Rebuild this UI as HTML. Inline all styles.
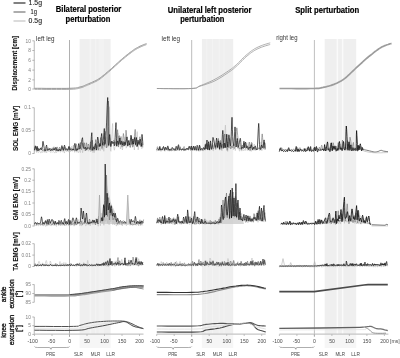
<!DOCTYPE html>
<html><head><meta charset="utf-8"><style>html,body{margin:0;padding:0;background:#fff;width:400px;height:358px;overflow:hidden;position:relative} svg{will-change:transform} text{-webkit-font-smoothing:antialiased}</style></head>
<body><svg width="400" height="358" viewBox="0 0 400 358" style="position:absolute;left:0;top:0">
<rect width="400" height="358" fill="#fff"/>
<rect x="79.60" y="39" width="31.00" height="295" fill="#efefef"/>
<rect x="79.60" y="334" width="31.00" height="14" fill="#f6f6f6"/>
<rect x="89.60" y="39" width="1.6" height="295" fill="#f4f4f4"/>
<rect x="95.00" y="39" width="1.2" height="295" fill="#f3f3f3"/>
<rect x="98.50" y="39" width="5.5" height="295" fill="#f2f2f2"/>
<rect x="201.90" y="39" width="31.30" height="295" fill="#efefef"/>
<rect x="201.90" y="334" width="31.30" height="14" fill="#f6f6f6"/>
<rect x="206.20" y="39" width="1.0" height="295" fill="#f3f3f3"/>
<rect x="211.90" y="39" width="1.0" height="295" fill="#f3f3f3"/>
<rect x="218.60" y="39" width="1.0" height="295" fill="#f3f3f3"/>
<rect x="223.70" y="39" width="1.0" height="295" fill="#f3f3f3"/>
<rect x="324.70" y="39" width="31.50" height="295" fill="#efefef"/>
<rect x="324.70" y="334" width="31.50" height="14" fill="#f6f6f6"/>
<rect x="336.70" y="39" width="1.4" height="295" fill="#fafafa"/>
<rect x="341.90" y="39" width="1.4" height="295" fill="#fafafa"/>
<line x1="69.5" y1="40" x2="69.5" y2="337" stroke="#9c9c9c" stroke-width="0.8"/>
<line x1="191.7" y1="40" x2="191.7" y2="337" stroke="#b4b4b4" stroke-width="0.9"/>
<line x1="314.4" y1="40" x2="314.4" y2="337" stroke="#b8b8b8" stroke-width="0.9"/>
<line x1="13.5" y1="3" x2="25.5" y2="3" stroke="#1a1a1a" stroke-width="1.1"/>
<line x1="13.5" y1="12" x2="25.5" y2="12" stroke="#6a6a6a" stroke-width="1.1"/>
<line x1="13.5" y1="21" x2="25.5" y2="21" stroke="#bdbdbd" stroke-width="1.1"/>
<text x="35.3" y="5.2" font-family="Liberation Sans, sans-serif" font-size="7.4" fill="#222" stroke="#222" stroke-width="0.12" text-anchor="middle" textLength="13.4" lengthAdjust="spacingAndGlyphs">1.5g</text>
<text x="33.8" y="14.2" font-family="Liberation Sans, sans-serif" font-size="7.4" fill="#222" stroke="#222" stroke-width="0.12" text-anchor="middle" textLength="6.4" lengthAdjust="spacingAndGlyphs">1g</text>
<text x="35.3" y="23.2" font-family="Liberation Sans, sans-serif" font-size="7.4" fill="#222" stroke="#222" stroke-width="0.12" text-anchor="middle" textLength="13.4" lengthAdjust="spacingAndGlyphs">0.5g</text>
<text x="88.6" y="12.4" font-family="Liberation Sans, sans-serif" font-size="8.8" font-weight="bold" fill="#000" stroke="#000" stroke-width="0.2" text-anchor="middle" textLength="65.5" lengthAdjust="spacingAndGlyphs">Bilateral posterior</text>
<text x="87.9" y="21.5" font-family="Liberation Sans, sans-serif" font-size="8.8" font-weight="bold" fill="#000" stroke="#000" stroke-width="0.2" text-anchor="middle" textLength="44.8" lengthAdjust="spacingAndGlyphs">perturbation</text>
<text x="209.6" y="12.5" font-family="Liberation Sans, sans-serif" font-size="8.8" font-weight="bold" fill="#000" stroke="#000" stroke-width="0.2" text-anchor="middle" textLength="83.8" lengthAdjust="spacingAndGlyphs">Unilateral left posterior</text>
<text x="202.3" y="21.6" font-family="Liberation Sans, sans-serif" font-size="8.8" font-weight="bold" fill="#000" stroke="#000" stroke-width="0.2" text-anchor="middle" textLength="44.3" lengthAdjust="spacingAndGlyphs">perturbation</text>
<text x="327.2" y="12.5" font-family="Liberation Sans, sans-serif" font-size="8.8" font-weight="bold" fill="#000" stroke="#000" stroke-width="0.2" text-anchor="middle" textLength="64" lengthAdjust="spacingAndGlyphs">Split perturbation</text>
<text x="36" y="40.6" font-family="Liberation Sans, sans-serif" font-size="6.3" fill="#333" text-anchor="start">left leg</text>
<text x="161.5" y="40.9" font-family="Liberation Sans, sans-serif" font-size="6.3" fill="#333" text-anchor="start">left leg</text>
<text x="276.2" y="40.2" font-family="Liberation Sans, sans-serif" font-size="6.3" fill="#333" text-anchor="start" textLength="21.3" lengthAdjust="spacingAndGlyphs">right leg</text>
<text transform="translate(17.1,63.25) rotate(-90)" font-family="Liberation Sans, sans-serif" font-size="7.0" font-weight="bold" fill="#111" stroke="#111" stroke-width="0.1" text-anchor="middle" textLength="54.7" lengthAdjust="spacingAndGlyphs">Displacement [cm]</text>
<text transform="translate(18.2,128.5) rotate(-90)" font-family="Liberation Sans, sans-serif" font-size="7.0" font-weight="bold" fill="#111" stroke="#111" stroke-width="0.1" text-anchor="middle" textLength="45.2" lengthAdjust="spacingAndGlyphs">SOL EMG [mV]</text>
<text transform="translate(17.9,198.5) rotate(-90)" font-family="Liberation Sans, sans-serif" font-size="7.0" font-weight="bold" fill="#111" stroke="#111" stroke-width="0.1" text-anchor="middle" textLength="43.5" lengthAdjust="spacingAndGlyphs">GM EMG [mV]</text>
<text transform="translate(17.8,251.45) rotate(-90)" font-family="Liberation Sans, sans-serif" font-size="7.0" font-weight="bold" fill="#111" stroke="#111" stroke-width="0.1" text-anchor="middle" textLength="38.5" lengthAdjust="spacingAndGlyphs">TA EMG [mV]</text>
<text transform="translate(6.0,294.35) rotate(-90)" font-family="Liberation Sans, sans-serif" font-size="7.2" font-weight="normal" fill="#111" stroke="#111" stroke-width="0.32" text-anchor="middle" textLength="15.7" lengthAdjust="spacingAndGlyphs">ankle</text>
<text transform="translate(13.5,293.85) rotate(-90)" font-family="Liberation Sans, sans-serif" font-size="7.2" font-weight="normal" fill="#111" stroke="#111" stroke-width="0.32" text-anchor="middle" textLength="29.3" lengthAdjust="spacingAndGlyphs">excursion</text>
<text transform="translate(21.3,293.85) rotate(-90)" font-family="Liberation Sans, sans-serif" font-size="7.2" font-weight="normal" fill="#111" stroke="#111" stroke-width="0.32" text-anchor="middle" textLength="6.6" lengthAdjust="spacingAndGlyphs">[°]</text>
<text transform="translate(6.0,330.5) rotate(-90)" font-family="Liberation Sans, sans-serif" font-size="7.2" font-weight="normal" fill="#111" stroke="#111" stroke-width="0.32" text-anchor="middle" textLength="14.6" lengthAdjust="spacingAndGlyphs">knee</text>
<text transform="translate(13.5,330.0) rotate(-90)" font-family="Liberation Sans, sans-serif" font-size="7.2" font-weight="normal" fill="#111" stroke="#111" stroke-width="0.32" text-anchor="middle" textLength="30.4" lengthAdjust="spacingAndGlyphs">excursion</text>
<text transform="translate(21.3,328.5) rotate(-90)" font-family="Liberation Sans, sans-serif" font-size="7.2" font-weight="normal" fill="#111" stroke="#111" stroke-width="0.32" text-anchor="middle" textLength="6.6" lengthAdjust="spacingAndGlyphs">[°]</text>
<line x1="34.3" y1="40.8" x2="34.3" y2="89" stroke="#c4c4c4" stroke-width="1.2"/>
<line x1="32.3" y1="40.8" x2="34.3" y2="40.8" stroke="#999" stroke-width="0.7"/>
<text x="30.9" y="42.5" font-family="Liberation Sans, sans-serif" font-size="4.8" fill="#808080" text-anchor="end">10</text>
<line x1="32.3" y1="50.5" x2="34.3" y2="50.5" stroke="#999" stroke-width="0.7"/>
<text x="30.9" y="52.2" font-family="Liberation Sans, sans-serif" font-size="4.8" fill="#808080" text-anchor="end">8</text>
<line x1="32.3" y1="60.3" x2="34.3" y2="60.3" stroke="#999" stroke-width="0.7"/>
<text x="30.9" y="62.0" font-family="Liberation Sans, sans-serif" font-size="4.8" fill="#808080" text-anchor="end">6</text>
<line x1="32.3" y1="70.1" x2="34.3" y2="70.1" stroke="#999" stroke-width="0.7"/>
<text x="30.9" y="71.8" font-family="Liberation Sans, sans-serif" font-size="4.8" fill="#808080" text-anchor="end">4</text>
<line x1="32.3" y1="79.9" x2="34.3" y2="79.9" stroke="#999" stroke-width="0.7"/>
<text x="30.9" y="81.60000000000001" font-family="Liberation Sans, sans-serif" font-size="4.8" fill="#808080" text-anchor="end">2</text>
<line x1="32.3" y1="89" x2="34.3" y2="89" stroke="#999" stroke-width="0.7"/>
<text x="30.9" y="90.7" font-family="Liberation Sans, sans-serif" font-size="4.8" fill="#808080" text-anchor="end">0</text>
<line x1="34.3" y1="107.7" x2="34.3" y2="153.5" stroke="#c4c4c4" stroke-width="1.2"/>
<line x1="32.3" y1="107.7" x2="34.3" y2="107.7" stroke="#999" stroke-width="0.7"/>
<text x="30.9" y="109.4" font-family="Liberation Sans, sans-serif" font-size="4.8" fill="#808080" text-anchor="end">0.1</text>
<line x1="32.3" y1="130.6" x2="34.3" y2="130.6" stroke="#999" stroke-width="0.7"/>
<text x="30.9" y="132.29999999999998" font-family="Liberation Sans, sans-serif" font-size="4.8" fill="#808080" text-anchor="end">0.05</text>
<line x1="32.3" y1="153.5" x2="34.3" y2="153.5" stroke="#999" stroke-width="0.7"/>
<text x="30.9" y="155.2" font-family="Liberation Sans, sans-serif" font-size="4.8" fill="#808080" text-anchor="end">0</text>
<line x1="34.3" y1="168.8" x2="34.3" y2="226" stroke="#c4c4c4" stroke-width="1.2"/>
<line x1="32.3" y1="168.8" x2="34.3" y2="168.8" stroke="#999" stroke-width="0.7"/>
<text x="30.9" y="170.5" font-family="Liberation Sans, sans-serif" font-size="4.8" fill="#808080" text-anchor="end">0.25</text>
<line x1="32.3" y1="180.2" x2="34.3" y2="180.2" stroke="#999" stroke-width="0.7"/>
<text x="30.9" y="181.89999999999998" font-family="Liberation Sans, sans-serif" font-size="4.8" fill="#808080" text-anchor="end">0.2</text>
<line x1="32.3" y1="191.6" x2="34.3" y2="191.6" stroke="#999" stroke-width="0.7"/>
<text x="30.9" y="193.29999999999998" font-family="Liberation Sans, sans-serif" font-size="4.8" fill="#808080" text-anchor="end">0.15</text>
<line x1="32.3" y1="203" x2="34.3" y2="203" stroke="#999" stroke-width="0.7"/>
<text x="30.9" y="204.7" font-family="Liberation Sans, sans-serif" font-size="4.8" fill="#808080" text-anchor="end">0.1</text>
<line x1="32.3" y1="214.5" x2="34.3" y2="214.5" stroke="#999" stroke-width="0.7"/>
<text x="30.9" y="216.2" font-family="Liberation Sans, sans-serif" font-size="4.8" fill="#808080" text-anchor="end">0.05</text>
<line x1="32.3" y1="226" x2="34.3" y2="226" stroke="#999" stroke-width="0.7"/>
<text x="30.9" y="227.7" font-family="Liberation Sans, sans-serif" font-size="4.8" fill="#808080" text-anchor="end">0.0</text>
<line x1="34.3" y1="243.7" x2="34.3" y2="266.5" stroke="#c4c4c4" stroke-width="1.2"/>
<line x1="32.3" y1="243.7" x2="34.3" y2="243.7" stroke="#999" stroke-width="0.7"/>
<text x="30.9" y="245.39999999999998" font-family="Liberation Sans, sans-serif" font-size="4.8" fill="#808080" text-anchor="end">0.02</text>
<line x1="32.3" y1="255.1" x2="34.3" y2="255.1" stroke="#999" stroke-width="0.7"/>
<text x="30.9" y="256.8" font-family="Liberation Sans, sans-serif" font-size="4.8" fill="#808080" text-anchor="end">0.01</text>
<line x1="32.3" y1="266.5" x2="34.3" y2="266.5" stroke="#999" stroke-width="0.7"/>
<text x="30.9" y="268.2" font-family="Liberation Sans, sans-serif" font-size="4.8" fill="#808080" text-anchor="end">0</text>
<line x1="34.3" y1="284.6" x2="34.3" y2="302.3" stroke="#c4c4c4" stroke-width="1.2"/>
<line x1="32.3" y1="284.6" x2="34.3" y2="284.6" stroke="#999" stroke-width="0.7"/>
<text x="30.9" y="286.3" font-family="Liberation Sans, sans-serif" font-size="4.8" fill="#808080" text-anchor="end">95</text>
<line x1="32.3" y1="293.5" x2="34.3" y2="293.5" stroke="#999" stroke-width="0.7"/>
<text x="30.9" y="295.2" font-family="Liberation Sans, sans-serif" font-size="4.8" fill="#808080" text-anchor="end">90</text>
<line x1="32.3" y1="302.3" x2="34.3" y2="302.3" stroke="#999" stroke-width="0.7"/>
<text x="30.9" y="304.0" font-family="Liberation Sans, sans-serif" font-size="4.8" fill="#808080" text-anchor="end">85</text>
<line x1="34.3" y1="317" x2="34.3" y2="334.4" stroke="#c4c4c4" stroke-width="1.2"/>
<line x1="32.3" y1="317" x2="34.3" y2="317" stroke="#999" stroke-width="0.7"/>
<text x="30.9" y="318.7" font-family="Liberation Sans, sans-serif" font-size="4.8" fill="#808080" text-anchor="end">10</text>
<line x1="32.3" y1="325.7" x2="34.3" y2="325.7" stroke="#999" stroke-width="0.7"/>
<text x="30.9" y="327.4" font-family="Liberation Sans, sans-serif" font-size="4.8" fill="#808080" text-anchor="end">5</text>
<line x1="32.3" y1="334.4" x2="34.3" y2="334.4" stroke="#999" stroke-width="0.7"/>
<text x="30.9" y="336.09999999999997" font-family="Liberation Sans, sans-serif" font-size="4.8" fill="#808080" text-anchor="end">0</text>
<line x1="34.5" y1="334.2" x2="143.5" y2="334.2" stroke="#c6c6c6" stroke-width="1.3"/>
<line x1="34.5" y1="334.3" x2="34.5" y2="336" stroke="#999" stroke-width="0.6"/>
<text x="32.7" y="343.3" font-family="Liberation Sans, sans-serif" font-size="5.1" fill="#4a4a4a" text-anchor="middle">-100</text>
<line x1="52.0" y1="334.3" x2="52.0" y2="336" stroke="#999" stroke-width="0.6"/>
<text x="51.6" y="343.3" font-family="Liberation Sans, sans-serif" font-size="5.1" fill="#4a4a4a" text-anchor="middle">-50</text>
<line x1="69.5" y1="334.3" x2="69.5" y2="336" stroke="#999" stroke-width="0.6"/>
<text x="69.6" y="343.3" font-family="Liberation Sans, sans-serif" font-size="5.1" fill="#4a4a4a" text-anchor="middle">0</text>
<line x1="87.0" y1="334.3" x2="87.0" y2="336" stroke="#999" stroke-width="0.6"/>
<text x="87.1" y="343.3" font-family="Liberation Sans, sans-serif" font-size="5.1" fill="#4a4a4a" text-anchor="middle">50</text>
<line x1="104.5" y1="334.3" x2="104.5" y2="336" stroke="#999" stroke-width="0.6"/>
<text x="104.6" y="343.3" font-family="Liberation Sans, sans-serif" font-size="5.1" fill="#4a4a4a" text-anchor="middle">100</text>
<line x1="122.0" y1="334.3" x2="122.0" y2="336" stroke="#999" stroke-width="0.6"/>
<text x="122.1" y="343.3" font-family="Liberation Sans, sans-serif" font-size="5.1" fill="#4a4a4a" text-anchor="middle">150</text>
<line x1="139.5" y1="334.3" x2="139.5" y2="336" stroke="#999" stroke-width="0.6"/>
<text x="139.6" y="343.3" font-family="Liberation Sans, sans-serif" font-size="5.1" fill="#4a4a4a" text-anchor="middle">200</text>
<path d="M34.5 346.5 Q34.5 347.5 37.5 347.5 L49.0 347.5 Q51.0 347.5 51.0 349.3 Q51.0 347.5 52.0 347.5 L66.5 347.5 Q69.5 347.5 69.5 346.5" fill="none" stroke="#777" stroke-width="0.6"/>
<text x="50.6" y="355.6" font-family="Liberation Sans, sans-serif" font-size="5.3" fill="#444" text-anchor="middle" textLength="9" lengthAdjust="spacingAndGlyphs">PRE</text>
<text x="78.425" y="355.6" font-family="Liberation Sans, sans-serif" font-size="5.3" fill="#444" text-anchor="middle" textLength="9" lengthAdjust="spacingAndGlyphs">SLR</text>
<text x="95.4" y="355.6" font-family="Liberation Sans, sans-serif" font-size="5.3" fill="#444" text-anchor="middle" textLength="9.5" lengthAdjust="spacingAndGlyphs">MLR</text>
<text x="110.625" y="355.6" font-family="Liberation Sans, sans-serif" font-size="5.3" fill="#444" text-anchor="middle" textLength="8.8" lengthAdjust="spacingAndGlyphs">LLR</text>
<line x1="156.7" y1="334.2" x2="265.7" y2="334.2" stroke="#c6c6c6" stroke-width="1.3"/>
<line x1="156.7" y1="334.3" x2="156.7" y2="336" stroke="#999" stroke-width="0.6"/>
<text x="154.89999999999998" y="343.3" font-family="Liberation Sans, sans-serif" font-size="5.1" fill="#4a4a4a" text-anchor="middle">-100</text>
<line x1="174.2" y1="334.3" x2="174.2" y2="336" stroke="#999" stroke-width="0.6"/>
<text x="173.79999999999998" y="343.3" font-family="Liberation Sans, sans-serif" font-size="5.1" fill="#4a4a4a" text-anchor="middle">-50</text>
<line x1="191.7" y1="334.3" x2="191.7" y2="336" stroke="#999" stroke-width="0.6"/>
<text x="191.79999999999998" y="343.3" font-family="Liberation Sans, sans-serif" font-size="5.1" fill="#4a4a4a" text-anchor="middle">0</text>
<line x1="209.2" y1="334.3" x2="209.2" y2="336" stroke="#999" stroke-width="0.6"/>
<text x="209.29999999999998" y="343.3" font-family="Liberation Sans, sans-serif" font-size="5.1" fill="#4a4a4a" text-anchor="middle">50</text>
<line x1="226.7" y1="334.3" x2="226.7" y2="336" stroke="#999" stroke-width="0.6"/>
<text x="226.79999999999998" y="343.3" font-family="Liberation Sans, sans-serif" font-size="5.1" fill="#4a4a4a" text-anchor="middle">100</text>
<line x1="244.2" y1="334.3" x2="244.2" y2="336" stroke="#999" stroke-width="0.6"/>
<text x="244.29999999999998" y="343.3" font-family="Liberation Sans, sans-serif" font-size="5.1" fill="#4a4a4a" text-anchor="middle">150</text>
<line x1="261.7" y1="334.3" x2="261.7" y2="336" stroke="#999" stroke-width="0.6"/>
<text x="261.8" y="343.3" font-family="Liberation Sans, sans-serif" font-size="5.1" fill="#4a4a4a" text-anchor="middle">200</text>
<path d="M156.7 346.5 Q156.7 347.5 159.7 347.5 L171.2 347.5 Q173.2 347.5 173.2 349.3 Q173.2 347.5 174.2 347.5 L188.7 347.5 Q191.7 347.5 191.7 346.5" fill="none" stroke="#777" stroke-width="0.6"/>
<text x="172.79999999999998" y="355.6" font-family="Liberation Sans, sans-serif" font-size="5.3" fill="#444" text-anchor="middle" textLength="9" lengthAdjust="spacingAndGlyphs">PRE</text>
<text x="200.625" y="355.6" font-family="Liberation Sans, sans-serif" font-size="5.3" fill="#444" text-anchor="middle" textLength="9" lengthAdjust="spacingAndGlyphs">SLR</text>
<text x="217.6" y="355.6" font-family="Liberation Sans, sans-serif" font-size="5.3" fill="#444" text-anchor="middle" textLength="9.5" lengthAdjust="spacingAndGlyphs">MLR</text>
<text x="232.825" y="355.6" font-family="Liberation Sans, sans-serif" font-size="5.3" fill="#444" text-anchor="middle" textLength="8.8" lengthAdjust="spacingAndGlyphs">LLR</text>
<line x1="279.4" y1="334.2" x2="388.4" y2="334.2" stroke="#c6c6c6" stroke-width="1.3"/>
<line x1="279.4" y1="334.3" x2="279.4" y2="336" stroke="#999" stroke-width="0.6"/>
<text x="277.59999999999997" y="343.3" font-family="Liberation Sans, sans-serif" font-size="5.1" fill="#4a4a4a" text-anchor="middle">-100</text>
<line x1="296.9" y1="334.3" x2="296.9" y2="336" stroke="#999" stroke-width="0.6"/>
<text x="296.5" y="343.3" font-family="Liberation Sans, sans-serif" font-size="5.1" fill="#4a4a4a" text-anchor="middle">-50</text>
<line x1="314.4" y1="334.3" x2="314.4" y2="336" stroke="#999" stroke-width="0.6"/>
<text x="314.5" y="343.3" font-family="Liberation Sans, sans-serif" font-size="5.1" fill="#4a4a4a" text-anchor="middle">0</text>
<line x1="331.9" y1="334.3" x2="331.9" y2="336" stroke="#999" stroke-width="0.6"/>
<text x="332.0" y="343.3" font-family="Liberation Sans, sans-serif" font-size="5.1" fill="#4a4a4a" text-anchor="middle">50</text>
<line x1="349.4" y1="334.3" x2="349.4" y2="336" stroke="#999" stroke-width="0.6"/>
<text x="349.5" y="343.3" font-family="Liberation Sans, sans-serif" font-size="5.1" fill="#4a4a4a" text-anchor="middle">100</text>
<line x1="366.9" y1="334.3" x2="366.9" y2="336" stroke="#999" stroke-width="0.6"/>
<text x="367.0" y="343.3" font-family="Liberation Sans, sans-serif" font-size="5.1" fill="#4a4a4a" text-anchor="middle">150</text>
<line x1="384.4" y1="334.3" x2="384.4" y2="336" stroke="#999" stroke-width="0.6"/>
<text x="384.5" y="343.3" font-family="Liberation Sans, sans-serif" font-size="5.1" fill="#4a4a4a" text-anchor="middle">200</text>
<path d="M279.4 346.5 Q279.4 347.5 282.4 347.5 L293.9 347.5 Q295.9 347.5 295.9 349.3 Q295.9 347.5 296.9 347.5 L311.4 347.5 Q314.4 347.5 314.4 346.5" fill="none" stroke="#777" stroke-width="0.6"/>
<text x="295.5" y="355.6" font-family="Liberation Sans, sans-serif" font-size="5.3" fill="#444" text-anchor="middle" textLength="9" lengthAdjust="spacingAndGlyphs">PRE</text>
<text x="323.325" y="355.6" font-family="Liberation Sans, sans-serif" font-size="5.3" fill="#444" text-anchor="middle" textLength="9" lengthAdjust="spacingAndGlyphs">SLR</text>
<text x="340.29999999999995" y="355.6" font-family="Liberation Sans, sans-serif" font-size="5.3" fill="#444" text-anchor="middle" textLength="9.5" lengthAdjust="spacingAndGlyphs">MLR</text>
<text x="355.525" y="355.6" font-family="Liberation Sans, sans-serif" font-size="5.3" fill="#444" text-anchor="middle" textLength="8.8" lengthAdjust="spacingAndGlyphs">LLR</text>
<text x="394.8" y="343.3" font-family="Liberation Sans, sans-serif" font-size="5.1" fill="#4a4a4a" text-anchor="middle">[ms]</text>
<polyline points="34.5,89.3 37.4,89.3 41.4,89.3 46.1,89.4 51.3,89.4 56.6,89.4 61.7,89.4 66.1,89.4 69.5,89.3 72.0,89.2 73.9,89.1 75.4,89.0 76.5,88.8 77.4,88.7 78.2,88.5 79.0,88.2 80.0,88.0 81.1,87.7 82.0,87.5 82.9,87.2 83.7,86.9 84.5,86.5 85.4,86.1 86.4,85.7 87.5,85.2 88.7,84.7 90.1,84.1 91.5,83.5 92.9,82.9 94.4,82.2 95.9,81.5 97.4,80.7 98.8,79.8 100.2,78.9 101.6,77.8 103.0,76.7 104.4,75.6 105.8,74.4 107.2,73.2 108.6,72.0 110.0,70.8 111.4,69.6 112.8,68.3 114.2,67.0 115.6,65.7 117.1,64.4 118.5,63.1 119.9,61.8 121.3,60.6 122.7,59.4 124.2,58.2 125.7,56.9 127.2,55.7 128.6,54.6 130.0,53.5 131.4,52.5 132.6,51.6 133.7,50.8 134.7,50.1 135.7,49.5 136.6,49.0 137.5,48.5 138.3,48.1 139.1,47.6 140.0,47.2 140.9,46.8 141.8,46.4 142.8,46.0 143.7,45.6 144.6,45.3 145.4,45.0 146.0,44.8 146.5,44.6" fill="none" stroke="#aaaaaa" stroke-width="1.0" stroke-linejoin="round" opacity="1"/>
<polyline points="34.5,88.3 37.4,88.3 41.4,88.3 46.1,88.4 51.3,88.4 56.6,88.4 61.7,88.4 66.1,88.4 69.5,88.3 72.0,88.2 73.9,88.1 75.4,88.0 76.5,87.8 77.4,87.7 78.2,87.5 79.0,87.2 80.0,87.0 81.1,86.7 82.0,86.5 82.9,86.2 83.7,85.9 84.5,85.5 85.4,85.1 86.4,84.7 87.5,84.2 88.7,83.7 90.1,83.1 91.5,82.5 92.9,81.9 94.4,81.2 95.9,80.5 97.4,79.7 98.8,78.8 100.2,77.9 101.6,76.8 103.0,75.7 104.4,74.6 105.8,73.4 107.2,72.2 108.6,71.0 110.0,69.8 111.4,68.6 112.8,67.3 114.2,66.0 115.6,64.7 117.1,63.4 118.5,62.1 119.9,60.8 121.3,59.6 122.7,58.4 124.2,57.2 125.7,55.9 127.2,54.7 128.6,53.6 130.0,52.5 131.4,51.5 132.6,50.6 133.7,49.8 134.7,49.1 135.7,48.5 136.6,48.0 137.5,47.5 138.3,47.1 139.1,46.6 140.0,46.2 140.9,45.8 141.8,45.4 142.8,45.0 143.7,44.6 144.6,44.3 145.4,44.0 146.0,43.8 146.5,43.6" fill="none" stroke="#8c8c8c" stroke-width="0.9" stroke-linejoin="round" opacity="1"/>
<polyline points="156.9,88.5 159.8,88.5 163.8,88.6 168.6,88.6 173.8,88.7 179.1,88.7 184.0,88.7 188.4,88.6 191.7,88.5 194.0,88.3 195.5,88.2 196.5,88.0 197.1,87.7 197.6,87.4 198.1,87.1 198.8,86.6 200.0,86.2 201.6,85.7 203.3,85.2 205.1,84.6 207.1,83.9 209.1,83.2 211.1,82.5 213.1,81.7 215.0,80.8 216.9,79.8 218.9,78.6 221.0,77.4 223.0,76.1 224.9,74.8 226.8,73.6 228.5,72.4 230.0,71.4 231.3,70.5 232.4,69.7 233.4,68.9 234.2,68.2 235.0,67.5 235.8,66.8 236.6,66.1 237.5,65.3 238.4,64.4 239.4,63.5 240.3,62.5 241.2,61.5 242.2,60.6 243.1,59.6 244.1,58.7 245.0,57.8 245.9,57.0 246.9,56.1 247.8,55.4 248.8,54.6 249.7,53.8 250.6,53.1 251.6,52.4 252.5,51.8 253.4,51.2 254.3,50.6 255.2,50.1 256.1,49.6 257.0,49.2 257.9,48.7 258.9,48.3 260.0,47.8 261.2,47.3 262.6,46.8 264.1,46.3 265.6,45.8 267.0,45.4 268.3,45.0 269.4,44.7 270.2,44.4" fill="none" stroke="#949494" stroke-width="0.75" stroke-linejoin="round" opacity="1"/>
<polyline points="156.9,88.5 159.8,88.5 163.8,88.6 168.6,88.6 173.8,88.7 179.1,88.7 184.0,88.7 188.4,88.6 191.7,88.5 194.0,88.3 195.5,88.1 196.5,87.8 197.1,87.5 197.6,87.2 198.1,86.8 198.8,86.3 200.0,85.8 201.6,85.2 203.3,84.5 205.1,83.8 207.1,82.9 209.1,82.1 211.1,81.2 213.1,80.2 215.0,79.2 216.9,78.2 218.9,77.0 221.0,75.8 223.0,74.5 224.9,73.2 226.8,72.0 228.5,70.8 230.0,69.8 231.3,68.9 232.4,68.1 233.4,67.3 234.2,66.6 235.0,65.9 235.8,65.2 236.6,64.5 237.5,63.7 238.4,62.8 239.4,61.9 240.3,60.9 241.2,59.9 242.2,59.0 243.1,58.0 244.1,57.1 245.0,56.2 245.9,55.4 246.9,54.5 247.8,53.8 248.8,53.0 249.7,52.2 250.6,51.5 251.6,50.8 252.5,50.2 253.4,49.6 254.3,49.0 255.2,48.5 256.1,48.0 257.0,47.6 257.9,47.1 258.9,46.7 260.0,46.2 261.2,45.7 262.6,45.2 264.1,44.7 265.6,44.2 267.0,43.8 268.3,43.4 269.4,43.1 270.2,42.8" fill="none" stroke="#949494" stroke-width="0.75" stroke-linejoin="round" opacity="1"/>
<polyline points="279.5,88.5 282.4,88.5 286.4,88.5 291.2,88.5 296.4,88.6 301.6,88.6 306.6,88.6 310.9,88.5 314.2,88.5 316.4,88.4 318.0,88.4 319.0,88.3 319.6,88.2 320.1,88.1 320.5,88.0 321.1,87.8 322.0,87.6 323.2,87.4 324.4,87.1 325.7,86.9 327.0,86.5 328.4,86.2 329.8,85.8 331.1,85.4 332.5,84.9 333.9,84.4 335.3,83.8 336.7,83.2 338.1,82.5 339.5,81.8 341.0,81.0 342.4,80.1 343.8,79.2 345.2,78.1 346.6,77.0 348.0,75.7 349.4,74.4 350.8,73.0 352.2,71.7 353.6,70.3 355.0,69.0 356.4,67.7 357.8,66.4 359.2,65.1 360.6,63.8 362.1,62.5 363.5,61.2 364.9,59.9 366.3,58.7 367.7,57.5 369.2,56.2 370.8,55.0 372.3,53.8 373.7,52.6 375.1,51.5 376.4,50.6 377.6,49.7 378.6,49.0 379.5,48.4 380.3,47.9 381.0,47.5 381.7,47.1 382.4,46.7 383.2,46.4 384.0,46.0 384.9,45.6 386.0,45.2 387.1,44.8 388.1,44.5 389.2,44.1 390.1,43.8 390.9,43.6 391.5,43.4" fill="none" stroke="#9c9c9c" stroke-width="1.7" stroke-linejoin="round" opacity="1"/>
<polyline points="34.5,152.2 34.7,150.4 34.9,148.0 35.3,146.8 35.7,148.1 36.1,150.6 36.6,152.4 37.0,152.4 37.3,151.5 37.7,151.0 37.9,151.5 38.2,152.3 38.5,152.7 38.8,152.3 39.2,151.4 39.6,151.0 40.0,151.6 40.5,152.5 40.9,153.1 41.2,152.7 41.4,151.9 41.7,151.4 42.1,151.7 42.5,152.3 42.9,152.6 43.2,152.0 43.5,151.1 43.8,150.6 44.2,151.1 44.6,152.0 44.9,152.5 45.2,151.8 45.5,150.7 45.7,150.1 46.0,150.9 46.2,152.3 46.6,153.0 46.9,151.8 47.4,149.8 47.8,148.7 48.2,149.3 48.5,150.7 48.9,151.7 49.2,151.4 49.5,150.7 49.8,150.3 50.1,150.9 50.4,151.9 50.7,152.5 51.1,152.3 51.5,151.8 51.9,151.5 52.2,151.7 52.5,152.0 52.8,152.3 53.1,152.0 53.4,151.6 53.7,151.5 54.1,152.0 54.5,152.7 54.8,153.1 55.2,152.6 55.6,151.7 55.9,151.2 56.1,151.6 56.3,152.4 56.5,152.8 56.7,152.4 56.9,151.7 57.2,151.2 57.6,151.4 58.0,151.9 58.3,151.9 58.6,150.9 58.9,149.5 59.2,148.8 59.5,149.7 59.8,151.3 60.2,152.3 60.6,152.0 61.0,151.1 61.4,150.6 61.9,150.9 62.3,151.5 62.7,152.0 63.1,151.9 63.5,151.5 63.8,151.4 64.1,152.1 64.3,153.0 64.5,153.0 64.8,151.2 65.1,148.4 65.4,146.9 65.8,148.0 66.3,150.3 66.7,151.7 66.9,151.0 67.1,149.4 67.4,148.5 67.7,149.3 68.1,150.7 68.6,151.8 69.0,151.8 69.4,151.4 69.8,151.1 70.0,151.4 70.3,151.9 70.5,151.7 70.9,149.9 71.3,147.5 71.7,146.3 72.0,147.6 72.3,150.1 72.6,151.3 72.9,149.6 73.1,146.6 73.4,145.1 73.8,147.0 74.2,150.3 74.6,152.3 74.9,151.4 75.1,149.2 75.3,148.0 75.7,149.0 76.1,151.0 76.4,152.2 76.7,151.6 76.9,150.2 77.1,149.5 77.5,150.4 77.9,152.0 78.3,152.8 78.8,151.9 79.2,150.2 79.6,149.3 79.9,150.4 80.1,152.3 80.4,152.7 80.8,149.7 81.3,145.1 81.7,142.8 82.1,145.4 82.3,150.2 82.6,152.8 83.0,150.1 83.4,145.3 83.7,142.5 83.9,144.4 84.1,148.5 84.3,151.1 84.7,150.4 85.2,148.3 85.6,147.0 86.0,147.8 86.3,149.4 86.6,150.5 86.9,150.0 87.2,148.9 87.4,148.4 87.8,149.2 88.2,150.5 88.5,151.2 88.9,150.2 89.2,148.5 89.6,147.7 90.0,149.1 90.4,151.4 90.9,152.0 91.3,148.5 91.6,143.1 92.0,140.5 92.3,143.4 92.6,149.0 92.9,152.8 93.2,152.5 93.4,150.4 93.7,149.2 93.9,150.1 94.2,151.9 94.4,152.6 94.7,150.9 95.0,148.2 95.3,146.6 95.6,147.6 95.9,149.5 96.3,150.2 96.6,147.7 97.0,143.8 97.4,141.7 97.7,143.6 98.0,147.2 98.3,149.7 98.6,149.5 98.9,148.2 99.3,147.5 99.6,148.7 100.0,150.6 100.3,150.7 100.7,147.1 101.1,141.9 101.4,139.1 101.7,141.6 102.0,146.6 102.2,149.8 102.6,148.9 102.9,146.2 103.2,144.7 103.4,146.8 103.6,150.2 103.8,151.3 104.3,147.2 104.7,140.8 105.2,137.2 105.5,139.7 105.8,145.0 106.1,147.9 106.4,145.2 106.7,140.1 107.0,137.3 107.4,140.9 107.8,146.7 108.3,147.0 108.6,134.1 108.9,115.8 109.2,106.7 109.6,117.0 110.1,136.5 110.5,150.2 110.9,151.3 111.2,146.4 111.5,140.7 111.9,134.4 112.3,127.2 112.6,123.5 112.8,126.1 112.8,132.1 113.0,138.0 113.4,142.9 113.8,147.6 114.3,150.2 114.7,148.8 115.0,145.2 115.4,142.8 115.8,144.0 116.1,146.3 116.5,146.7 116.9,142.4 117.4,136.1 117.8,132.9 118.2,136.3 118.4,142.8 118.7,146.4 118.9,143.5 119.2,137.8 119.4,135.0 119.7,138.5 120.1,144.9 120.4,149.0 120.6,148.2 120.9,145.1 121.2,143.4 121.5,145.2 122.0,148.3 122.4,150.0 122.7,148.6 122.9,145.7 123.2,143.9 123.4,144.6 123.6,146.3 123.9,146.7 124.2,143.5 124.6,139.0 125.0,136.9 125.4,139.7 125.9,144.8 126.2,148.2 126.5,147.8 126.7,145.6 126.9,144.2 127.2,144.9 127.5,146.5 127.9,146.9 128.3,144.8 128.8,141.7 129.2,140.2 129.5,142.1 129.7,145.5 130.0,147.6 130.4,146.6 130.8,144.3 131.3,142.9 131.7,143.7 132.2,145.4 132.6,146.1 133.0,144.5 133.3,141.9 133.6,140.9 133.9,143.6 134.1,147.9 134.4,150.0 134.6,147.1 134.8,142.0 135.0,138.9 135.4,140.6 135.8,144.4 136.2,145.8 136.5,141.4 136.9,134.7 137.2,131.6 137.5,136.2 137.9,144.4 138.1,149.9 138.4,149.3 138.6,146.0 138.8,143.6 139.1,143.9 139.5,145.1 139.8,145.9 140.1,145.4 140.4,144.5 140.7,144.2 141.0,145.6 141.4,147.6 141.8,148.7 142.2,147.9 142.6,146.3 142.9,145.0" fill="none" stroke="#bdbdbd" stroke-width="0.6" stroke-linejoin="round" opacity="1"/>
<polyline points="34.5,150.1 34.8,148.8 35.3,147.1 35.7,146.4 36.0,147.7 36.3,150.0 36.5,151.2 36.8,150.1 37.1,147.8 37.4,146.6 37.7,147.6 38.1,149.6 38.4,151.0 38.6,150.9 38.8,150.2 39.1,149.7 39.4,149.8 39.7,150.1 40.0,150.1 40.4,149.1 40.9,147.9 41.3,147.3 41.7,148.3 42.1,149.9 42.5,151.0 42.9,150.8 43.3,150.0 43.7,149.5 44.0,150.0 44.3,150.8 44.7,151.2 45.1,150.9 45.5,150.2 46.0,149.7 46.3,149.9 46.7,150.3 47.0,150.4 47.4,149.5 47.8,148.3 48.1,147.7 48.4,148.3 48.7,149.5 49.0,150.2 49.4,149.7 49.9,148.6 50.3,148.0 50.8,148.6 51.2,149.6 51.6,150.1 51.9,149.5 52.1,148.3 52.3,147.8 52.5,148.5 52.8,149.8 53.0,150.3 53.3,149.4 53.6,147.7 53.9,146.8 54.1,147.5 54.4,148.9 54.6,150.0 54.8,150.1 55.0,149.9 55.2,149.8 55.4,150.3 55.6,151.0 55.9,151.0 56.3,149.8 56.7,147.9 57.2,146.9 57.6,147.9 58.1,149.9 58.5,150.9 58.9,150.0 59.2,148.1 59.6,147.1 60.0,148.1 60.4,149.8 60.8,150.8 61.2,150.0 61.7,148.3 62.1,147.5 62.5,148.3 62.9,149.9 63.2,150.8 63.5,149.9 63.8,148.2 64.1,147.3 64.5,148.1 64.8,149.6 65.1,150.5 65.6,150.2 66.0,149.3 66.4,148.8 66.9,149.5 67.3,150.6 67.7,151.1 68.1,150.1 68.4,148.5 68.7,147.5 68.9,148.2 69.1,149.5 69.3,150.2 69.6,149.5 69.9,148.2 70.2,147.6 70.5,148.5 70.9,150.0 71.2,150.9 71.7,150.5 72.2,149.5 72.6,148.8 72.8,149.2 73.1,149.9 73.3,150.3 73.5,150.0 73.7,149.4 74.0,149.1 74.3,149.8 74.7,150.8 75.1,150.9 75.5,148.7 75.8,145.6 76.2,143.8 76.5,144.9 76.8,147.5 77.1,149.3 77.5,149.4 78.0,148.7 78.3,148.3 78.6,148.7 78.8,149.4 79.0,149.2 79.4,147.0 79.9,144.0 80.3,142.5 80.7,144.4 81.0,147.8 81.4,149.7 81.9,148.1 82.3,145.0 82.7,143.2 83.2,144.5 83.6,147.1 83.9,148.5 84.2,146.9 84.4,144.1 84.6,142.8 84.9,145.1 85.3,149.0 85.6,151.0 85.9,148.9 86.2,145.0 86.5,142.8 86.8,144.3 87.1,147.5 87.5,149.3 87.7,148.1 88.0,145.6 88.3,144.0 88.7,145.0 89.1,147.1 89.6,147.9 89.9,146.1 90.3,143.1 90.6,141.8 90.8,144.3 91.0,148.5 91.3,150.6 91.6,147.8 92.0,142.8 92.3,140.2 92.6,142.7 92.8,147.4 93.0,150.5 93.4,149.7 93.7,147.3 94.0,145.8 94.3,147.3 94.5,149.7 94.8,150.4 95.1,147.3 95.4,142.4 95.7,139.6 96.0,141.3 96.2,145.1 96.4,147.7 96.7,147.4 96.9,146.0 97.1,145.3 97.5,146.8 97.9,149.1 98.2,150.3 98.6,149.2 98.8,146.9 99.1,145.3 99.4,145.5 99.6,146.4 99.9,146.3 100.1,143.3 100.4,139.4 100.6,137.6 101.0,140.4 101.5,145.4 101.9,148.5 102.4,147.2 102.8,144.1 103.2,142.1 103.6,143.4 104.0,145.9 104.4,146.3 104.7,141.6 104.9,134.8 105.3,131.4 105.6,135.2 106.0,142.4 106.4,147.1 106.7,147.9 107.1,146.3 107.4,140.9 107.7,127.1 108.1,109.6 108.4,101.0 108.8,110.1 109.2,128.1 109.6,141.9 110.0,145.7 110.5,145.2 110.9,144.2 111.1,143.7 111.3,142.7 111.5,142.0 111.8,142.3 112.1,142.9 112.5,143.1 112.9,142.3 113.3,141.0 113.7,140.3 114.1,140.8 114.4,141.9 114.7,142.7 114.9,142.5 115.2,141.9 115.5,141.8 115.7,143.0 116.0,144.6 116.4,144.3 116.8,139.5 117.3,132.8 117.6,129.7 117.9,134.2 118.1,142.2 118.3,147.1 118.5,144.8 118.7,139.4 119.0,136.0 119.3,137.6 119.6,141.4 119.9,143.5 120.3,141.6 120.6,138.1 121.0,136.5 121.4,139.6 121.7,144.7 122.1,147.1 122.5,143.4 123.0,137.0 123.4,133.5 123.8,135.9 124.2,141.0 124.6,144.8 124.9,145.9 125.1,145.6 125.4,143.9 125.6,139.3 125.8,133.4 126.0,130.2 126.3,132.2 126.7,137.0 127.0,141.0 127.5,143.1 127.9,144.5 128.3,145.3 128.6,144.9 128.9,143.8 129.3,143.4 129.7,144.8 130.1,146.9 130.5,147.3 130.8,144.0 131.1,139.1 131.5,136.6 131.8,139.1 132.2,144.0 132.6,147.1 133.0,146.9 133.4,145.0 133.8,142.2 134.3,137.5 134.8,131.9 135.2,129.4 135.5,132.8 135.7,139.2 135.9,144.2 136.2,146.0 136.6,146.5 137.0,146.2 137.4,145.0 137.8,143.1 138.2,141.9 138.6,142.7 138.9,144.1 139.2,144.5 139.5,142.0 139.7,138.4 139.9,136.8 140.2,139.3 140.5,143.9 140.9,146.9 141.1,146.5 141.4,144.5 141.7,143.4 142.1,144.3 142.6,146.0 142.9,147.3" fill="none" stroke="#6e6e6e" stroke-width="0.6" stroke-linejoin="round" opacity="1"/>
<polyline points="34.5,150.3 34.7,148.8 35.0,146.9 35.3,145.8 35.7,146.7 36.0,148.6 36.4,149.6 36.7,148.8 36.9,147.2 37.1,146.4 37.3,147.6 37.5,149.6 37.8,150.9 38.1,150.4 38.4,149.3 38.7,148.5 39.0,148.9 39.2,149.8 39.5,150.2 39.9,149.6 40.3,148.6 40.7,148.0 41.0,148.5 41.4,149.5 41.7,149.8 42.0,149.0 42.3,147.5 42.5,146.0 42.6,144.0 42.8,142.0 43.0,141.3 43.4,143.1 43.9,146.3 44.4,148.8 44.7,150.2 44.9,151.0 45.2,150.9 45.7,149.1 46.1,146.5 46.6,145.1 46.8,146.3 47.0,148.6 47.2,150.2 47.5,150.3 47.7,149.8 48.0,149.4 48.2,149.5 48.5,149.8 48.8,149.9 49.1,149.5 49.4,148.8 49.8,148.6 50.1,149.3 50.5,150.4 50.8,151.0 51.1,150.6 51.4,149.8 51.7,149.2 52.1,149.6 52.5,150.2 52.9,150.5 53.3,149.9 53.7,148.9 54.1,148.4 54.4,148.9 54.7,149.8 55.0,150.1 55.3,149.3 55.5,147.9 55.8,147.3 56.2,148.2 56.6,149.9 57.0,151.0 57.3,150.7 57.5,149.9 57.8,149.4 58.1,149.8 58.4,150.5 58.8,150.9 59.1,150.4 59.4,149.5 59.8,149.1 60.1,149.6 60.4,150.5 60.8,150.6 61.2,149.1 61.5,146.8 61.9,145.6 62.4,146.8 62.8,149.1 63.3,150.3 63.7,149.0 64.1,146.6 64.5,145.2 64.8,146.1 65.1,148.0 65.4,149.4 65.8,149.6 66.3,149.2 66.7,149.0 67.1,149.4 67.5,149.9 67.9,149.9 68.3,148.8 68.6,147.1 69.0,146.3 69.3,147.0 69.5,148.5 69.8,149.6 70.2,149.6 70.5,149.1 71.0,148.8 71.4,149.0 71.9,149.4 72.3,149.7 72.6,149.5 72.7,149.2 73.0,149.1 73.2,149.5 73.4,150.0 73.7,149.7 74.1,147.6 74.4,144.8 74.9,143.4 75.3,145.1 75.7,148.4 76.1,150.6 76.4,150.5 76.6,149.4 76.9,148.7 77.2,149.2 77.5,150.1 77.8,150.1 78.1,148.1 78.4,145.2 78.7,143.6 79.0,144.9 79.4,147.6 79.8,149.1 80.2,148.4 80.6,146.5 81.0,144.4 81.5,141.7 82.1,138.9 82.5,137.7 82.7,139.6 82.9,143.1 83.0,146.0 83.4,147.5 83.8,148.3 84.2,148.7 84.5,148.4 84.9,147.6 85.3,147.2 85.6,147.9 86.0,149.1 86.3,149.7 86.6,149.3 86.8,148.4 87.0,147.8 87.3,147.8 87.6,148.1 88.0,148.2 88.3,148.1 88.7,147.9 89.1,147.8 89.5,148.7 90.0,149.6 90.4,148.7 90.9,143.4 91.4,136.2 91.8,132.7 92.0,136.7 92.1,144.4 92.3,149.9 92.6,150.3 93.0,148.5 93.3,147.2 93.7,147.7 94.0,148.7 94.4,148.9 94.8,147.2 95.1,144.7 95.5,143.6 95.8,145.6 96.2,149.0 96.5,150.1 96.9,146.4 97.3,140.4 97.7,137.0 98.2,139.0 98.6,143.6 99.0,146.7 99.3,146.4 99.5,144.6 99.8,143.5 100.0,144.5 100.2,146.2 100.4,146.1 100.8,142.1 101.3,136.5 101.7,133.5 102.0,136.7 102.4,142.6 102.8,145.3 103.3,140.6 103.9,132.7 104.3,128.5 104.5,132.3 104.5,139.7 104.7,144.4 105.0,144.4 105.5,141.7 106.0,135.7 106.6,122.1 107.2,105.3 107.7,97.5 108.0,107.5 108.2,126.5 108.3,141.0 108.5,145.4 108.8,145.3 109.0,143.8 109.2,140.8 109.4,136.5 109.7,134.5 110.0,137.6 110.4,143.1 110.8,146.6 111.1,145.8 111.4,142.9 111.7,141.0 112.1,141.5 112.5,142.8 112.9,143.7 113.2,143.4 113.5,142.6 113.8,142.2 114.1,143.8 114.3,145.8 114.7,145.0 115.1,137.7 115.6,127.6 116.0,122.6 116.2,128.1 116.4,138.6 116.6,146.0 116.9,146.1 117.3,143.0 117.7,140.9 118.1,141.9 118.5,143.8 118.8,144.6 119.2,142.7 119.5,139.6 119.9,138.0 120.1,139.5 120.4,142.5 120.6,144.5 120.9,143.9 121.1,142.2 121.4,141.3 121.7,142.3 122.1,144.1 122.4,145.1 122.7,144.1 122.9,142.4 123.1,141.5 123.4,142.6 123.7,144.7 124.0,145.8 124.3,144.8 124.6,143.0 124.9,141.9 125.2,142.7 125.4,144.3 125.7,144.7 126.1,142.3 126.6,138.6 127.0,136.9 127.3,139.2 127.5,143.3 127.7,145.9 128.0,144.8 128.3,142.1 128.7,140.5 129.0,141.8 129.4,144.2 129.8,145.0 130.2,142.1 130.6,137.6 131.0,135.2 131.4,137.4 131.8,141.8 132.1,144.5 132.4,143.4 132.7,140.6 132.9,139.0 133.1,140.4 133.3,142.9 133.6,144.1 133.9,142.3 134.3,139.1 134.7,137.4 135.0,139.4 135.3,142.9 135.6,144.7 135.9,142.8 136.2,139.2 136.4,137.5 136.7,139.9 137.0,144.0 137.2,146.5 137.5,145.1 137.7,142.0 138.0,140.1 138.4,141.1 138.7,143.4 139.1,144.5 139.4,143.0 139.8,140.3 140.2,139.1 140.6,141.3 141.1,144.9 141.5,146.3 141.7,142.9 141.8,137.4 142.0,134.4 142.3,136.7 142.7,141.5 142.9,145.2" fill="none" stroke="#111111" stroke-width="0.7" stroke-linejoin="round" opacity="1"/>
<polyline points="156.8,151.3 157.1,150.9 157.5,150.3 157.9,150.0 158.3,150.2 158.7,150.6 159.0,150.7 159.3,150.0 159.6,148.9 159.9,148.4 160.3,149.2 160.6,150.7 161.0,151.4 161.3,150.7 161.6,149.3 162.0,148.4 162.3,148.8 162.6,149.8 163.0,150.4 163.4,150.2 163.8,149.6 164.1,149.3 164.4,150.0 164.6,151.0 164.9,151.3 165.3,150.4 165.7,148.9 166.1,148.0 166.5,148.7 166.9,150.0 167.2,150.9 167.5,150.8 167.9,150.1 168.2,149.8 168.5,150.3 168.9,151.1 169.2,151.3 169.6,150.4 169.9,149.0 170.3,148.3 170.7,149.0 171.1,150.3 171.4,151.2 171.7,150.8 171.9,150.0 172.1,149.5 172.4,149.8 172.8,150.5 173.2,150.8 173.6,150.4 174.0,149.6 174.4,149.1 174.7,149.3 175.0,149.9 175.3,150.3 175.6,150.2 175.8,150.0 176.1,149.8 176.4,150.1 176.8,150.6 177.1,150.7 177.4,150.0 177.7,149.1 178.1,148.6 178.4,149.1 178.7,150.2 179.0,150.6 179.4,149.6 179.9,148.0 180.3,147.2 180.6,148.1 181.0,149.8 181.4,150.9 181.8,150.5 182.2,149.6 182.7,149.0 183.1,149.3 183.4,150.0 183.8,150.3 184.1,150.1 184.5,149.5 184.9,149.2 185.3,149.7 185.6,150.4 186.0,150.7 186.5,150.0 186.9,148.8 187.3,148.2 187.7,148.6 188.0,149.6 188.3,150.2 188.7,150.0 189.0,149.5 189.4,149.1 189.8,149.4 190.3,149.9 190.7,150.2 190.9,150.3 191.1,150.1 191.4,150.1 191.8,150.2 192.3,150.3 192.7,150.3 193.0,150.1 193.3,149.8 193.6,149.6 193.9,149.8 194.3,150.1 194.7,150.2 195.0,149.8 195.2,149.2 195.5,148.9 195.8,149.5 196.2,150.6 196.6,151.2 196.9,150.9 197.2,150.3 197.5,149.9 197.8,150.3 198.2,150.9 198.5,151.2 198.7,150.6 199.0,149.6 199.2,149.1 199.4,149.7 199.7,150.8 199.9,151.3 200.2,150.8 200.4,149.7 200.7,149.0 200.9,149.3 201.2,150.0 201.5,150.5 201.8,150.3 202.1,149.8 202.4,149.6 202.7,150.0 202.9,150.7 203.2,151.1 203.6,150.6 204.0,149.9 204.4,149.4 204.7,149.6 205.0,150.0 205.3,150.1 205.7,149.4 206.1,148.3 206.6,147.8 207.0,148.4 207.4,149.5 207.8,150.2 208.1,150.0 208.3,149.5 208.6,149.2 208.8,149.5 209.1,150.0 209.3,149.7 209.6,147.8 209.9,145.2 210.3,143.8 210.7,145.0 211.2,147.4 211.6,149.2 211.9,149.5 212.3,149.0 212.5,148.9 212.8,149.7 213.1,150.8 213.4,150.9 213.7,148.7 214.1,145.5 214.5,143.7 214.9,145.1 215.3,147.9 215.8,149.4 216.2,147.9 216.7,145.0 217.1,143.4 217.4,144.8 217.8,147.5 218.1,148.7 218.3,146.5 218.6,142.9 218.9,140.9 219.3,142.6 219.7,146.0 220.0,148.4 220.3,148.3 220.5,147.3 220.7,146.9 221.1,148.3 221.6,150.4 222.0,150.9 222.4,148.3 222.7,144.2 223.0,141.7 223.3,143.7 223.6,147.3 224.0,147.8 224.4,140.7 225.0,130.4 225.4,125.1 225.7,130.2 225.8,140.2 226.0,147.6 226.3,148.5 226.6,146.8 227.0,145.8 227.2,147.6 227.4,150.1 227.7,151.5 228.0,150.1 228.4,147.5 228.7,145.8 229.1,146.4 229.4,147.9 229.8,148.0 230.1,144.6 230.5,139.8 230.8,137.5 231.0,140.4 231.2,145.8 231.4,148.8 231.8,146.0 232.2,140.9 232.6,138.2 232.8,141.1 233.0,146.4 233.3,149.8 233.6,148.6 233.9,145.4 234.3,143.6 234.6,145.6 234.9,149.0 235.3,150.6 235.7,148.0 236.1,143.5 236.5,141.0 236.9,142.6 237.3,146.1 237.7,148.7 238.0,149.1 238.4,148.7 238.7,148.5 239.1,149.6 239.4,150.9 239.8,151.2 240.2,149.3 240.6,146.4 241.0,144.9 241.3,146.4 241.5,149.2 241.8,151.1 242.0,150.7 242.2,149.3 242.5,148.4 242.9,149.1 243.3,150.3 243.8,150.9 244.2,150.4 244.7,149.4 245.1,148.8 245.4,149.4 245.7,150.4 245.9,150.4 246.2,148.0 246.5,144.5 246.8,142.7 247.1,144.5 247.4,148.0 247.6,150.4 247.9,150.5 248.1,149.6 248.4,149.1 248.8,149.7 249.1,150.6 249.5,150.8 249.9,149.2 250.2,146.8 250.5,145.7 250.7,147.3 250.9,150.1 251.2,151.4 251.6,149.0 252.0,145.0 252.3,142.8 252.6,144.7 252.7,148.4 253.0,150.5 253.4,148.9 253.8,145.8 254.3,144.1 254.8,145.5 255.2,148.3 255.7,150.3 256.1,150.4 256.6,149.6 257.0,149.1 257.3,149.2 257.7,149.5 258.0,149.5 258.3,148.6 258.6,147.5 258.9,147.0 259.2,148.2 259.5,150.1 259.8,150.6 260.2,148.0 260.7,144.0 261.0,141.9 261.3,144.1 261.6,148.3 261.8,150.7 262.2,149.2 262.6,146.0 263.0,144.1 263.4,145.5 263.8,148.3 264.3,149.7 264.7,148.1 265.2,145.1 265.5,142.8" fill="none" stroke="#bdbdbd" stroke-width="0.6" stroke-linejoin="round" opacity="1"/>
<polyline points="156.8,150.5 157.0,149.2 157.2,147.6 157.5,146.7 157.9,147.4 158.3,148.9 158.7,149.7 159.0,149.1 159.3,147.9 159.6,147.3 160.0,148.1 160.5,149.6 160.9,150.5 161.1,150.4 161.3,149.8 161.5,149.3 161.7,149.5 162.0,150.0 162.3,150.0 162.7,149.0 163.1,147.6 163.5,146.9 163.9,147.5 164.3,148.8 164.6,149.6 165.1,149.4 165.5,148.8 166.0,148.5 166.4,148.9 166.9,149.6 167.3,149.9 167.6,149.3 167.8,148.4 168.1,147.9 168.3,148.5 168.5,149.6 168.8,150.3 169.2,150.2 169.6,149.8 170.0,149.6 170.4,149.7 170.7,150.1 171.1,150.3 171.3,150.1 171.6,149.7 171.9,149.5 172.2,149.8 172.6,150.2 172.9,150.4 173.1,149.8 173.3,149.0 173.6,148.6 173.9,149.1 174.3,150.1 174.7,150.7 175.1,150.5 175.5,149.8 175.9,149.5 176.2,149.8 176.5,150.3 176.9,150.3 177.3,149.1 177.7,147.3 178.1,146.4 178.5,147.4 178.9,149.3 179.3,150.4 179.6,149.5 179.9,147.7 180.2,146.7 180.5,147.4 180.8,148.9 181.1,150.0 181.5,150.0 181.9,149.5 182.3,149.2 182.6,149.4 182.9,149.7 183.2,149.6 183.5,148.6 183.8,147.1 184.1,146.5 184.3,147.6 184.6,149.5 184.8,150.8 185.1,150.5 185.5,149.6 185.8,148.9 186.2,149.1 186.5,149.6 186.9,149.8 187.1,149.3 187.3,148.6 187.5,148.2 187.8,148.6 188.1,149.4 188.4,149.6 188.8,148.6 189.2,147.0 189.7,146.3 190.1,147.3 190.4,149.2 190.8,150.4 191.2,149.8 191.6,148.6 191.9,147.9 192.2,148.7 192.5,149.9 192.8,150.4 193.2,149.2 193.5,147.2 193.9,146.2 194.2,147.2 194.4,149.1 194.7,150.3 194.9,150.1 195.2,149.1 195.4,148.6 195.7,149.2 196.0,150.2 196.4,150.7 196.7,150.2 197.1,149.2 197.4,148.7 197.8,149.3 198.3,150.2 198.7,150.5 199.1,149.0 199.5,146.8 199.8,145.6 200.1,146.7 200.3,148.9 200.6,150.3 201.0,150.0 201.5,149.0 201.9,148.5 202.2,149.0 202.5,150.0 202.8,150.6 203.1,150.0 203.6,149.0 204.0,148.3 204.4,148.9 204.9,149.8 205.3,149.8 205.5,147.9 205.7,145.0 206.0,143.6 206.4,145.0 206.9,147.7 207.3,149.3 207.7,148.1 208.0,145.7 208.4,144.5 208.8,146.1 209.3,148.9 209.7,150.3 210.0,148.6 210.2,145.5 210.5,143.7 210.8,144.7 211.1,146.9 211.4,148.3 211.8,147.6 212.2,146.0 212.6,145.1 212.9,146.3 213.1,148.2 213.4,149.1 213.7,147.7 214.1,145.3 214.4,144.1 214.8,145.5 215.2,148.1 215.6,149.3 216.1,147.7 216.5,144.8 216.9,143.1 217.2,144.5 217.4,147.1 217.7,148.1 217.9,145.1 218.1,140.6 218.4,138.4 218.8,141.5 219.3,147.0 219.7,150.1 220.0,147.7 220.2,143.0 220.5,140.4 220.8,142.5 221.1,146.7 221.4,149.3 221.8,148.4 222.2,145.8 222.6,144.3 222.9,145.7 223.1,148.1 223.3,148.5 223.7,144.0 224.2,137.5 224.6,134.0 224.9,137.4 225.1,144.0 225.3,147.5 225.6,143.9 225.9,137.4 226.2,134.1 226.5,138.2 226.8,145.7 227.1,150.4 227.4,148.9 227.7,144.8 227.9,142.1 228.2,143.5 228.4,146.4 228.7,147.7 229.0,145.3 229.3,141.3 229.6,139.4 229.8,141.7 230.1,146.0 230.4,148.9 230.7,148.7 231.1,147.1 231.5,146.1 231.8,146.5 232.0,147.4 232.3,147.8 232.6,147.0 232.9,145.7 233.2,145.2 233.6,146.1 233.9,147.8 234.3,148.5 234.7,147.8 235.1,146.2 235.5,143.5 236.0,138.0 236.4,131.3 236.8,127.8 237.2,130.1 237.7,135.5 238.1,140.5 238.5,143.9 238.9,146.9 239.2,148.9 239.5,149.1 239.8,148.3 240.1,147.8 240.5,148.5 241.0,149.5 241.4,149.7 241.7,148.3 242.0,146.2 242.3,145.1 242.7,146.0 243.1,147.9 243.5,148.7 243.7,147.1 243.9,144.5 244.2,143.1 244.6,144.4 245.0,146.9 245.5,148.4 245.9,147.8 246.4,146.2 246.8,145.4 247.2,146.6 247.6,148.7 248.1,149.4 248.5,147.2 248.9,143.7 249.3,142.0 249.6,144.2 249.9,148.3 250.2,150.5 250.6,148.5 251.0,144.6 251.4,142.4 251.8,144.1 252.3,147.4 252.7,149.7 253.0,149.7 253.3,148.8 253.6,148.2 254.0,148.7 254.5,149.7 254.9,150.2 255.1,149.7 255.3,148.7 255.6,148.2 256.0,148.6 256.4,149.4 256.9,149.8 257.3,149.4 257.7,148.7 258.1,148.2 258.4,148.4 258.7,148.8 259.0,148.9 259.4,148.6 259.8,148.0 260.2,147.7 260.6,148.4 260.9,149.5 261.2,148.7 261.5,143.9 261.8,137.3 262.2,133.9 262.6,137.3 263.1,144.0 263.6,148.5 263.9,147.6 264.3,144.4 264.6,142.6 265.0,144.2 265.3,147.2 265.5,149.5" fill="none" stroke="#6e6e6e" stroke-width="0.6" stroke-linejoin="round" opacity="1"/>
<polyline points="156.8,149.4 157.1,149.2 157.4,148.9 157.8,148.8 158.3,149.3 158.7,150.1 159.1,150.3 159.4,149.1 159.6,147.4 159.8,146.4 160.0,147.1 160.3,148.6 160.5,149.6 160.7,149.7 160.9,149.3 161.2,149.1 161.6,149.4 162.0,149.7 162.4,149.7 162.7,148.7 163.1,147.2 163.5,146.5 163.9,147.5 164.3,149.3 164.6,150.3 164.9,149.6 165.2,148.0 165.6,147.1 166.0,147.8 166.4,149.1 166.8,149.6 167.2,148.5 167.5,146.7 167.8,145.9 168.2,146.9 168.6,148.9 169.0,150.2 169.3,150.2 169.5,149.5 169.8,149.1 170.2,149.5 170.6,150.1 171.1,150.3 171.4,149.4 171.8,148.2 172.1,147.4 172.5,147.7 172.8,148.6 173.2,149.2 173.6,149.1 174.0,148.9 174.3,148.8 174.6,149.3 174.9,150.1 175.2,150.3 175.5,149.1 175.8,147.3 176.2,146.3 176.5,147.2 176.9,148.9 177.3,149.6 177.7,148.2 178.1,145.9 178.5,144.7 178.8,145.8 179.0,147.9 179.3,149.5 179.6,149.7 180.0,149.3 180.4,149.1 180.8,149.3 181.3,149.8 181.8,150.0 182.1,149.5 182.5,148.9 182.9,148.6 183.2,149.1 183.5,149.9 183.8,150.4 184.2,150.1 184.7,149.5 185.1,149.0 185.4,149.1 185.6,149.4 185.8,149.5 186.1,149.1 186.5,148.5 186.9,148.2 187.3,148.6 187.7,149.3 188.2,149.5 188.5,148.6 188.8,147.1 189.1,146.4 189.5,147.1 190.0,148.5 190.4,149.2 190.8,148.3 191.0,146.8 191.3,146.0 191.6,147.1 191.8,148.9 192.1,150.0 192.5,149.0 193.0,147.2 193.4,146.2 193.8,147.1 194.1,148.8 194.4,149.7 194.7,148.8 195.0,147.2 195.3,146.4 195.6,147.3 196.0,149.0 196.3,149.8 196.6,148.6 196.9,146.4 197.2,145.3 197.6,146.6 198.1,148.9 198.5,150.2 198.8,148.9 199.1,146.5 199.4,145.2 199.7,146.2 200.1,148.2 200.5,149.6 200.9,149.6 201.3,149.0 201.6,148.6 202.0,148.8 202.3,149.2 202.7,149.3 203.0,148.8 203.3,147.9 203.6,147.5 203.9,148.1 204.2,149.2 204.5,149.4 204.8,147.9 205.1,145.7 205.3,144.5 205.6,145.7 205.8,148.1 206.0,148.9 206.3,146.2 206.7,142.1 207.0,140.0 207.3,142.5 207.6,147.1 207.8,149.7 208.1,147.7 208.3,143.8 208.6,141.7 208.8,143.9 209.1,147.8 209.4,149.9 209.8,147.5 210.2,143.2 210.5,140.9 210.8,142.9 211.1,146.7 211.3,149.3 211.7,149.2 212.1,147.7 212.4,145.7 212.6,142.7 212.7,139.2 213.0,137.4 213.5,138.8 214.2,141.9 214.7,144.5 215.1,146.2 215.3,147.4 215.6,147.3 215.9,144.4 216.3,140.3 216.6,138.1 217.0,140.4 217.3,144.7 217.6,147.3 217.9,145.7 218.2,142.4 218.6,140.8 218.9,142.9 219.3,146.7 219.6,148.9 219.8,147.5 220.0,144.5 220.3,142.7 220.7,144.3 221.2,147.1 221.6,147.5 222.0,142.1 222.4,134.3 222.8,130.4 223.2,134.6 223.5,142.6 223.8,148.1 224.1,147.8 224.4,144.9 224.7,143.1 225.1,144.6 225.4,147.0 225.8,147.6 226.1,143.5 226.5,137.4 226.8,134.3 227.1,137.5 227.4,143.6 227.7,146.9 228.1,143.8 228.5,138.0 228.9,134.8 229.4,137.5 229.9,142.8 230.3,146.1 230.6,145.6 230.8,143.0 231.1,138.8 231.4,131.2 231.7,122.0 232.0,117.3 232.2,121.0 232.4,129.2 232.7,136.3 233.0,141.2 233.5,145.1 233.9,145.8 234.3,140.1 234.7,131.3 235.0,126.9 235.4,131.8 235.7,141.0 236.1,147.0 236.5,145.6 236.9,141.0 237.3,138.4 237.5,140.5 237.7,144.6 237.9,147.4 238.3,147.4 238.7,146.1 239.0,144.5 239.5,142.2 239.9,139.5 240.3,138.3 240.6,139.8 240.8,142.7 241.0,145.3 241.2,146.8 241.4,148.0 241.6,148.7 241.8,148.5 242.1,147.8 242.3,147.4 242.6,147.7 242.9,148.2 243.1,148.0 243.4,145.8 243.7,142.8 243.9,141.3 244.2,142.9 244.4,146.0 244.7,147.7 244.9,146.4 245.2,143.6 245.5,142.2 245.8,143.4 246.2,146.0 246.5,147.7 246.8,147.7 247.1,146.8 247.4,146.5 247.9,147.4 248.3,148.7 248.7,149.5 249.0,149.0 249.2,147.9 249.4,147.1 249.8,147.3 250.1,147.9 250.5,147.9 250.7,146.8 251.0,145.2 251.3,144.6 251.6,145.9 252.1,148.2 252.5,149.6 252.9,149.2 253.3,147.9 253.7,147.1 253.9,147.5 254.1,148.3 254.3,148.6 254.6,147.7 254.9,146.4 255.2,145.9 255.6,146.9 256.0,148.6 256.3,149.6 256.7,150.0 257.0,149.7 257.4,147.0 257.8,139.0 258.3,128.7 258.7,123.4 259.0,127.8 259.2,137.1 259.5,144.6 259.8,147.8 260.1,149.2 260.4,149.5 260.8,148.5 261.2,146.4 261.6,145.1 262.0,145.9 262.4,147.5 262.8,147.8 263.3,145.4 263.7,141.7 264.1,139.9 264.4,141.8 264.7,145.5 264.9,148.3" fill="none" stroke="#111111" stroke-width="0.7" stroke-linejoin="round" opacity="1"/>
<polyline points="279.3,150.2 279.5,150.0 279.9,149.6 280.3,149.5 280.6,149.8 281.1,150.2 281.4,150.5 281.7,150.3 281.9,149.9 282.1,149.6 282.3,149.9 282.5,150.3 282.8,150.4 283.2,150.1 283.7,149.5 284.1,149.2 284.4,149.6 284.6,150.2 284.8,150.6 285.1,150.2 285.3,149.6 285.6,149.3 285.8,149.6 286.0,150.1 286.2,150.5 286.5,150.5 286.7,150.3 287.0,150.1 287.3,150.3 287.6,150.5 288.0,150.5 288.3,150.2 288.6,149.7 288.9,149.4 289.2,149.7 289.6,150.2 290.0,150.4 290.4,150.3 290.8,149.9 291.2,149.7 291.6,149.9 292.1,150.3 292.5,150.5 292.8,150.3 293.0,149.9 293.4,149.7 293.8,149.8 294.2,150.1 294.7,150.4 295.0,150.3 295.3,150.1 295.6,150.0 295.9,150.2 296.2,150.5 296.5,150.5 296.9,150.1 297.3,149.5 297.8,149.2 298.2,149.5 298.7,150.0 299.1,150.4 299.5,150.3 299.9,150.1 300.2,150.0 300.6,150.2 300.9,150.4 301.2,150.5 301.5,150.4 301.8,150.2 302.1,150.0 302.4,150.1 302.6,150.2 302.8,150.2 303.1,149.9 303.3,149.5 303.5,149.3 303.9,149.7 304.3,150.3 304.7,150.6 305.0,150.1 305.3,149.4 305.6,149.0 306.1,149.3 306.5,150.0 307.0,150.4 307.4,150.2 307.8,149.7 308.2,149.5 308.5,149.7 308.7,150.1 309.0,150.4 309.3,150.3 309.7,150.0 310.1,149.9 310.5,150.0 310.9,150.3 311.3,150.4 311.7,150.4 312.1,150.2 312.5,150.2 312.8,150.3 313.1,150.6 313.4,150.6 313.8,150.1 314.1,149.4 314.5,149.1 314.9,149.3 315.2,149.9 315.5,150.3 315.9,150.2 316.3,149.9 316.6,149.8 316.9,149.9 317.2,150.1 317.5,150.2 317.9,149.9 318.2,149.4 318.6,149.2 318.9,149.5 319.3,150.1 319.6,150.3 319.9,149.6 320.3,148.5 320.6,147.9 320.9,148.4 321.2,149.3 321.5,149.9 321.9,149.4 322.3,148.5 322.7,148.0 323.2,148.6 323.6,149.6 324.1,150.2 324.5,149.9 324.9,149.3 325.3,148.9 325.7,149.0 326.0,149.4 326.2,149.4 326.5,148.7 326.6,147.6 326.9,147.0 327.3,147.5 327.7,148.5 328.2,149.2 328.5,149.0 328.9,148.4 329.3,148.1 329.6,148.5 329.9,149.2 330.1,149.6 330.4,149.5 330.6,149.2 330.8,149.0 331.2,149.2 331.7,149.5 332.1,149.6 332.4,149.0 332.6,148.1 332.8,147.6 333.1,148.0 333.4,148.9 333.7,149.2 333.9,148.1 334.2,146.5 334.5,145.8 334.9,146.9 335.3,148.9 335.7,150.1 336.0,149.3 336.2,147.8 336.5,146.9 336.8,147.6 337.1,149.0 337.4,149.5 337.7,148.2 338.0,146.0 338.3,145.0 338.6,146.5 338.9,149.1 339.2,150.4 339.6,148.7 340.0,145.7 340.4,144.0 340.8,145.4 341.1,148.1 341.5,149.6 341.9,147.9 342.4,145.0 342.8,143.4 343.0,144.9 343.2,147.7 343.4,149.6 343.6,149.4 343.8,148.2 344.0,147.5 344.3,148.2 344.6,149.4 344.8,149.7 345.2,147.8 345.6,145.1 346.0,143.7 346.2,145.5 346.5,148.8 346.8,150.6 347.2,149.0 347.7,145.9 348.1,144.2 348.5,145.8 348.9,148.9 349.2,150.4 349.4,148.3 349.6,144.7 349.8,142.6 350.1,144.1 350.5,147.0 350.8,148.8 351.2,147.9 351.6,145.9 352.0,144.9 352.5,146.3 352.9,148.7 353.2,150.2 353.5,149.7 353.8,148.3 354.1,147.5 354.4,147.9 354.8,148.9 355.2,149.4 355.6,148.8 356.0,147.8 356.4,147.3 356.7,148.2 357.1,149.6 357.4,150.3 357.7,149.7 358.1,148.3 358.5,147.6 358.8,148.1 359.1,149.3 359.5,149.8 359.9,149.1 360.4,147.8 360.8,147.2 361.1,148.0 361.3,149.5 361.5,150.4 361.9,150.1 362.3,149.2 362.6,148.7 362.9,149.0 363.2,149.6 363.4,150.0" fill="none" stroke="#bdbdbd" stroke-width="0.6" stroke-linejoin="round" opacity="1"/>
<polyline points="279.3,150.0 279.5,149.8 279.7,149.6 280.0,149.5 280.2,149.7 280.4,150.0 280.6,150.0 280.9,149.2 281.3,148.2 281.6,147.7 282.0,148.3 282.3,149.5 282.7,150.3 283.0,150.2 283.3,149.6 283.6,149.3 283.8,149.6 284.1,150.2 284.3,150.5 284.7,150.3 285.1,149.7 285.4,149.4 285.8,149.6 286.1,149.9 286.4,150.1 286.7,149.8 287.0,149.3 287.2,149.1 287.5,149.5 287.8,150.0 288.1,150.3 288.4,150.2 288.8,149.9 289.2,149.8 289.5,150.0 289.8,150.3 290.1,150.5 290.5,150.2 290.8,149.7 291.2,149.4 291.7,149.6 292.1,150.1 292.6,150.2 292.9,149.9 293.3,149.3 293.7,148.9 294.1,149.2 294.5,149.7 294.9,150.1 295.3,150.1 295.6,149.9 296.0,149.8 296.2,149.9 296.5,150.1 296.7,150.0 297.0,149.2 297.3,148.1 297.6,147.6 298.0,148.2 298.3,149.3 298.7,150.0 299.1,149.4 299.5,148.2 299.9,147.6 300.3,148.1 300.6,149.1 301.0,149.9 301.3,149.9 301.6,149.6 301.9,149.5 302.2,149.8 302.4,150.3 302.6,150.4 303.0,149.9 303.5,149.0 303.9,148.6 304.2,149.1 304.4,150.0 304.6,150.6 304.9,150.2 305.2,149.3 305.5,148.9 305.8,149.4 306.1,150.2 306.4,150.6 306.7,149.8 306.9,148.6 307.2,147.9 307.6,148.4 308.0,149.4 308.4,150.0 308.7,149.6 309.0,148.9 309.2,148.6 309.5,149.0 309.7,149.8 310.0,150.4 310.4,150.2 310.9,149.8 311.3,149.6 311.6,149.9 311.9,150.3 312.1,150.4 312.5,149.9 313.0,149.0 313.4,148.5 313.8,148.9 314.1,149.6 314.5,149.9 314.8,149.2 315.1,148.0 315.4,147.4 315.8,148.1 316.2,149.5 316.6,150.3 316.9,149.9 317.1,148.9 317.4,148.3 317.7,148.7 318.0,149.4 318.4,149.7 318.7,148.9 319.1,147.7 319.5,147.1 319.8,148.0 320.2,149.6 320.5,150.3 320.9,148.8 321.3,146.5 321.7,145.2 322.1,146.1 322.4,148.1 322.8,149.6 323.1,149.6 323.3,149.2 323.6,148.9 323.9,149.1 324.2,149.6 324.5,149.6 324.9,148.9 325.3,147.8 325.7,147.3 326.0,148.1 326.4,149.6 326.7,150.4 326.9,150.1 327.1,149.2 327.4,148.6 327.6,149.0 327.9,149.8 328.2,150.2 328.5,149.5 328.7,148.4 329.0,147.7 329.2,148.2 329.5,149.0 329.8,149.1 330.2,147.1 330.7,144.3 331.1,143.1 331.6,145.1 331.9,148.7 332.3,150.6 332.6,148.6 332.8,144.9 333.1,142.7 333.5,144.0 333.9,146.8 334.2,148.9 334.5,149.0 334.8,148.2 335.0,147.8 335.2,148.4 335.5,149.2 335.7,149.5 336.0,148.6 336.3,147.1 336.6,146.4 336.9,147.7 337.1,149.8 337.3,150.5 337.6,148.2 337.9,144.6 338.2,142.6 338.6,144.1 339.0,147.3 339.3,149.3 339.6,148.9 339.8,147.3 340.0,146.4 340.3,147.1 340.6,148.5 340.9,149.2 341.2,148.6 341.5,147.3 341.8,145.8 342.1,143.6 342.3,141.0 342.5,140.0 342.7,141.9 343.0,145.2 343.3,147.8 343.7,148.6 344.1,148.7 344.5,148.5 344.8,148.2 345.0,147.7 345.3,147.5 345.8,148.2 346.3,149.2 346.7,149.1 346.9,146.4 347.1,142.5 347.4,140.5 347.7,142.8 348.0,147.0 348.4,149.8 348.7,149.8 349.1,148.3 349.4,146.2 349.6,143.0 349.8,139.2 350.0,137.2 350.4,138.6 350.9,141.8 351.3,144.6 351.6,146.6 351.9,148.2 352.2,148.6 352.6,146.8 353.0,143.9 353.4,142.4 353.6,143.8 353.8,146.7 354.1,148.8 354.4,149.0 354.8,148.5 355.2,148.2 355.7,148.7 356.1,149.3 356.5,149.7 356.8,149.4 357.0,148.8 357.3,148.4 357.7,148.8 358.2,149.3 358.6,149.4 358.9,148.2 359.2,146.6 359.4,145.7 359.6,146.7 359.8,148.6 360.1,149.7 360.4,149.0 360.8,147.5 361.2,146.7 361.6,147.4 362.0,148.9 362.5,149.9 362.9,149.8 363.4,149.3 363.7,148.8" fill="none" stroke="#6e6e6e" stroke-width="0.6" stroke-linejoin="round" opacity="1"/>
<polyline points="279.3,151.6 279.6,150.3 280.0,148.7 280.5,147.8 280.8,148.5 281.1,150.0 281.4,151.0 281.7,151.0 282.1,150.6 282.5,150.4 282.9,150.7 283.2,151.2 283.6,151.5 283.9,151.3 284.3,150.9 284.6,150.7 285.0,150.9 285.4,151.4 285.8,151.6 286.2,151.2 286.6,150.5 286.9,150.2 287.2,150.6 287.3,151.3 287.6,151.5 287.9,150.3 288.3,148.6 288.7,147.7 289.0,148.4 289.4,149.8 289.7,150.9 289.9,151.0 290.2,150.7 290.4,150.5 290.7,150.7 291.0,151.0 291.4,151.2 291.7,151.0 292.1,150.7 292.5,150.6 292.9,150.9 293.2,151.4 293.6,151.6 293.9,151.3 294.3,150.8 294.6,150.5 294.9,150.8 295.1,151.3 295.4,151.2 295.6,149.6 295.9,147.5 296.2,146.5 296.6,147.7 296.9,150.1 297.2,151.6 297.5,151.1 297.7,149.8 298.0,149.0 298.3,149.7 298.6,151.0 299.0,151.7 299.4,151.1 299.9,149.8 300.3,149.1 300.7,149.5 301.1,150.4 301.5,151.1 301.9,151.0 302.3,150.7 302.7,150.5 303.2,150.8 303.6,151.2 304.1,151.2 304.3,150.4 304.6,149.2 304.8,148.6 305.0,149.3 305.2,150.6 305.5,151.5 305.7,151.4 305.9,150.9 306.2,150.6 306.5,150.7 306.8,151.0 307.1,150.9 307.5,149.5 307.9,147.6 308.3,146.7 308.7,147.9 309.1,150.0 309.5,151.2 309.9,150.0 310.2,147.7 310.6,146.6 310.8,147.7 311.0,149.8 311.3,151.3 311.6,151.4 311.9,150.9 312.3,150.6 312.7,150.8 313.2,151.2 313.6,151.1 313.9,149.9 314.2,148.3 314.4,147.4 314.8,148.4 315.1,150.1 315.4,150.9 315.7,149.7 316.1,147.6 316.4,146.5 316.8,147.9 317.1,150.3 317.4,151.9 317.8,151.6 318.2,150.5 318.6,149.6 319.0,149.7 319.3,150.0 319.6,150.3 320.0,150.2 320.4,150.1 320.8,149.9 321.2,150.0 321.6,150.0 322.0,150.0 322.4,149.7 322.7,149.2 323.0,149.0 323.3,149.7 323.7,150.7 324.0,150.8 324.2,148.8 324.4,146.0 324.6,144.6 324.9,146.3 325.3,149.5 325.7,151.0 326.3,148.5 327.0,144.2 327.5,141.9 327.8,143.6 328.0,147.2 328.2,149.8 328.5,150.1 328.8,149.5 329.2,149.2 329.5,150.2 329.8,151.5 330.1,151.5 330.5,148.8 330.9,144.9 331.3,142.8 331.6,144.7 331.9,148.4 332.2,150.7 332.4,149.8 332.7,147.4 333.0,146.0 333.4,146.8 333.7,148.6 334.0,149.5 334.4,148.5 334.7,146.7 335.0,145.9 335.4,147.3 335.8,149.7 336.1,151.2 336.5,150.7 336.8,149.3 337.2,148.5 337.5,149.1 337.8,150.3 338.1,150.3 338.6,147.5 339.0,143.6 339.4,141.5 339.7,143.2 340.0,146.8 340.3,149.3 340.6,149.3 340.9,148.3 341.2,147.8 341.5,148.9 341.9,150.4 342.2,150.7 342.7,147.9 343.1,143.8 343.5,141.5 343.8,143.0 344.0,146.2 344.2,148.7 344.6,149.9 345.1,150.2 345.5,148.1 345.8,140.9 346.0,131.3 346.3,126.0 346.6,129.2 347.0,136.7 347.3,143.2 347.5,146.9 347.7,149.5 348.0,150.3 348.3,148.0 348.6,143.9 349.0,141.8 349.3,143.9 349.6,148.0 349.9,150.4 350.2,149.2 350.5,146.3 350.8,144.8 351.1,146.3 351.4,149.2 351.8,151.0 352.2,150.4 352.6,148.7 353.0,147.7 353.3,148.4 353.5,149.8 353.8,150.6 354.2,150.2 354.6,149.1 355.1,148.5 355.5,149.4 355.9,150.7 356.2,149.8 356.3,143.4 356.4,134.8 356.6,130.6 356.9,135.4 357.4,144.6 357.7,150.9 358.0,150.6 358.2,147.4 358.4,145.4 358.6,146.5 358.8,148.7 359.0,149.8 359.4,148.1 359.9,145.2 360.3,143.8 360.7,145.6 361.1,148.8 361.5,150.9 361.8,150.3 362.1,148.5 362.3,147.5 362.6,148.1 362.9,149.4 363.1,150.4" fill="none" stroke="#111111" stroke-width="0.85" stroke-linejoin="round" opacity="1"/>
<polyline points="363.5,149.5 364.3,149.7 365.3,149.9 366.6,150.2 368.0,150.5 369.5,150.9 371.3,151.3 373.0,151.8 374.4,152.0 375.5,152.0 376.4,151.9 377.2,151.7 378.0,151.5 378.8,151.2 379.5,150.8 380.3,150.5 381.0,150.3 381.7,150.4 382.4,150.7 383.2,151.0 384.0,151.2 385.0,151.3 386.2,151.5 387.3,151.5 388.0,151.6" fill="none" stroke="#444" stroke-width="0.7" stroke-linejoin="round" opacity="1"/>
<polyline points="363.5,151.0 364.6,151.3 366.2,151.6 368.1,152.0 370.0,152.3 371.8,152.5 373.8,152.7 375.8,152.8 378.0,152.8 380.6,152.8 383.5,152.7 386.2,152.6 388.0,152.5" fill="none" stroke="#aaa" stroke-width="0.6" stroke-linejoin="round" opacity="1"/>
<path d="M101 224 L103 212 L104.5 190 L105.2 166 L106 180 L108 190 L111 203 L115 212 L119 222 L120 224 Z" fill="#cfcfcf" opacity="0.9"/>
<path d="M218 224 L221 212 L225 203 L229 199 L233 197 L236 196 L239 205 L242 216 L244 224 Z" fill="#cccccc" opacity="0.8"/>
<polyline points="34.5,226.4 34.7,226.1 35.0,225.6 35.4,225.2 35.6,225.3 35.9,225.5 36.2,225.6 36.6,225.1 36.9,224.4 37.3,224.0 37.7,224.6 38.1,225.5 38.5,225.9 38.9,225.2 39.4,224.1 39.8,223.5 40.0,224.0 40.2,225.1 40.5,225.8 40.8,225.3 41.1,224.3 41.5,223.8 41.7,224.2 42.0,225.1 42.2,225.6 42.5,225.4 42.8,224.9 43.0,224.6 43.3,225.1 43.5,225.9 43.8,226.1 44.1,225.1 44.3,223.6 44.6,222.8 44.9,223.7 45.3,225.3 45.7,226.4 46.0,226.3 46.4,225.6 46.7,225.1 47.1,225.4 47.5,225.9 47.8,225.9 48.2,224.9 48.5,223.5 48.8,222.7 49.2,223.4 49.6,224.7 50.0,225.6 50.3,225.6 50.6,225.3 50.9,225.1 51.2,225.4 51.5,225.8 51.9,225.8 52.3,224.6 52.8,223.0 53.2,222.1 53.5,223.0 53.7,224.8 54.0,225.9 54.3,225.6 54.7,224.7 55.1,224.2 55.5,224.9 56.0,226.0 56.4,226.4 56.7,225.2 57.0,223.4 57.4,222.3 57.8,223.1 58.2,224.8 58.7,225.8 59.0,225.3 59.2,224.1 59.5,223.5 59.8,224.0 60.0,224.9 60.3,225.5 60.6,225.5 60.9,225.1 61.2,224.8 61.6,225.0 61.9,225.4 62.3,225.4 62.6,224.8 62.9,223.9 63.2,223.5 63.6,224.1 64.0,225.1 64.3,225.7 64.5,225.4 64.7,224.7 64.9,224.3 65.3,224.8 65.7,225.6 66.2,225.7 66.6,224.5 67.0,222.7 67.4,221.7 67.6,222.6 67.8,224.2 68.0,225.5 68.3,225.6 68.7,225.3 69.0,225.1 69.3,225.4 69.5,225.8 69.8,225.7 70.1,224.5 70.4,222.8 70.8,221.8 71.1,222.7 71.4,224.4 71.6,225.3 71.9,224.1 72.2,222.0 72.6,221.0 73.0,222.3 73.5,224.5 73.9,226.1 74.3,226.0 74.8,225.2 75.1,224.6 75.4,224.6 75.7,224.8 76.0,224.9 76.3,224.8 76.6,224.7 76.9,224.6 77.2,224.8 77.3,225.0 77.6,224.6 78.0,222.9 78.4,220.6 78.8,219.5 79.1,221.1 79.4,223.8 79.7,225.7 80.1,225.7 80.4,224.9 80.8,224.4 81.2,225.0 81.6,225.9 81.9,226.0 82.2,224.4 82.4,221.9 82.6,220.5 82.9,221.4 83.2,223.2 83.4,224.3 83.8,223.6 84.2,222.1 84.6,221.5 84.9,222.6 85.3,224.5 85.7,225.8 86.1,225.6 86.5,224.7 87.0,224.1 87.4,224.4 87.8,225.0 88.3,225.1 88.6,223.9 89.0,222.2 89.3,221.4 89.6,222.7 89.9,224.8 90.2,225.9 90.5,224.5 90.8,221.9 91.1,220.5 91.4,221.3 91.7,223.1 92.0,224.4 92.3,224.5 92.7,224.1 93.1,223.8 93.3,223.9 93.6,224.1 93.8,224.2 94.1,224.0 94.5,223.6 94.8,223.4 95.1,223.9 95.5,224.7 95.8,224.9 96.2,223.7 96.6,222.0 97.0,221.2 97.4,222.8 97.8,225.3 98.3,226.2 98.7,223.2 99.1,218.6 99.5,216.2 99.9,218.8 100.2,223.5 100.4,225.8 100.7,222.4 100.9,216.5 101.2,213.1 101.5,215.3 101.9,220.1 102.3,223.2 102.5,222.5 102.7,220.2 103.0,219.1 103.3,220.9 103.6,223.9 103.9,225.3 104.2,223.3 104.5,219.6 104.8,217.3 105.0,218.0 105.3,220.1 105.6,221.3 106.0,220.3 106.4,218.4 106.8,217.6 107.1,219.5 107.4,222.4 107.6,223.4 107.9,220.0 108.2,214.6 108.4,212.0 108.6,215.7 108.8,222.2 109.1,224.7 109.3,218.3 109.6,207.9 109.9,202.2 110.1,206.7 110.4,215.9 110.7,221.7 111.1,219.6 111.5,214.1 111.9,211.3 112.2,214.7 112.5,220.7 112.8,224.7 113.2,224.0 113.5,221.2 113.8,219.6 114.1,221.0 114.4,223.6 114.7,224.9 114.9,223.3 115.1,220.5 115.4,219.1 115.7,220.8 116.0,223.9 116.3,226.0 116.6,226.0 116.9,225.0 117.2,224.3 117.5,224.4 117.8,224.9 118.1,225.1 118.6,224.9 119.0,224.4 119.5,224.0 119.9,224.2 120.2,224.6 120.5,224.7 120.8,224.1 121.0,223.2 121.3,222.8 121.7,223.8 122.0,225.3 122.4,225.9 122.7,224.2 123.0,221.5 123.3,220.0 123.8,221.0 124.2,223.2 124.6,224.5 124.9,223.9 125.0,222.4 125.3,221.6 125.6,222.7 126.0,224.6 126.4,225.6 126.7,224.6 127.0,222.7 127.2,221.6 127.5,222.3 127.8,223.8 128.1,224.5 128.4,223.4 128.6,221.4 129.0,220.4 129.3,221.8 129.7,224.2 130.1,225.4 130.5,224.1 130.9,221.6 131.2,220.2 131.6,221.6 132.0,224.1 132.4,225.6 132.6,224.9 132.8,223.2 133.1,222.2 133.5,222.9 133.9,224.3 134.3,225.1 134.6,224.2 134.8,222.7 135.1,221.9 135.4,222.9 135.8,224.5 136.2,225.4 136.6,224.5 137.0,222.7 137.3,221.9 137.8,223.0 138.2,225.0 138.7,226.0 139.1,224.9 139.6,222.8 140.0,221.6 140.3,222.7 140.5,224.6 140.7,225.8 141.0,224.9 141.3,223.2 141.6,222.3 142.0,222.9 142.4,224.3 142.7,225.4" fill="none" stroke="#bdbdbd" stroke-width="0.6" stroke-linejoin="round" opacity="1"/>
<polyline points="34.5,224.8 34.8,223.9 35.2,222.6 35.6,222.0 36.0,222.9 36.4,224.4 36.8,225.3 37.0,224.8 37.2,223.7 37.5,223.0 37.9,223.3 38.3,223.9 38.7,224.4 39.1,224.3 39.4,224.1 39.7,224.0 40.1,224.1 40.4,224.3 40.8,224.4 41.2,224.3 41.6,224.0 42.0,223.9 42.2,224.2 42.4,224.7 42.7,224.9 42.9,224.5 43.2,223.9 43.5,223.5 43.8,223.8 44.2,224.4 44.6,224.5 45.0,223.3 45.3,221.7 45.7,221.0 46.0,222.0 46.4,223.9 46.8,225.2 47.1,225.0 47.4,224.1 47.7,223.6 48.2,224.0 48.6,224.7 49.1,224.9 49.4,223.8 49.6,222.1 49.9,221.3 50.3,222.1 50.8,223.8 51.2,224.9 51.5,224.7 51.8,224.0 52.0,223.5 52.3,223.9 52.5,224.5 52.7,224.6 52.9,223.3 53.1,221.4 53.4,220.5 53.7,221.6 54.2,223.7 54.6,224.9 54.9,224.0 55.3,222.3 55.6,221.4 55.9,222.1 56.1,223.6 56.3,224.5 56.7,224.1 57.2,223.2 57.6,222.8 58.0,223.4 58.5,224.4 58.8,225.0 59.1,224.7 59.2,224.1 59.5,223.7 59.9,224.0 60.4,224.6 60.8,224.9 61.1,224.7 61.4,224.3 61.7,224.0 62.0,224.3 62.3,224.7 62.6,225.0 62.9,224.7 63.3,224.3 63.6,224.1 63.8,224.5 64.0,225.1 64.3,225.2 64.7,224.1 65.2,222.5 65.6,221.6 65.9,222.4 66.1,224.0 66.4,224.9 66.6,224.5 66.9,223.4 67.2,222.8 67.5,223.1 67.8,223.9 68.2,224.4 68.5,224.3 68.9,224.1 69.3,224.0 69.6,224.4 70.0,224.9 70.3,225.2 70.6,224.8 70.9,224.2 71.2,223.9 71.5,224.2 71.8,224.8 72.1,225.0 72.5,224.3 72.9,223.2 73.3,222.7 73.7,223.3 74.1,224.5 74.5,225.1 74.7,224.3 75.0,222.8 75.3,222.1 75.6,222.8 75.9,224.3 76.2,225.0 76.6,224.1 76.9,222.5 77.3,221.5 77.7,221.9 78.1,222.8 78.6,223.5 79.0,223.3 79.4,222.8 79.7,222.6 80.1,223.2 80.5,224.0 80.8,224.3 81.1,223.2 81.3,221.6 81.5,220.8 81.7,221.8 82.0,223.6 82.3,224.7 82.6,224.4 83.0,223.4 83.4,222.7 83.8,223.0 84.3,223.6 84.7,223.5 85.0,221.6 85.2,219.1 85.5,217.9 85.7,219.3 85.9,222.1 86.2,223.9 86.6,223.8 87.0,222.8 87.5,222.1 87.9,222.8 88.3,223.9 88.7,224.2 89.0,222.6 89.2,220.3 89.5,219.0 89.8,220.1 90.1,222.2 90.5,223.6 90.9,223.3 91.3,222.2 91.7,221.6 92.2,222.1 92.6,223.2 93.1,223.6 93.5,222.7 93.8,221.3 94.2,220.7 94.6,221.9 95.1,223.9 95.4,224.8 95.7,223.1 95.9,220.3 96.2,218.7 96.5,220.0 97.0,222.5 97.4,223.7 97.8,221.6 98.3,218.1 98.7,216.1 99.1,217.3 99.6,220.0 100.0,221.9 100.3,221.9 100.6,221.1 100.9,220.4 101.2,220.3 101.5,220.3 101.8,220.1 102.1,219.1 102.5,217.9 102.9,217.3 103.2,218.6 103.4,220.4 103.7,220.4 103.9,216.0 104.1,209.6 104.3,206.0 104.6,209.2 105.0,215.1 105.3,215.5 105.7,202.7 106.1,184.3 106.5,175.0 106.8,185.0 107.0,204.1 107.3,216.5 107.7,213.2 108.2,203.1 108.6,197.6 108.9,203.4 109.1,213.7 109.4,220.0 109.6,217.5 109.9,211.0 110.1,206.9 110.3,208.7 110.5,212.8 110.8,215.4 111.1,213.8 111.4,210.6 111.8,209.2 112.1,211.9 112.5,216.4 112.9,219.6 113.2,219.9 113.6,218.8 113.9,218.0 114.3,218.5 114.8,219.3 115.2,219.8 115.7,219.5 116.2,219.0 116.6,219.0 116.8,220.6 117.0,222.8 117.2,224.3 117.6,224.0 117.9,222.9 118.3,222.2 118.6,222.7 118.9,223.7 119.3,224.2 119.7,223.7 120.1,222.8 120.6,222.3 121.0,222.8 121.4,223.8 121.8,224.4 122.1,224.2 122.5,223.6 122.8,223.2 123.1,223.4 123.3,223.8 123.6,224.0 124.0,223.4 124.4,222.6 124.8,222.2 125.1,222.7 125.3,223.5 125.5,224.1 125.7,223.9 126.0,223.5 126.3,223.2 126.6,223.5 127.0,223.9 127.3,224.1 127.5,223.6 127.8,222.9 128.0,222.4 128.3,222.9 128.5,223.8 128.7,224.1 129.0,223.3 129.2,222.0 129.5,221.4 129.8,222.1 130.1,223.5 130.3,224.4 130.6,224.3 130.8,223.7 131.0,223.4 131.2,223.7 131.4,224.4 131.6,224.8 131.9,224.5 132.2,224.0 132.6,223.8 132.9,224.1 133.2,224.6 133.5,224.9 133.8,224.6 134.1,224.0 134.4,223.7 134.7,224.0 135.0,224.4 135.4,224.5 135.7,223.8 136.0,222.7 136.3,222.1 136.5,222.4 136.8,223.3 137.0,223.9 137.3,223.9 137.5,223.8 137.8,223.7 138.2,223.9 138.6,224.2 138.9,223.9 139.3,222.6 139.6,220.7 139.9,219.8 140.2,221.1 140.6,223.4 140.9,224.7 141.2,223.9 141.4,222.2 141.6,221.2 142.0,221.9 142.4,223.2 142.7,223.7 143.1,222.7 143.4,220.9 143.6,219.5" fill="none" stroke="#6e6e6e" stroke-width="0.6" stroke-linejoin="round" opacity="1"/>
<polyline points="34.5,223.9 34.7,223.5 35.0,222.9 35.4,222.7 35.7,223.0 36.1,223.5 36.5,223.8 36.9,223.5 37.3,223.0 37.7,222.7 38.1,223.0 38.4,223.5 38.7,223.8 39.0,223.6 39.2,223.3 39.4,223.0 39.7,223.3 40.1,223.6 40.5,223.2 40.8,221.1 41.2,218.2 41.5,216.8 41.9,218.5 42.4,221.8 42.8,224.0 43.1,224.1 43.4,223.1 43.7,222.4 44.0,222.8 44.3,223.4 44.5,223.6 44.9,222.7 45.2,221.3 45.5,220.6 45.9,221.4 46.3,222.8 46.6,223.5 46.9,222.4 47.2,220.6 47.4,219.6 47.7,220.8 47.9,223.0 48.1,224.1 48.4,222.8 48.8,220.4 49.1,219.1 49.5,219.9 50.0,221.8 50.3,223.1 50.6,223.2 50.8,222.7 51.0,222.1 51.3,221.1 51.6,219.9 52.0,219.3 52.4,219.8 52.8,220.8 53.2,221.8 53.7,222.8 54.1,223.8 54.4,224.2 54.7,223.4 54.9,222.0 55.1,221.2 55.5,221.9 55.9,223.2 56.3,224.0 56.8,223.7 57.2,223.0 57.6,222.6 57.9,223.1 58.1,223.9 58.3,224.1 58.5,223.0 58.7,221.3 58.9,220.4 59.3,221.2 59.7,222.9 60.1,223.8 60.5,222.9 60.9,221.2 61.3,220.3 61.6,221.2 61.8,222.8 62.0,223.9 62.2,223.6 62.5,222.9 62.7,222.4 63.0,223.0 63.2,223.9 63.5,224.0 63.9,222.3 64.3,219.9 64.7,218.6 65.0,219.7 65.2,222.1 65.5,223.6 65.8,223.3 66.2,222.1 66.5,221.5 66.8,222.2 67.1,223.4 67.5,223.9 67.8,222.6 68.2,220.6 68.5,219.5 68.8,220.8 69.0,223.1 69.2,224.4 69.5,223.5 69.8,221.6 70.0,220.4 70.3,221.1 70.5,222.6 70.7,223.6 71.0,223.7 71.3,223.3 71.7,222.5 72.1,220.9 72.5,218.9 72.9,217.8 73.3,218.4 73.7,219.8 74.1,221.2 74.5,222.3 74.8,223.3 75.2,223.5 75.6,221.7 76.0,219.1 76.4,217.8 76.8,219.1 77.1,221.6 77.4,223.3 77.8,223.4 78.1,222.8 78.5,222.3 78.7,222.5 79.0,222.9 79.3,222.9 79.7,222.7 80.1,222.2 80.5,220.5 80.7,216.2 80.9,210.8 81.1,208.0 81.5,210.6 82.1,215.9 82.5,219.1 82.9,217.1 83.1,213.1 83.4,211.0 83.7,213.1 84.1,217.2 84.4,220.4 84.7,221.9 84.9,222.5 85.1,222.5 85.3,221.8 85.6,220.6 85.8,219.0 86.0,216.6 86.2,214.0 86.5,213.0 86.8,215.2 87.2,219.2 87.5,222.2 87.8,223.4 88.0,223.7 88.3,223.6 88.5,223.2 88.8,222.5 89.0,222.1 89.2,222.5 89.4,223.3 89.6,223.7 90.0,223.3 90.4,222.6 90.8,222.2 91.2,222.3 91.6,222.7 92.0,222.7 92.3,221.8 92.5,220.5 92.7,219.9 93.0,220.4 93.3,221.6 93.5,222.3 93.7,221.8 94.0,220.7 94.2,220.2 94.4,220.8 94.6,221.9 94.9,222.7 95.1,222.7 95.4,222.4 95.7,222.2 95.9,222.3 96.1,222.5 96.4,222.3 96.6,221.1 96.8,219.6 97.0,219.0 97.3,220.3 97.7,222.6 98.1,223.6 98.5,221.9 98.9,219.0 99.4,217.3 99.7,218.6 100.1,221.1 100.4,222.5 100.7,221.3 101.1,219.1 101.4,217.7 101.7,218.9 102.0,221.0 102.4,220.9 102.8,215.9 103.3,208.7 103.7,204.7 104.0,209.2 104.3,216.8 104.5,217.2 104.8,200.4 105.0,176.4 105.2,164.0 105.5,176.0 105.9,199.5 106.3,215.0 106.5,211.6 106.8,200.3 107.1,193.2 107.4,196.7 107.8,204.6 108.2,209.9 108.6,208.8 109.0,205.0 109.4,203.1 109.6,205.7 109.9,210.2 110.2,212.8 110.5,211.0 110.8,207.4 111.2,205.7 111.6,208.3 112.0,213.0 112.5,216.1 112.8,215.9 113.2,214.1 113.5,213.2 113.8,214.4 114.1,216.4 114.4,217.4 114.7,216.1 114.9,213.9 115.2,213.1 115.6,215.5 116.0,219.3 116.5,221.7 116.9,221.2 117.3,219.3 117.7,218.3 118.1,219.4 118.5,221.4 119.0,222.6 119.4,222.3 119.9,221.2 120.3,220.6 120.8,220.9 121.2,221.7 121.6,222.3 121.8,222.3 122.0,222.0 122.3,221.9 122.7,222.1 123.1,222.3 123.6,222.5 124.0,222.2 124.5,221.8 124.9,221.7 125.3,222.1 125.7,222.8 126.1,223.2 126.5,222.9 126.9,222.2 127.3,221.9 127.7,222.4 128.1,223.2 128.5,223.4 128.9,222.1 129.3,220.3 129.7,219.4 129.9,220.4 130.1,222.4 130.4,223.4 130.7,222.4 131.0,220.5 131.3,219.3 131.6,219.8 131.9,221.2 132.2,222.0 132.6,221.8 133.0,221.0 133.4,220.7 133.8,221.3 134.2,222.3 134.6,222.5 134.8,220.5 135.1,217.7 135.4,216.4 135.8,218.2 136.2,221.4 136.6,223.5 137.0,223.3 137.4,221.9 137.8,221.1 138.3,221.8 138.7,223.0 139.2,223.7 139.5,223.2 139.8,222.2 140.1,221.7 140.3,222.1 140.5,223.0 140.8,223.4 141.1,222.6 141.4,221.5 141.8,220.8 142.2,221.2 142.7,222.2 143.0,222.9" fill="none" stroke="#111111" stroke-width="0.7" stroke-linejoin="round" opacity="1"/>
<path d="M98.3 223 L99.5 195 L100.7 223 M126.3 224 L127.8 195 L129.3 224" fill="#d6d6d6" stroke="#9a9a9a" stroke-width="0.6"/>
<polyline points="156.8,223.2 157.1,222.5 157.5,221.6 157.9,221.1 158.2,221.7 158.4,222.8 158.7,223.4 159.1,222.7 159.5,221.5 160.0,221.0 160.4,222.0 160.8,223.7 161.2,224.7 161.6,224.2 161.9,223.0 162.2,222.2 162.6,222.5 162.9,223.3 163.2,223.5 163.6,222.6 164.1,221.1 164.5,220.4 164.9,221.4 165.4,223.1 165.7,224.1 166.0,223.3 166.2,221.7 166.5,220.8 166.8,221.3 167.2,222.5 167.6,223.3 167.9,223.0 168.0,222.3 168.3,222.0 168.5,222.5 168.8,223.4 169.1,223.8 169.5,223.3 169.9,222.4 170.3,221.8 170.6,222.2 170.7,222.9 171.0,222.9 171.4,221.5 171.8,219.4 172.2,218.5 172.5,220.1 172.7,222.9 172.9,224.3 173.1,222.3 173.4,219.0 173.7,217.3 173.9,219.1 174.1,222.6 174.4,224.5 174.6,223.1 174.9,220.1 175.2,218.3 175.4,219.3 175.7,221.5 175.9,222.8 176.2,221.9 176.5,220.3 176.8,219.5 177.0,220.9 177.3,223.2 177.6,224.2 178.0,222.0 178.4,218.4 178.8,216.5 179.1,218.3 179.4,221.7 179.6,224.1 179.8,224.0 180.1,222.9 180.3,222.2 180.6,222.6 180.9,223.4 181.2,223.7 181.5,223.1 181.9,222.0 182.2,221.4 182.5,222.0 182.7,223.1 183.0,223.6 183.2,223.1 183.5,222.0 183.9,221.5 184.3,222.2 184.8,223.4 185.2,223.6 185.4,221.5 185.6,218.4 185.8,216.9 186.2,218.6 186.7,221.8 187.2,224.0 187.6,224.0 188.1,223.1 188.5,222.5 188.9,223.2 189.4,224.2 189.8,224.4 190.2,222.9 190.6,220.5 191.0,219.3 191.5,220.6 191.9,223.1 192.4,224.2 192.8,222.2 193.1,218.8 193.5,217.0 193.7,218.8 193.9,222.1 194.2,224.4 194.5,224.3 194.9,223.1 195.2,222.4 195.5,223.2 195.7,224.4 195.9,224.8 196.2,223.2 196.5,220.8 196.8,219.5 197.1,220.3 197.4,222.2 197.7,223.5 198.0,223.5 198.1,222.8 198.4,222.5 198.7,223.1 199.1,224.0 199.4,224.5 199.6,224.1 199.8,223.2 200.1,222.6 200.4,222.6 200.8,222.7 201.2,222.9 201.5,222.9 201.8,222.8 202.1,222.9 202.4,223.1 202.6,223.4 202.9,223.5 203.3,223.2 203.7,222.6 204.1,222.5 204.4,223.2 204.8,224.4 205.1,224.7 205.4,223.3 205.8,221.0 206.1,219.8 206.4,220.6 206.8,222.4 207.1,223.5 207.4,222.8 207.6,221.4 207.9,220.6 208.2,221.5 208.5,223.0 208.9,223.9 209.1,223.5 209.3,222.5 209.5,222.0 209.9,222.6 210.2,223.7 210.6,224.5 211.0,224.3 211.3,223.8 211.6,223.4 212.0,223.5 212.3,223.6 212.6,223.6 212.9,223.1 213.3,222.5 213.7,222.3 214.1,222.7 214.5,223.5 214.9,224.0 215.3,223.8 215.6,223.3 215.9,223.0 216.3,223.3 216.8,223.9 217.2,224.2 217.5,223.9 217.9,223.3 218.2,223.0 218.4,223.5 218.6,224.4 218.9,224.5 219.2,222.9 219.6,220.6 220.0,219.2 220.4,220.1 220.8,221.8 221.2,222.4 221.5,220.2 221.8,216.7 222.1,214.7 222.3,215.5 222.6,217.6 222.9,219.0 223.2,218.4 223.6,217.1 224.0,216.3 224.3,217.4 224.6,218.9 224.9,218.0 225.3,211.1 225.6,201.8 226.0,197.0 226.5,201.6 227.0,210.7 227.5,217.3 227.9,217.5 228.1,215.1 228.4,213.7 228.7,216.1 229.0,219.4 229.4,219.8 229.9,213.4 230.5,203.9 231.0,199.0 231.3,203.7 231.4,212.8 231.6,218.7 232.0,216.9 232.5,211.9 233.0,209.0 233.3,211.6 233.7,216.5 234.0,219.1 234.4,216.6 234.9,211.9 235.3,209.4 235.7,211.7 236.1,216.2 236.4,219.3 236.7,218.8 236.9,216.8 237.2,215.6 237.6,216.5 238.0,218.2 238.5,218.9 238.9,217.4 239.2,214.9 239.6,213.8 240.0,215.7 240.4,219.1 240.8,220.8 241.1,218.9 241.4,215.4 241.6,213.4 241.8,214.8 242.1,217.7 242.3,219.9 242.6,220.5 242.9,220.3 243.2,220.3 243.5,220.6 243.8,221.0 244.1,221.2 244.4,220.9 244.7,220.4 245.0,220.3 245.2,221.1 245.4,222.4 245.7,222.9 246.0,221.9 246.4,220.1 246.7,219.1 247.1,220.1 247.5,221.9 247.9,222.8 248.1,221.5 248.4,219.2 248.7,217.9 249.0,218.8 249.3,220.7 249.5,221.5 249.8,220.0 250.1,217.6 250.4,216.3 250.7,217.8 251.1,220.5 251.5,222.2 251.8,221.6 252.2,220.1 252.6,219.2 253.0,219.8 253.5,221.1 253.9,221.3 254.2,219.1 254.5,215.9 254.7,214.3 255.1,216.0 255.4,219.2 255.8,220.9 256.2,218.7 256.6,214.8 257.0,212.9 257.3,215.5 257.6,220.0 258.0,222.3 258.4,219.7 258.8,214.8 259.1,212.1 259.5,214.1 259.8,218.3 260.2,221.1 260.5,220.8 260.9,219.3 261.2,218.3 261.5,219.2 261.7,220.7 262.0,221.4 262.2,220.1 262.5,218.1 262.7,217.1 263.1,218.7 263.5,221.4 263.9,222.1 264.3,218.9 264.6,213.7 264.9,209.9" fill="none" stroke="#bdbdbd" stroke-width="0.6" stroke-linejoin="round" opacity="1"/>
<polyline points="156.8,223.3 157.0,221.5 157.3,219.1 157.6,217.9 157.8,219.2 158.1,221.6 158.5,222.9 158.9,221.4 159.4,218.6 159.8,217.1 160.1,218.3 160.3,220.7 160.6,222.4 160.9,222.5 161.3,222.0 161.7,221.8 161.9,222.5 162.1,223.6 162.3,223.9 162.7,222.8 163.1,221.1 163.4,220.0 163.6,220.6 163.8,221.9 164.0,222.4 164.2,220.8 164.5,218.3 164.7,217.1 165.0,218.5 165.3,221.2 165.7,222.7 166.1,221.6 166.5,219.5 166.9,218.3 167.2,219.6 167.5,221.8 167.8,223.3 168.1,223.0 168.3,221.9 168.6,221.3 168.8,222.1 169.0,223.3 169.2,223.7 169.6,222.0 170.1,219.4 170.5,218.1 170.8,219.5 171.0,222.2 171.2,223.7 171.5,222.8 171.8,220.9 172.1,219.7 172.5,220.4 172.8,221.9 173.1,222.6 173.4,221.5 173.6,219.6 173.9,218.8 174.2,220.3 174.6,222.8 175.0,224.5 175.3,224.1 175.5,222.9 175.7,222.0 176.1,222.2 176.4,222.7 176.8,222.6 177.2,220.8 177.7,218.3 178.1,217.1 178.4,218.5 178.8,221.3 179.1,223.1 179.5,222.9 179.8,221.7 180.2,221.1 180.5,222.0 180.9,223.5 181.2,224.2 181.5,223.3 181.7,221.6 182.0,220.8 182.5,221.5 182.9,223.1 183.4,224.0 183.7,223.7 184.1,222.7 184.3,222.2 184.6,222.5 184.8,223.2 185.0,223.3 185.3,222.2 185.7,220.5 186.1,219.7 186.5,220.8 187.0,222.7 187.4,223.4 187.8,221.5 188.2,218.4 188.5,216.7 188.8,218.2 189.0,221.2 189.2,222.8 189.4,221.2 189.7,218.3 189.9,216.7 190.3,218.0 190.7,220.8 191.1,222.7 191.6,223.0 192.0,222.5 192.4,222.2 192.6,222.8 192.9,223.7 193.1,223.6 193.3,221.3 193.5,218.0 193.7,216.4 194.0,218.2 194.2,221.6 194.5,224.0 194.9,223.9 195.2,222.7 195.7,222.0 196.1,222.6 196.5,223.6 196.9,223.7 197.3,221.6 197.6,218.6 197.9,217.1 198.2,218.8 198.4,222.1 198.6,223.9 198.9,222.5 199.2,219.8 199.5,218.2 199.8,219.5 200.1,222.1 200.3,223.6 200.6,222.6 200.9,220.6 201.1,219.4 201.4,220.3 201.8,222.1 202.1,223.1 202.3,222.3 202.4,220.7 202.7,219.9 203.1,221.1 203.6,223.1 204.0,224.0 204.3,222.6 204.6,220.1 204.8,218.8 205.0,219.9 205.3,222.0 205.5,223.6 205.8,223.5 206.1,222.9 206.5,222.4 206.7,222.6 207.0,222.9 207.3,223.2 207.7,222.9 208.0,222.5 208.4,222.3 208.8,222.5 209.1,222.9 209.5,223.0 209.7,222.1 210.0,220.8 210.2,220.3 210.5,221.3 210.7,223.1 210.9,224.1 211.2,223.5 211.4,222.1 211.7,221.3 212.0,221.9 212.4,223.0 212.8,223.6 213.1,223.1 213.5,222.1 213.8,221.6 214.1,222.4 214.3,223.7 214.6,224.2 214.8,223.1 215.1,221.3 215.3,220.3 215.5,221.1 215.8,222.7 216.0,223.6 216.3,223.1 216.6,221.9 216.9,221.3 217.2,222.0 217.5,223.2 217.9,223.7 218.2,222.3 218.7,220.1 219.0,218.9 219.3,220.0 219.5,221.9 219.7,222.8 219.9,221.2 220.1,218.4 220.3,217.0 220.6,218.5 220.9,221.4 221.2,222.8 221.6,221.9 221.9,219.6 222.2,216.2 222.5,210.4 222.7,203.6 223.0,200.0 223.3,202.6 223.6,208.5 223.9,213.3 224.2,216.2 224.5,217.9 224.8,216.7 225.4,209.0 226.0,198.3 226.5,193.0 226.7,198.7 226.9,209.8 227.0,217.3 227.3,217.7 227.5,214.5 227.9,210.3 228.4,204.2 229.0,197.1 229.5,193.6 229.8,197.1 230.1,204.2 230.4,210.3 230.8,213.9 231.2,216.5 231.6,217.4 231.9,216.2 232.1,213.5 232.3,209.6 232.5,203.2 232.8,195.6 233.0,192.0 233.2,195.7 233.5,203.3 233.7,209.7 234.0,213.1 234.2,215.3 234.4,216.6 234.7,216.9 234.9,216.3 235.2,214.6 235.8,210.6 236.5,205.5 237.0,203.0 237.3,205.5 237.4,210.5 237.6,214.6 237.9,216.5 238.2,217.5 238.5,217.5 238.8,215.9 239.0,213.3 239.3,212.2 239.5,214.1 239.7,217.5 240.0,219.6 240.3,218.9 240.5,217.0 240.8,215.9 241.2,216.7 241.5,218.4 241.9,219.4 242.2,218.9 242.6,217.7 242.9,217.2 243.4,218.2 243.8,219.7 244.2,220.7 244.5,220.3 244.8,219.4 245.2,218.9 245.5,219.9 245.9,221.4 246.3,221.9 246.7,220.2 247.1,217.5 247.5,215.9 248.0,216.9 248.5,219.0 248.9,220.2 249.3,219.0 249.6,216.9 249.9,215.9 250.2,217.4 250.5,219.9 250.8,221.5 251.2,220.6 251.7,218.8 252.1,217.9 252.5,219.2 252.9,221.4 253.3,222.2 253.5,219.7 253.7,215.8 254.0,213.6 254.3,214.9 254.7,218.0 255.0,220.2 255.4,220.3 255.8,219.4 256.1,219.0 256.4,219.8 256.8,221.0 257.1,220.8 257.4,217.6 257.8,213.0 258.1,210.7 258.5,212.8 258.8,217.1 259.1,220.2 259.4,220.5 259.8,219.5 260.2,218.9 260.6,219.8 261.1,221.1 261.5,221.0 262.0,217.8 262.4,213.2 262.8,210.8 263.1,213.2 263.4,217.8 263.7,220.4 264.0,218.5 264.4,214.6 264.8,212.6 265.1,214.8 265.4,218.8 265.6,221.8" fill="none" stroke="#6e6e6e" stroke-width="0.6" stroke-linejoin="round" opacity="1"/>
<polyline points="156.8,223.1 157.2,222.0 157.6,220.5 158.1,219.5 158.5,219.9 158.9,221.0 159.2,221.6 159.5,221.0 159.7,220.1 160.0,219.7 160.4,220.8 160.8,222.5 161.3,223.1 161.7,221.1 162.1,218.0 162.5,216.5 162.9,218.5 163.4,222.0 163.8,223.8 164.1,221.6 164.4,217.6 164.7,215.5 165.0,217.4 165.2,221.1 165.6,223.5 165.9,223.3 166.3,221.9 166.7,220.9 167.1,221.2 167.5,221.9 167.9,222.0 168.3,220.5 168.7,218.2 169.0,217.1 169.3,218.5 169.6,220.9 169.9,222.6 170.2,222.3 170.6,221.2 170.9,220.5 171.3,220.8 171.7,221.6 172.1,221.8 172.6,220.9 173.0,219.6 173.4,218.8 173.8,219.5 174.2,220.9 174.6,221.6 174.9,221.1 175.3,220.0 175.6,219.6 175.9,221.0 176.1,223.2 176.4,223.8 176.8,221.0 177.3,216.7 177.7,214.2 178.0,215.9 178.4,219.4 178.7,222.0 179.1,222.4 179.6,221.8 180.0,221.5 180.3,221.8 180.6,222.4 180.9,222.7 181.2,222.2 181.6,221.5 182.0,221.1 182.3,221.8 182.6,222.9 182.9,223.2 183.1,221.3 183.3,218.5 183.6,217.0 183.9,218.1 184.4,220.4 184.8,221.7 185.1,220.2 185.5,217.5 185.9,216.3 186.3,218.5 186.7,222.2 187.0,223.5 187.2,219.5 187.4,213.3 187.6,209.9 188.0,212.5 188.4,218.0 188.9,222.0 189.2,222.7 189.6,222.1 189.9,221.5 190.1,221.9 190.3,222.4 190.6,222.4 190.9,221.0 191.3,219.1 191.6,218.2 191.9,219.6 192.2,222.0 192.5,223.5 192.8,223.4 193.2,222.4 193.6,220.6 194.0,217.5 194.4,213.7 194.7,211.6 194.9,212.8 195.1,215.8 195.2,218.4 195.5,220.1 195.7,221.5 196.0,221.9 196.4,220.5 196.8,218.2 197.2,216.9 197.7,218.0 198.1,220.1 198.5,221.7 198.9,221.7 199.3,221.1 199.7,221.0 200.2,221.9 200.6,223.3 201.0,223.8 201.2,222.5 201.5,220.3 201.7,219.1 202.0,220.0 202.3,221.9 202.6,223.3 202.9,223.5 203.2,223.3 203.4,223.2 203.6,223.3 203.8,223.4 204.1,223.3 204.5,222.6 204.9,221.6 205.3,221.1 205.7,221.7 206.0,222.7 206.3,223.4 206.7,223.5 207.0,223.3 207.2,223.1 207.5,223.2 207.8,223.5 208.1,223.6 208.4,223.5 208.7,223.3 209.1,223.2 209.4,223.4 209.7,223.6 210.0,223.7 210.3,223.6 210.5,223.4 210.7,223.2 211.0,223.2 211.3,223.3 211.6,223.3 212.0,223.1 212.4,223.0 212.7,222.9 213.1,223.0 213.5,223.1 213.8,223.3 214.1,223.3 214.5,223.2 214.8,223.2 215.2,223.4 215.6,223.5 216.0,223.5 216.4,222.9 216.8,222.1 217.2,221.6 217.7,221.9 218.2,222.5 218.6,222.9 218.9,222.5 219.1,221.9 219.4,221.5 219.6,221.9 219.9,222.5 220.2,222.5 220.5,221.4 220.7,219.5 221.0,217.0 221.2,212.6 221.3,207.5 221.5,205.0 221.8,207.3 222.3,212.1 222.6,216.1 222.9,218.2 223.1,219.5 223.3,219.5 223.5,218.1 223.7,215.4 224.0,211.8 224.4,206.2 225.0,199.8 225.5,197.0 225.9,201.1 226.4,208.8 226.8,214.2 227.1,215.2 227.4,214.0 227.7,211.4 228.1,205.8 228.6,198.8 229.0,196.0 229.2,202.6 229.4,213.4 229.6,218.5 229.9,210.7 230.2,197.2 230.5,190.0 230.8,197.3 231.2,210.9 231.5,218.0 231.7,210.2 232.0,195.9 232.2,188.1 232.5,194.9 232.8,208.1 233.1,216.1 233.4,212.2 233.7,203.1 234.0,198.0 234.4,203.2 234.7,212.5 235.1,216.1 235.4,206.6 235.7,191.4 235.9,183.6 236.1,191.8 236.3,207.4 236.5,217.3 237.0,214.0 237.5,204.9 238.0,200.0 238.3,205.0 238.6,214.2 238.9,219.8 239.2,217.4 239.6,211.4 240.0,208.0 240.3,210.5 240.5,215.5 240.8,219.3 241.1,219.9 241.5,219.3 241.8,218.9 242.1,219.7 242.3,220.7 242.6,220.9 243.0,218.9 243.5,216.0 243.9,214.4 244.2,215.7 244.5,218.4 244.8,219.9 245.3,218.6 245.7,216.2 246.1,215.0 246.4,216.5 246.5,219.3 246.8,220.9 247.1,219.6 247.6,217.2 248.0,215.8 248.3,217.2 248.5,219.7 248.8,221.2 249.1,220.4 249.4,218.7 249.7,217.8 250.1,218.7 250.5,220.3 251.0,221.3 251.3,220.8 251.6,219.6 251.8,218.9 252.1,219.4 252.3,220.3 252.6,220.7 252.9,219.8 253.4,218.4 253.8,217.4 254.0,217.7 254.2,218.5 254.5,218.9 254.7,218.5 254.8,217.7 255.1,217.3 255.5,218.4 256.0,219.9 256.4,220.2 256.7,218.0 257.0,214.7 257.2,212.9 257.5,214.9 257.8,218.4 258.1,219.7 258.6,215.7 259.1,209.6 259.5,206.3 259.7,209.6 259.9,215.8 260.1,219.3 260.5,216.4 261.1,210.9 261.5,208.0 261.7,211.2 261.9,217.1 262.0,221.0 262.3,221.1 262.5,219.2 262.8,216.5 263.2,212.5 263.6,207.8 264.0,205.4 264.2,207.4 264.3,211.9 264.5,215.7 264.8,217.9 265.1,219.4 265.4,220.5" fill="none" stroke="#111111" stroke-width="0.7" stroke-linejoin="round" opacity="1"/>
<polyline points="281.0,224.4 281.3,224.0 281.8,223.5 282.2,223.3 282.5,223.5 282.8,223.8 283.0,224.0 283.4,223.7 283.7,223.1 284.1,222.9 284.4,223.1 284.8,223.7 285.1,224.1 285.6,224.0 286.0,223.8 286.3,223.6 286.6,223.7 286.8,223.9 287.0,224.0 287.2,223.8 287.5,223.5 287.7,223.3 288.2,223.6 288.7,224.0 289.1,224.2 289.4,224.1 289.7,223.8 289.9,223.6 290.2,223.7 290.4,223.9 290.7,224.0 291.0,224.0 291.2,223.9 291.5,223.9 291.9,224.0 292.3,224.2 292.6,224.3 292.8,224.2 293.1,224.0 293.3,223.9 293.7,224.0 294.2,224.2 294.6,224.2 294.9,224.0 295.3,223.6 295.6,223.5 296.1,223.7 296.5,224.2 296.9,224.4 297.3,223.9 297.7,223.2 298.0,222.8 298.3,223.2 298.5,223.8 298.8,224.2 299.1,224.1 299.4,223.8 299.7,223.7 300.1,223.8 300.6,224.1 301.0,224.3 301.4,224.2 301.8,224.0 302.2,223.9 302.6,224.0 303.0,224.2 303.4,224.4 303.8,224.2 304.2,224.0 304.6,223.9 304.8,224.0 305.1,224.2 305.3,224.3 305.6,223.9 305.9,223.2 306.2,222.9 306.5,223.3 306.8,224.0 307.2,224.4 307.4,224.2 307.7,223.8 307.9,223.5 308.3,223.7 308.7,224.0 309.1,224.1 309.4,223.7 309.7,223.2 310.0,222.9 310.5,223.2 310.9,223.7 311.4,223.9 311.8,223.6 312.3,223.0 312.7,222.7 313.2,223.0 313.6,223.7 314.0,224.1 314.4,223.8 314.8,223.4 315.2,223.1 315.5,223.3 315.8,223.7 316.1,223.9 316.4,223.2 316.7,222.3 317.0,221.8 317.3,222.5 317.6,223.7 317.9,224.4 318.3,224.0 318.8,223.2 319.2,222.6 319.4,222.9 319.6,223.5 319.8,223.6 320.2,222.8 320.6,221.4 321.0,220.8 321.4,221.7 321.7,223.3 322.0,224.2 322.2,223.7 322.5,222.5 322.8,221.8 323.1,222.2 323.5,223.1 323.9,223.7 324.1,223.6 324.4,223.2 324.7,222.8 325.1,222.9 325.5,223.0 326.0,222.9 326.5,222.2 326.9,221.2 327.3,220.9 327.6,221.9 327.8,223.5 328.0,224.0 328.3,222.2 328.7,219.3 329.0,217.9 329.4,219.5 329.8,222.5 330.2,224.2 330.6,222.9 331.0,220.3 331.4,218.7 331.8,219.6 332.1,221.5 332.4,222.6 332.7,221.6 333.0,219.8 333.3,218.9 333.5,220.4 333.7,222.9 334.0,224.2 334.4,223.0 334.8,220.7 335.3,219.4 335.7,220.3 336.1,222.1 336.5,223.3 336.8,222.8 337.1,221.6 337.4,221.0 337.8,221.7 338.2,223.0 338.6,223.6 339.1,222.6 339.5,221.0 339.8,220.2 340.1,221.6 340.4,223.8 340.7,224.1 341.0,220.1 341.4,214.3 341.8,211.1 342.2,213.8 342.6,219.2 342.9,221.9 343.2,218.6 343.4,212.6 343.7,209.5 343.9,213.1 344.2,219.5 344.4,223.4 344.7,221.4 345.1,216.8 345.5,214.1 345.7,215.9 346.0,219.5 346.3,222.1 346.5,222.1 346.8,221.1 347.0,220.4 347.3,221.0 347.6,222.0 347.9,222.2 348.3,220.8 348.8,218.5 349.2,217.3 349.6,218.5 350.1,220.7 350.5,221.7 351.0,219.9 351.4,216.8 351.8,215.2 352.2,216.9 352.5,220.2 352.8,222.4 353.1,222.1 353.5,220.8 353.9,220.2 354.2,221.0 354.4,222.5 354.7,223.4 355.0,223.0 355.3,222.0 355.7,221.4 356.0,222.2 356.2,223.5 356.6,224.0 357.0,222.7 357.4,220.5 357.9,219.4 358.2,220.8 358.6,223.2 358.9,224.1 359.2,221.5 359.5,217.6 359.9,215.3 360.3,217.0 360.7,220.4 361.1,222.4 361.4,221.3 361.6,218.8 361.8,217.6 362.2,219.2 362.6,222.1 363.0,223.7 363.4,222.4 363.6,219.9 363.9,218.5 364.2,219.8 364.5,222.3 364.8,224.0 365.1,223.7 365.5,222.5 365.9,221.7 366.2,222.3 366.5,223.4 366.8,223.9 367.2,223.4 367.6,222.4 368.0,221.8 368.3,222.2 368.6,223.1 368.9,223.7 369.2,223.8 369.5,223.6 369.7,223.6 370.1,223.8 370.4,224.1 370.6,224.4" fill="none" stroke="#bdbdbd" stroke-width="0.6" stroke-linejoin="round" opacity="1"/>
<polyline points="281.0,224.0 281.2,223.6 281.5,223.1 281.8,222.8 282.1,223.1 282.5,223.6 282.8,223.9 283.1,223.7 283.5,223.3 283.8,223.0 284.1,223.2 284.4,223.6 284.7,223.7 285.0,222.9 285.2,221.9 285.4,221.4 285.6,222.2 285.9,223.6 286.1,224.3 286.4,223.4 286.7,221.9 287.1,221.0 287.3,221.9 287.6,223.4 287.8,224.4 288.2,224.1 288.7,223.2 289.0,222.6 289.3,222.9 289.5,223.4 289.8,223.6 290.1,223.2 290.5,222.5 290.8,222.1 291.1,222.6 291.3,223.4 291.5,223.9 291.7,223.8 291.9,223.5 292.2,223.2 292.5,223.3 292.8,223.4 293.2,223.6 293.6,223.5 294.1,223.4 294.5,223.3 295.0,223.4 295.4,223.5 295.8,223.6 296.1,223.6 296.3,223.6 296.5,223.5 296.8,223.6 297.0,223.6 297.3,223.6 297.5,223.2 297.8,222.7 298.1,222.5 298.4,223.0 298.8,223.7 299.2,224.0 299.5,223.6 299.8,222.9 300.1,222.5 300.5,222.9 300.9,223.7 301.3,224.2 301.5,223.9 301.7,223.2 301.9,222.8 302.4,223.0 302.8,223.5 303.3,223.7 303.5,223.2 303.7,222.4 303.9,222.0 304.3,222.4 304.8,223.1 305.2,223.7 305.5,223.8 305.7,223.7 305.9,223.5 306.2,223.6 306.5,223.6 306.8,223.6 307.2,223.4 307.7,223.2 308.1,223.1 308.6,223.3 309.0,223.5 309.4,223.7 309.8,223.6 310.1,223.4 310.4,223.4 310.6,223.6 310.9,224.0 311.1,224.1 311.3,223.7 311.5,223.0 311.8,222.6 312.1,222.8 312.5,223.2 312.8,223.6 313.1,223.6 313.3,223.5 313.5,223.5 313.9,223.8 314.3,224.2 314.6,224.3 314.9,223.7 315.1,222.7 315.3,222.2 315.7,222.5 316.1,223.1 316.5,223.6 316.8,223.6 317.1,223.3 317.4,223.2 317.6,223.2 317.8,223.4 318.0,223.5 318.3,223.4 318.8,223.2 319.2,223.1 319.5,223.6 319.9,224.3 320.2,224.3 320.5,223.0 320.8,221.1 321.2,220.0 321.6,220.8 322.0,222.5 322.5,223.6 322.9,223.1 323.3,221.9 323.7,221.3 324.2,222.1 324.7,223.4 325.1,224.0 325.3,223.2 325.5,221.8 325.7,220.9 326.1,221.6 326.6,222.8 327.0,223.2 327.4,221.6 327.8,219.2 328.2,217.9 328.6,219.0 328.9,221.3 329.3,222.7 329.6,222.3 329.9,221.1 330.2,220.5 330.6,221.4 331.0,222.9 331.4,223.7 331.8,223.0 332.1,221.5 332.4,220.6 332.8,221.2 333.2,222.5 333.5,223.0 334.0,222.0 334.4,220.3 334.8,219.5 335.1,220.9 335.3,223.1 335.6,224.4 335.8,223.3 336.0,221.2 336.2,219.7 336.6,220.0 337.1,221.0 337.4,220.8 337.7,217.5 338.0,213.0 338.2,210.8 338.4,213.2 338.6,218.0 338.9,221.4 339.2,221.7 339.5,220.7 339.8,220.0 340.1,220.3 340.3,220.8 340.6,220.6 341.0,218.4 341.4,215.5 341.8,214.0 342.2,215.9 342.6,219.2 343.0,220.5 343.3,216.9 343.6,211.2 343.9,208.3 344.3,211.5 344.8,217.4 345.2,221.2 345.5,220.8 345.8,218.2 346.2,215.1 346.5,210.9 346.9,206.1 347.2,203.8 347.5,206.0 347.7,210.7 348.0,215.1 348.3,218.7 348.6,222.0 348.9,223.9 349.2,223.2 349.6,221.1 350.0,219.7 350.4,220.1 350.8,221.2 351.2,221.7 351.4,220.6 351.6,219.0 351.9,218.3 352.2,219.6 352.7,221.8 353.1,222.6 353.5,220.5 353.9,217.1 354.2,215.3 354.5,217.1 354.8,220.5 355.1,222.1 355.4,219.5 355.8,215.1 356.1,212.9 356.5,215.5 357.0,220.2 357.4,223.2 357.7,222.7 357.9,220.5 358.1,218.1 358.2,215.0 358.3,211.6 358.5,210.3 358.9,212.7 359.4,217.1 359.8,220.7 360.2,222.6 360.6,223.7 360.9,224.1 361.2,223.2 361.5,221.6 361.9,220.6 362.2,221.0 362.5,221.9 362.9,222.4 363.3,221.8 363.8,220.7 364.2,220.3 364.5,221.2 364.8,222.8 365.1,223.4 365.4,221.9 365.8,219.4 366.2,218.1 366.6,219.2 367.0,221.5 367.4,223.2 367.7,223.5 368.0,223.3 368.3,223.1 368.6,223.4 369.0,223.8 369.4,224.0 369.6,223.8 369.8,223.4 370.1,223.3 370.4,223.5 370.7,224.0 371.0,224.3" fill="none" stroke="#6e6e6e" stroke-width="0.6" stroke-linejoin="round" opacity="1"/>
<polyline points="281.0,224.3 281.2,223.9 281.5,223.4 281.9,223.2 282.2,223.6 282.6,224.2 282.9,224.5 283.1,223.8 283.4,222.8 283.6,222.2 283.8,222.5 284.0,223.3 284.2,223.9 284.6,224.0 285.0,223.8 285.4,223.7 285.8,224.0 286.1,224.3 286.5,224.4 286.8,223.9 287.2,223.1 287.5,222.6 287.9,223.2 288.3,224.1 288.7,224.4 289.1,223.4 289.5,221.8 289.9,221.0 290.2,221.9 290.4,223.7 290.6,224.8 290.8,224.7 291.0,224.0 291.3,223.6 291.7,223.7 292.1,224.1 292.5,224.2 292.7,223.7 293.0,223.0 293.2,222.6 293.5,222.9 293.8,223.5 294.2,223.9 294.6,223.8 295.0,223.4 295.4,223.3 295.7,223.8 296.0,224.5 296.3,224.8 296.7,224.3 297.1,223.4 297.5,222.9 297.9,223.4 298.2,224.3 298.5,224.8 298.8,224.1 299.1,222.9 299.5,222.2 299.9,222.8 300.3,224.0 300.7,224.6 301.1,224.0 301.5,222.8 301.9,222.1 302.1,222.8 302.3,223.9 302.5,224.4 302.8,223.3 303.1,221.6 303.4,220.6 303.8,221.4 304.3,223.0 304.7,223.9 305.1,223.2 305.4,221.8 305.8,221.1 306.2,221.8 306.7,223.2 307.1,224.1 307.5,224.1 308.0,223.8 308.3,223.6 308.6,223.8 308.8,224.2 309.0,224.3 309.3,224.1 309.7,223.7 310.2,223.5 310.6,223.5 311.1,223.7 311.5,223.8 311.8,223.8 312.0,223.6 312.2,223.6 312.4,223.6 312.6,223.7 312.8,223.7 313.2,223.5 313.6,223.3 314.0,223.2 314.3,223.7 314.6,224.4 314.8,224.5 315.1,223.5 315.4,222.0 315.7,221.2 316.1,222.1 316.5,223.6 316.9,224.3 317.3,222.9 317.8,220.7 318.1,219.5 318.4,220.6 318.7,222.7 318.9,223.8 319.2,222.7 319.4,220.7 319.7,219.5 320.0,220.5 320.3,222.3 320.6,223.4 320.9,222.5 321.2,220.8 321.6,219.9 322.0,220.8 322.3,222.4 322.8,223.5 323.2,223.3 323.6,222.4 324.1,221.4 324.6,220.0 325.2,218.5 325.6,217.8 325.9,218.8 326.0,220.6 326.2,222.1 326.4,222.9 326.7,223.4 327.0,223.3 327.2,222.5 327.4,221.0 327.8,219.3 328.3,216.9 328.9,214.3 329.4,213.1 329.7,214.4 329.9,217.0 330.0,219.3 330.2,220.6 330.5,221.5 330.7,222.0 331.1,222.1 331.5,222.0 331.9,221.4 332.3,220.2 332.7,218.6 333.1,217.8 333.5,218.6 333.9,220.2 334.2,221.4 334.6,222.2 334.8,222.6 335.1,221.7 335.4,218.1 335.6,213.3 335.9,211.1 336.1,214.2 336.4,219.9 336.6,223.6 336.8,223.0 337.1,220.6 337.3,218.9 337.6,219.4 338.0,220.7 338.3,221.1 338.5,219.4 338.7,216.8 339.0,215.3 339.3,216.4 339.6,218.4 340.0,219.0 340.3,216.0 340.7,211.6 341.0,209.5 341.3,212.5 341.5,217.8 341.8,221.4 342.0,221.7 342.3,220.2 342.6,216.9 343.2,210.0 343.9,201.4 344.4,197.2 344.6,201.5 344.8,210.2 345.0,216.8 345.3,218.5 345.8,218.1 346.3,217.1 346.7,215.2 347.1,212.6 347.5,211.7 347.9,214.3 348.3,218.6 348.7,221.2 349.1,220.0 349.4,217.2 349.7,215.6 350.0,217.2 350.3,219.9 350.7,220.7 351.1,217.2 351.5,211.9 352.0,208.9 352.4,210.9 352.9,215.3 353.2,218.5 353.5,218.6 353.6,217.4 353.9,216.7 354.2,217.9 354.7,219.6 355.1,219.5 355.6,215.1 356.2,208.8 356.6,205.6 356.8,209.1 357.0,215.8 357.1,219.8 357.3,217.7 357.6,213.0 357.9,210.4 358.2,212.9 358.7,217.6 359.1,220.8 359.6,220.7 360.0,219.0 360.5,218.1 360.9,219.3 361.3,221.1 361.6,221.8 362.0,219.8 362.2,216.7 362.6,215.2 363.0,216.9 363.5,220.2 363.9,222.5 364.2,222.4 364.3,221.3 364.6,220.7 364.9,221.4 365.2,222.5 365.5,222.7 365.9,220.9 366.2,218.2 366.5,216.7 366.8,218.0 367.1,220.4 367.5,221.7 367.9,220.1 368.4,217.3 368.8,216.0 369.2,217.9 369.6,221.3 369.9,223.9 370.3,224.5 370.7,224.2 370.9,223.9" fill="none" stroke="#111111" stroke-width="0.85" stroke-linejoin="round" opacity="1"/>
<polyline points="371.6,224.8 385.0,225.3 386.6,224.4 388.0,225.0" fill="none" stroke="#444" stroke-width="0.8" stroke-linejoin="round" opacity="1"/>
<polyline points="371.6,226.0 388.0,226.0" fill="none" stroke="#bbb" stroke-width="0.6" stroke-linejoin="round" opacity="1"/>
<polyline points="34.5,266.1 34.8,265.5 35.3,264.7 35.7,264.3 36.0,264.8 36.3,265.7 36.7,266.3 37.0,266.2 37.4,265.7 37.8,265.0 38.2,263.7 38.6,262.0 39.0,261.3 39.5,262.2 40.0,264.0 40.4,265.3 40.8,265.9 41.1,266.2 41.4,266.0 41.8,264.9 42.3,263.5 42.7,262.8 43.0,263.5 43.3,264.9 43.5,265.9 43.9,266.1 44.3,265.9 44.8,265.2 45.3,263.6 45.8,261.5 46.3,260.5 46.7,261.5 47.0,263.5 47.3,265.1 47.7,265.8 48.1,266.1 48.5,266.1 49.0,265.7 49.4,264.9 49.8,264.1 50.0,262.9 50.1,261.5 50.3,261.0 50.7,261.9 51.2,263.5 51.7,264.9 52.1,265.8 52.6,266.3 53.0,266.4 53.5,265.7 53.9,264.5 54.3,263.9 54.6,264.2 54.8,265.1 55.0,265.7 55.2,265.7 55.5,265.5 55.8,265.4 56.1,265.8 56.3,266.3 56.6,266.5 56.9,266.1 57.2,265.3 57.5,264.9 57.9,265.3 58.4,266.1 58.8,266.2 59.2,264.7 59.6,262.6 60.0,261.5 60.2,262.8 60.4,265.1 60.7,266.5 61.1,265.8 61.5,264.2 62.0,263.2 62.4,263.9 62.7,265.3 63.0,265.9 63.3,265.0 63.6,263.3 63.9,262.5 64.1,263.5 64.4,265.4 64.7,266.4 65.0,265.5 65.4,263.7 65.8,262.7 66.2,263.5 66.7,265.1 67.1,266.2 67.4,265.8 67.6,264.9 67.9,264.4 68.1,264.7 68.4,265.5 68.6,265.9 68.8,265.7 69.1,265.2 69.4,264.9 69.7,265.0 70.2,265.3 70.6,265.5 70.9,265.4 71.3,265.1 71.7,264.9 72.1,265.2 72.5,265.7 73.0,265.9 73.3,265.5 73.6,264.9 74.0,264.6 74.4,265.0 74.8,265.8 75.2,266.2 75.5,265.8 75.7,265.1 76.0,264.7 76.2,265.2 76.5,266.1 76.8,266.4 77.1,265.6 77.3,264.2 77.5,263.4 77.8,264.0 78.1,265.1 78.3,265.6 78.7,264.8 79.1,263.4 79.4,262.8 79.8,263.7 80.2,265.4 80.6,266.5 81.0,266.5 81.4,265.9 81.8,265.4 82.1,265.5 82.4,265.8 82.7,265.6 83.0,264.6 83.4,263.2 83.7,262.5 84.1,263.2 84.4,264.7 84.7,265.7 85.0,265.6 85.3,265.1 85.6,264.8 86.0,265.3 86.4,266.0 86.7,266.0 87.1,264.3 87.4,261.7 87.7,260.4 88.0,261.5 88.2,263.9 88.5,265.5 88.8,265.5 89.2,264.9 89.5,264.5 90.0,265.0 90.4,265.7 90.8,266.0 91.2,265.3 91.5,264.3 91.7,263.8 92.1,264.5 92.4,265.8 92.7,266.6 93.0,266.2 93.3,265.4 93.5,264.9 93.9,265.2 94.3,265.8 94.6,266.1 94.9,265.7 95.2,265.1 95.5,264.8 95.9,265.1 96.4,265.8 96.7,266.2 97.0,265.9 97.2,265.4 97.5,265.1 97.9,265.4 98.3,265.9 98.7,266.2 99.0,266.0 99.3,265.5 99.6,265.2 99.8,265.2 100.0,265.3 100.2,265.4 100.4,265.1 100.7,264.8 100.9,264.7 101.1,265.2 101.4,265.9 101.7,266.2 102.1,265.9 102.5,265.3 102.9,265.0 103.4,265.2 103.8,265.7 104.2,265.8 104.6,264.8 104.9,263.5 105.2,262.8 105.6,263.7 106.1,265.3 106.5,266.3 106.8,265.9 107.1,264.9 107.5,264.3 107.8,264.8 108.2,265.8 108.6,266.2 109.0,265.0 109.4,263.3 109.8,262.2 110.3,262.7 110.8,263.9 111.2,264.8 111.6,264.9 111.9,264.7 112.3,264.6 112.6,264.9 112.9,265.3 113.2,265.2 113.5,264.0 113.9,262.4 114.2,261.6 114.5,263.0 114.7,265.2 114.9,266.4 115.3,264.9 115.6,262.3 115.9,260.8 116.2,261.6 116.3,263.6 116.6,264.9 116.8,264.6 117.1,263.7 117.4,263.2 117.8,263.9 118.1,264.9 118.5,265.3 118.7,263.9 118.9,261.9 119.2,260.9 119.6,262.3 120.0,264.7 120.4,265.9 120.9,264.1 121.3,261.0 121.7,259.3 122.2,260.6 122.6,263.4 123.0,265.3 123.3,265.4 123.7,264.8 124.0,264.2 124.4,264.1 124.7,264.2 125.0,264.2 125.4,264.1 125.9,264.0 126.3,264.1 126.8,264.8 127.3,265.8 127.7,266.2 128.0,265.6 128.3,264.4 128.6,263.7 128.9,264.0 129.1,264.8 129.4,265.1 129.8,264.4 130.2,263.3 130.6,262.7 131.0,263.4 131.4,264.6 131.8,265.4 132.1,265.1 132.3,264.4 132.6,264.0 132.9,264.5 133.3,265.2 133.8,265.5 134.2,264.9 134.7,263.8 135.1,263.1 135.4,263.6 135.5,264.6 135.8,264.5 136.2,262.3 136.6,259.1 137.0,257.4 137.3,259.3 137.6,262.6 137.8,264.6 138.1,263.1 138.3,260.2 138.6,258.7 139.0,260.6 139.4,263.9 139.7,266.0 140.0,265.1 140.2,262.9 140.5,261.6 140.8,262.5 141.2,264.3 141.6,265.5 142.0,265.2 142.5,264.4 142.9,263.7" fill="none" stroke="#bdbdbd" stroke-width="0.6" stroke-linejoin="round" opacity="1"/>
<polyline points="34.5,266.2 34.7,265.3 34.9,264.2 35.2,263.6 35.6,264.1 36.0,265.0 36.4,265.6 36.8,265.4 37.1,264.7 37.3,264.5 37.6,264.9 37.8,265.7 38.1,266.2 38.5,266.0 38.9,265.5 39.3,265.2 39.7,265.3 40.1,265.4 40.4,265.5 40.7,265.3 40.9,265.1 41.1,265.0 41.3,265.3 41.5,265.9 41.8,266.1 42.2,265.5 42.7,264.6 43.1,264.1 43.5,264.6 43.9,265.4 44.2,265.9 44.6,265.6 45.0,264.9 45.3,264.5 45.6,264.9 45.8,265.6 46.1,266.0 46.3,265.8 46.6,265.3 46.9,265.0 47.2,265.2 47.5,265.5 47.9,265.7 48.1,265.5 48.3,265.2 48.6,265.0 49.0,265.2 49.4,265.6 49.8,265.7 50.0,265.4 50.2,265.0 50.4,264.7 50.8,264.9 51.2,265.2 51.5,265.5 51.8,265.5 52.0,265.3 52.3,265.3 52.7,265.3 53.0,265.5 53.4,265.5 53.6,265.4 53.8,265.1 54.0,265.0 54.4,265.3 54.8,265.8 55.1,265.9 55.3,265.1 55.5,264.0 55.8,263.4 56.1,264.0 56.5,265.2 56.9,266.0 57.1,265.9 57.3,265.4 57.6,265.1 57.9,265.2 58.3,265.4 58.6,265.6 59.1,265.6 59.5,265.5 60.0,265.4 60.4,265.4 60.7,265.5 61.0,265.6 61.3,265.4 61.5,265.2 61.8,265.1 62.2,265.3 62.6,265.5 63.1,265.7 63.5,265.6 63.9,265.3 64.3,265.2 64.8,265.2 65.2,265.4 65.6,265.5 65.9,265.5 66.2,265.4 66.6,265.4 67.0,265.5 67.4,265.6 67.8,265.6 68.2,265.1 68.7,264.4 69.1,264.1 69.5,264.7 69.9,265.7 70.2,266.1 70.4,265.3 70.6,264.1 70.9,263.4 71.2,263.9 71.6,265.0 72.0,265.7 72.3,265.7 72.7,265.4 73.1,265.2 73.5,265.3 73.9,265.4 74.3,265.5 74.7,265.3 75.2,265.0 75.5,264.9 75.8,265.2 76.1,265.6 76.3,265.7 76.5,265.1 76.8,264.0 77.0,263.5 77.5,264.1 77.9,265.3 78.4,265.9 78.8,265.2 79.1,263.9 79.5,263.2 79.8,263.8 80.1,264.9 80.5,265.7 80.9,265.5 81.3,264.8 81.8,264.5 82.2,265.0 82.6,265.8 83.0,266.2 83.4,265.4 83.8,264.2 84.1,263.6 84.5,264.2 84.8,265.3 85.1,266.0 85.5,265.5 86.0,264.5 86.4,264.0 86.6,264.5 86.8,265.5 87.0,266.2 87.4,266.1 87.8,265.7 88.3,265.4 88.6,265.5 89.0,265.7 89.4,265.9 89.8,265.7 90.2,265.4 90.6,265.3 91.1,265.4 91.5,265.7 91.9,265.8 92.3,265.5 92.6,265.1 93.0,264.9 93.3,265.1 93.5,265.6 93.8,265.9 94.0,265.6 94.2,265.0 94.5,264.7 94.7,265.1 95.0,265.6 95.4,265.8 95.8,265.1 96.3,264.1 96.7,263.5 97.0,264.0 97.2,265.1 97.4,265.7 97.7,265.2 98.1,264.3 98.4,263.8 98.7,264.4 99.0,265.4 99.3,265.9 99.6,265.5 100.0,264.6 100.3,264.1 100.5,264.5 100.7,265.3 101.0,265.6 101.3,264.9 101.8,263.8 102.2,263.2 102.5,263.8 102.9,265.0 103.3,265.7 103.6,265.1 103.9,264.1 104.2,263.5 104.6,264.0 105.1,264.9 105.5,265.4 105.9,265.1 106.3,264.5 106.8,264.3 107.2,264.8 107.7,265.7 108.1,266.2 108.4,265.6 108.6,264.6 108.8,264.0 109.1,264.4 109.5,265.2 109.8,265.4 110.2,264.1 110.6,262.2 111.0,261.3 111.3,262.5 111.7,264.7 112.1,266.0 112.5,265.7 112.9,264.6 113.3,263.9 113.8,264.2 114.2,264.8 114.6,265.1 114.9,264.6 115.1,263.7 115.3,263.2 115.7,264.0 116.1,265.2 116.6,265.3 117.1,262.8 117.6,259.3 118.0,257.5 118.3,259.6 118.6,263.4 118.9,265.8 119.1,264.8 119.4,262.3 119.7,260.8 120.0,261.7 120.3,263.5 120.6,264.8 120.8,264.9 121.0,264.4 121.2,264.0 121.5,264.3 121.8,264.7 122.1,265.0 122.6,264.7 123.0,264.3 123.4,264.0 123.7,264.3 123.9,264.8 124.1,264.9 124.4,263.8 124.7,262.3 125.0,261.7 125.4,262.7 125.7,264.6 126.0,265.8 126.3,265.5 126.6,264.5 127.0,263.9 127.3,264.6 127.8,265.6 128.1,265.8 128.4,264.0 128.6,261.2 128.8,259.9 129.2,261.4 129.7,264.3 130.1,266.1 130.5,265.5 130.9,263.9 131.3,262.8 131.5,263.1 131.8,264.0 132.0,264.6 132.2,264.8 132.4,264.8 132.6,264.0 132.7,261.7 132.8,258.7 133.0,257.0 133.3,257.9 133.7,260.1 134.1,262.1 134.4,263.5 134.7,264.8 135.1,265.1 135.3,263.4 135.6,260.7 135.8,259.3 136.1,260.6 136.3,263.2 136.6,265.1 136.8,265.2 137.1,264.6 137.3,264.3 137.7,265.0 138.1,265.9 138.4,266.1 138.7,264.7 139.0,262.6 139.4,261.4 139.7,262.1 140.0,263.7 140.4,264.6 140.8,264.1 141.2,263.0 141.6,262.3 142.0,262.9 142.3,264.0 142.7,264.8 143.0,264.8 143.4,264.4 143.6,264.1" fill="none" stroke="#6e6e6e" stroke-width="0.6" stroke-linejoin="round" opacity="1"/>
<polyline points="34.5,265.5 34.8,265.4 35.3,265.4 35.8,265.4 36.1,265.5 36.5,265.6 36.9,265.6 37.3,265.3 37.7,264.8 38.1,264.6 38.4,264.9 38.8,265.5 39.1,265.8 39.5,265.5 39.8,265.1 40.2,264.8 40.7,265.0 41.1,265.4 41.6,265.5 41.9,265.1 42.2,264.5 42.5,264.2 42.9,264.5 43.4,265.1 43.8,265.5 44.1,265.4 44.3,265.0 44.5,264.8 44.9,265.0 45.4,265.3 45.8,265.5 46.1,265.3 46.3,264.9 46.5,264.7 46.7,264.8 46.9,265.2 47.2,265.4 47.6,265.4 48.0,265.4 48.5,265.3 48.8,265.4 49.2,265.5 49.5,265.4 49.9,265.1 50.2,264.7 50.6,264.5 51.0,264.7 51.3,265.2 51.7,265.5 52.0,265.5 52.4,265.3 52.8,265.2 53.2,265.3 53.7,265.5 54.1,265.6 54.4,265.5 54.7,265.3 55.0,265.2 55.4,265.3 55.9,265.4 56.3,265.5 56.6,265.2 56.8,264.9 57.1,264.7 57.4,264.9 57.8,265.2 58.3,265.5 58.7,265.5 59.1,265.4 59.5,265.3 59.9,265.3 60.4,265.3 60.8,265.3 61.0,265.3 61.2,265.3 61.5,265.3 61.8,265.3 62.1,265.4 62.5,265.5 62.8,265.3 63.1,265.1 63.4,265.0 63.8,265.1 64.1,265.3 64.5,265.4 64.8,265.3 65.2,265.1 65.5,264.9 65.9,265.0 66.2,265.3 66.5,265.3 66.9,265.1 67.2,264.6 67.4,264.5 67.6,264.8 67.8,265.3 68.1,265.6 68.5,265.3 68.9,264.9 69.4,264.6 69.8,264.8 70.2,265.2 70.6,265.5 71.0,265.3 71.3,264.9 71.7,264.7 72.0,264.8 72.3,265.1 72.7,265.3 73.0,265.2 73.4,265.1 73.8,265.0 74.1,265.2 74.4,265.4 74.7,265.5 75.1,265.2 75.6,264.6 76.0,264.3 76.3,264.5 76.5,265.0 76.7,265.2 77.1,264.9 77.5,264.4 77.9,264.1 78.3,264.4 78.6,264.9 78.9,265.3 79.2,265.3 79.3,265.2 79.6,265.1 80.0,265.2 80.4,265.4 80.8,265.4 81.3,265.3 81.7,265.0 82.1,264.9 82.3,265.1 82.5,265.4 82.7,265.5 83.0,265.1 83.3,264.5 83.5,264.2 83.8,264.4 84.1,265.0 84.3,265.3 84.7,265.1 85.0,264.6 85.4,264.4 85.8,264.6 86.2,265.0 86.6,265.3 86.8,265.3 87.0,265.2 87.3,265.1 87.6,265.3 88.0,265.5 88.4,265.5 88.8,265.2 89.2,264.8 89.5,264.6 89.8,264.8 90.1,265.2 90.4,265.4 90.7,265.3 91.1,265.1 91.5,265.0 91.9,265.0 92.3,265.2 92.6,265.2 92.9,265.2 93.1,265.1 93.3,265.1 93.5,265.2 93.7,265.4 94.0,265.5 94.2,265.4 94.4,265.2 94.6,265.1 95.0,265.2 95.4,265.3 95.8,265.2 96.3,264.8 96.7,264.3 97.1,264.1 97.5,264.5 97.8,265.2 98.0,265.5 98.4,265.1 98.8,264.4 99.1,264.0 99.4,264.4 99.6,265.1 99.8,265.5 100.0,265.3 100.2,264.8 100.5,264.5 100.7,264.7 100.9,265.2 101.2,265.3 101.5,264.8 101.9,264.1 102.3,263.7 102.6,264.1 102.9,264.9 103.2,265.2 103.4,264.4 103.6,263.2 103.8,262.6 104.1,263.3 104.3,264.6 104.6,265.2 105.0,264.3 105.4,262.7 105.8,261.8 106.1,262.5 106.4,263.8 106.7,264.4 107.0,263.4 107.3,261.6 107.7,260.7 108.0,261.9 108.4,264.0 108.8,265.0 109.2,263.1 109.6,260.1 110.0,258.5 110.3,260.1 110.4,263.1 110.7,264.9 111.1,264.2 111.5,262.4 111.9,261.3 112.1,261.9 112.3,263.3 112.5,264.2 112.8,264.4 113.0,264.1 113.3,263.9 113.6,263.9 113.9,264.0 114.3,263.9 114.7,263.5 115.1,262.9 115.6,262.7 116.0,263.3 116.5,264.3 116.8,264.8 117.1,264.2 117.4,263.0 117.7,262.3 117.9,262.6 118.1,263.3 118.3,263.9 118.6,263.9 119.0,263.7 119.4,263.7 119.7,264.0 120.0,264.5 120.4,264.7 120.6,264.4 120.8,263.9 121.1,263.5 121.4,263.4 121.8,263.6 122.1,263.7 122.3,263.5 122.5,263.4 122.8,263.4 123.2,264.0 123.7,264.9 124.1,264.8 124.4,262.6 124.7,259.4 125.0,257.8 125.2,259.4 125.4,262.6 125.6,264.8 126.0,264.7 126.5,263.8 126.9,263.1 127.3,263.4 127.7,264.1 128.1,264.3 128.3,263.8 128.5,262.8 128.7,262.3 129.1,262.6 129.6,263.4 130.0,263.6 130.4,262.6 130.7,260.9 131.1,260.1 131.4,260.8 131.7,262.3 132.0,263.5 132.4,263.6 132.8,263.4 133.2,263.4 133.6,263.9 134.0,264.5 134.3,264.8 134.7,264.5 135.0,263.8 135.3,262.7 135.6,260.8 135.8,258.6 136.0,257.5 136.3,258.4 136.5,260.3 136.9,262.0 137.3,263.0 137.7,263.8 138.1,264.1 138.3,263.4 138.5,262.3 138.8,261.7 139.2,262.5 139.6,263.8 140.1,264.5 140.5,263.7 140.8,262.3 141.2,261.5 141.5,262.3 141.8,263.7 142.0,264.6 142.3,264.0 142.6,262.9 142.8,262.0" fill="none" stroke="#111111" stroke-width="0.7" stroke-linejoin="round" opacity="1"/>
<polyline points="156.8,265.5 157.1,264.9 157.4,264.1 157.8,263.8 158.2,264.6 158.5,265.8 158.8,266.5 159.0,266.1 159.2,265.1 159.4,264.4 159.8,264.8 160.1,265.6 160.4,265.8 160.7,264.4 161.0,262.5 161.3,261.6 161.6,262.6 161.8,264.5 162.0,265.9 162.2,265.9 162.5,265.4 162.7,265.0 162.9,265.1 163.1,265.4 163.4,265.5 163.7,264.9 164.1,264.1 164.5,263.7 164.9,264.2 165.4,265.2 165.8,265.5 166.1,264.5 166.4,262.9 166.7,262.1 166.9,263.0 167.2,264.7 167.5,265.8 167.9,265.6 168.3,264.9 168.7,264.4 169.1,264.8 169.5,265.6 169.8,265.8 170.1,264.8 170.3,263.3 170.5,262.6 170.8,263.5 171.0,265.3 171.3,266.4 171.5,266.1 171.8,265.3 172.1,264.7 172.5,265.1 173.0,265.8 173.4,266.2 173.9,265.9 174.3,265.4 174.7,265.2 175.0,265.8 175.2,266.7 175.5,266.8 175.8,265.1 176.1,262.7 176.4,261.4 176.8,262.3 177.1,264.3 177.4,265.8 177.7,265.9 177.9,265.6 178.2,265.3 178.4,265.4 178.7,265.7 179.0,265.4 179.3,264.0 179.7,262.2 180.1,261.4 180.5,262.7 180.9,265.0 181.3,266.4 181.6,265.7 181.8,264.1 182.1,263.2 182.3,263.9 182.5,265.2 182.8,266.1 183.1,265.8 183.4,265.1 183.8,264.8 184.2,265.3 184.7,266.2 185.1,266.7 185.6,266.4 186.0,265.7 186.4,265.3 186.9,265.5 187.4,266.1 187.8,266.2 188.0,265.2 188.3,263.8 188.5,263.1 188.9,263.9 189.3,265.4 189.7,266.2 190.0,265.3 190.3,263.7 190.6,262.8 190.9,263.7 191.2,265.3 191.5,266.3 191.8,265.8 192.2,264.5 192.6,263.9 193.0,264.4 193.4,265.6 193.8,266.1 194.2,265.4 194.6,264.1 195.0,263.4 195.3,264.1 195.5,265.5 195.8,266.2 196.1,265.6 196.4,264.4 196.8,263.7 197.2,264.2 197.6,265.1 197.9,265.7 198.3,265.5 198.7,265.0 199.1,264.7 199.5,264.9 199.9,265.4 200.3,265.4 200.6,264.0 200.9,262.0 201.2,261.2 201.5,262.5 201.9,265.0 202.2,266.4 202.4,265.5 202.6,263.6 202.9,262.5 203.2,263.2 203.6,264.7 204.0,265.7 204.3,265.8 204.6,265.3 204.9,265.1 205.1,265.4 205.3,265.9 205.6,265.8 205.9,264.2 206.3,261.8 206.7,260.7 207.0,261.9 207.4,264.2 207.9,265.9 208.3,266.3 208.8,266.1 209.2,265.2 209.5,262.8 209.7,259.7 210.0,258.0 210.5,258.8 211.0,260.9 211.5,262.8 211.8,264.3 212.0,265.5 212.4,266.0 212.7,265.0 213.2,263.2 213.6,262.3 214.1,263.2 214.5,264.9 214.9,266.0 215.2,265.4 215.4,264.1 215.7,263.4 216.0,264.2 216.4,265.6 216.8,266.3 217.2,265.2 217.6,263.3 217.9,262.4 218.2,263.5 218.5,265.5 218.8,266.8 219.2,266.3 219.5,265.0 219.9,264.3 220.4,265.0 220.8,266.2 221.3,266.8 221.7,265.7 222.0,263.9 222.4,262.8 222.8,263.4 223.3,264.7 223.7,265.4 224.1,264.4 224.5,262.7 224.9,261.9 225.3,262.8 225.7,264.5 226.1,265.5 226.4,265.3 226.8,264.5 227.2,263.3 227.5,261.6 227.7,259.5 228.0,258.5 228.3,259.4 228.7,261.3 229.0,263.1 229.4,264.6 229.9,265.9 230.3,266.4 230.7,265.0 231.2,262.7 231.6,261.4 231.9,262.5 232.1,264.6 232.5,265.6 232.9,264.2 233.3,261.8 233.8,260.6 234.2,262.0 234.6,264.5 235.0,266.2 235.3,265.8 235.6,264.5 235.9,263.7 236.1,264.4 236.4,265.5 236.7,266.0 237.1,264.7 237.5,262.7 237.9,261.6 238.2,262.5 238.5,264.3 238.8,265.6 239.1,265.6 239.5,265.1 239.8,264.8 240.1,265.4 240.4,266.2 240.6,266.3 240.8,265.0 241.0,263.0 241.3,261.9 241.6,262.9 242.0,264.9 242.4,266.1 242.8,265.6 243.3,264.3 243.7,263.6 244.0,264.1 244.2,265.3 244.5,266.0 244.8,265.7 245.1,265.0 245.4,264.6 245.7,264.8 246.0,265.2 246.3,265.5 246.6,265.3 247.0,265.0 247.4,264.8 247.7,265.1 248.1,265.5 248.5,265.7 248.7,265.2 248.9,264.5 249.2,264.1 249.5,264.6 249.9,265.4 250.3,265.3 250.9,263.0 251.5,259.6 252.0,258.0 252.3,259.8 252.5,263.3 252.8,265.8 253.1,265.8 253.5,264.7 253.9,264.0 254.2,264.8 254.5,266.1 254.7,266.5 255.0,265.1 255.2,262.8 255.4,261.6 255.7,262.4 255.9,264.3 256.1,265.5 256.4,265.3 256.8,264.4 257.1,263.9 257.4,264.2 257.7,264.9 258.0,265.2 258.4,264.6 258.7,263.7 259.1,263.2 259.5,263.9 259.8,265.0 260.1,265.7 260.4,265.4 260.6,264.7 260.8,264.3 261.2,264.7 261.6,265.3 262.1,265.2 262.5,263.4 262.8,260.7 263.2,259.4 263.6,260.8 263.9,263.6 264.3,265.5 264.8,265.7 265.2,265.0 265.6,264.4" fill="none" stroke="#bdbdbd" stroke-width="0.6" stroke-linejoin="round" opacity="1"/>
<polyline points="156.8,265.1 157.0,264.6 157.3,263.9 157.6,263.6 157.8,264.2 158.0,265.1 158.2,265.6 158.5,265.1 158.8,264.0 159.1,263.4 159.5,263.8 159.9,264.7 160.3,265.3 160.7,265.1 161.1,264.5 161.4,264.2 161.7,264.7 162.0,265.3 162.3,265.5 162.6,264.6 162.9,263.2 163.2,262.5 163.6,263.2 163.9,264.5 164.3,265.3 164.6,264.9 165.0,264.1 165.3,263.6 165.7,264.0 166.1,264.7 166.5,265.2 166.8,265.1 167.2,264.7 167.5,264.4 167.9,264.5 168.3,264.7 168.7,264.9 169.0,264.8 169.4,264.7 169.7,264.7 170.1,264.9 170.4,265.2 170.6,265.1 170.9,264.3 171.1,263.1 171.4,262.5 171.6,263.0 171.8,264.1 172.1,264.8 172.5,264.6 172.9,263.9 173.3,263.5 173.6,263.9 174.0,264.6 174.3,264.8 174.6,264.0 175.0,262.8 175.3,262.2 175.7,263.1 176.2,264.6 176.6,265.6 177.1,265.2 177.5,264.2 177.9,263.6 178.4,264.1 178.8,265.0 179.2,265.6 179.6,265.1 180.0,264.2 180.4,263.7 180.8,264.1 181.2,264.9 181.5,265.3 181.8,264.8 182.0,263.8 182.2,263.4 182.6,263.9 183.1,264.9 183.5,265.3 183.8,264.6 184.1,263.4 184.4,262.8 184.7,263.5 185.0,264.8 185.3,265.7 185.6,265.5 185.9,264.8 186.3,264.4 186.7,264.5 187.1,264.8 187.5,265.0 187.9,264.5 188.3,263.9 188.6,263.6 188.9,264.0 189.1,264.8 189.4,265.2 189.8,264.9 190.2,264.3 190.6,264.0 191.0,264.5 191.4,265.3 191.7,265.4 192.0,264.2 192.3,262.3 192.6,261.3 192.9,262.3 193.1,264.3 193.4,265.4 193.7,264.6 194.1,263.0 194.4,262.2 194.8,263.0 195.3,264.5 195.7,265.4 196.2,264.9 196.6,263.9 197.0,263.3 197.3,264.1 197.6,265.3 197.8,265.6 198.2,263.8 198.6,261.0 199.0,259.5 199.2,260.8 199.3,263.4 199.5,265.0 199.8,264.1 200.3,262.2 200.7,261.1 201.1,262.1 201.6,263.8 202.0,264.8 202.4,264.1 202.8,262.7 203.1,261.9 203.6,262.8 204.0,264.3 204.4,265.3 204.8,265.3 205.1,264.8 205.4,264.4 205.8,264.4 206.2,264.6 206.6,264.5 207.0,264.0 207.5,263.4 207.9,263.1 208.3,263.6 208.6,264.4 209.0,264.7 209.2,263.7 209.5,262.2 209.8,261.4 210.1,262.2 210.3,263.7 210.6,264.7 210.9,264.2 211.2,263.2 211.6,262.7 212.0,263.5 212.4,264.8 212.9,265.6 213.3,265.3 213.7,264.5 214.0,264.0 214.4,264.3 214.8,264.9 215.1,265.3 215.4,265.1 215.8,264.6 216.1,264.2 216.5,264.4 216.9,264.7 217.2,264.7 217.5,264.0 217.7,263.0 218.0,262.5 218.4,263.2 218.9,264.3 219.3,265.1 219.6,265.1 219.9,264.6 220.2,264.3 220.5,264.4 220.8,264.5 221.1,264.5 221.5,264.1 222.0,263.6 222.4,263.4 222.8,264.1 223.2,265.3 223.6,265.7 223.8,264.4 224.1,262.5 224.4,261.4 224.8,262.2 225.3,263.8 225.7,264.8 226.0,264.5 226.2,263.6 226.5,263.2 226.8,263.9 227.0,265.1 227.3,265.6 227.6,264.6 228.0,262.9 228.3,262.0 228.6,262.9 228.9,264.7 229.2,265.6 229.6,264.3 230.1,262.2 230.5,261.1 230.8,262.2 231.1,264.3 231.4,265.6 231.7,265.1 232.0,263.7 232.3,262.9 232.5,263.3 232.8,264.3 233.0,264.6 233.2,263.3 233.4,261.4 233.6,260.5 233.9,261.8 234.3,264.1 234.7,265.6 235.2,265.3 235.6,264.2 236.0,263.4 236.3,263.6 236.6,264.1 236.8,264.4 237.1,263.8 237.3,263.0 237.5,262.6 237.8,263.2 238.1,264.4 238.4,265.1 238.8,264.8 239.1,264.0 239.4,263.5 239.7,263.8 240.0,264.5 240.3,264.6 240.6,263.5 240.8,262.0 241.1,261.2 241.4,262.0 241.7,263.4 242.0,264.5 242.4,264.5 242.8,264.2 243.3,264.0 243.6,264.6 244.0,265.3 244.4,265.5 244.8,264.5 245.2,262.9 245.6,262.1 246.0,263.1 246.4,264.8 246.7,265.7 247.0,264.4 247.2,262.3 247.5,261.1 247.7,261.9 247.9,263.7 248.2,264.9 248.4,264.9 248.6,264.4 248.9,264.0 249.3,264.3 249.8,264.8 250.2,264.8 250.6,263.7 250.9,262.1 251.2,261.3 251.5,262.4 251.7,264.4 251.9,265.4 252.3,264.0 252.6,261.7 253.0,260.3 253.3,261.2 253.7,263.1 254.0,264.3 254.3,263.8 254.5,262.7 254.7,262.1 255.0,262.8 255.4,264.2 255.8,264.9 256.2,264.3 256.6,263.2 257.0,262.6 257.4,263.4 257.9,264.7 258.3,265.6 258.6,265.3 258.7,264.5 258.9,263.9 259.3,264.2 259.6,264.7 259.9,264.8 260.2,263.9 260.4,262.6 260.6,262.0 260.9,263.0 261.2,264.6 261.5,265.5 261.8,264.6 262.2,262.9 262.5,262.0 262.9,262.9 263.2,264.6 263.5,265.4 263.8,264.3 264.0,262.3 264.3,261.2 264.7,262.0 265.2,263.5 265.5,264.7" fill="none" stroke="#6e6e6e" stroke-width="0.6" stroke-linejoin="round" opacity="1"/>
<polyline points="156.8,265.6 157.1,264.9 157.5,263.9 157.9,263.4 158.2,264.0 158.5,265.0 158.8,265.7 159.1,265.4 159.3,264.7 159.6,264.2 159.8,264.4 159.9,264.8 160.2,265.0 160.6,265.0 161.0,264.8 161.5,264.7 161.9,264.9 162.3,265.2 162.7,265.3 163.0,265.1 163.3,264.6 163.6,264.4 163.8,264.6 164.1,265.1 164.4,265.4 164.8,265.1 165.1,264.6 165.5,264.3 165.7,264.7 165.9,265.3 166.1,265.6 166.5,265.2 167.0,264.5 167.5,264.1 167.8,264.5 168.1,265.3 168.4,265.6 168.7,264.9 168.9,263.7 169.2,263.1 169.5,263.6 169.9,264.7 170.3,265.3 170.5,265.1 170.7,264.6 171.0,264.3 171.2,264.6 171.6,265.2 171.8,265.4 172.1,265.1 172.3,264.5 172.5,264.1 172.7,264.4 172.9,265.1 173.2,265.4 173.5,265.1 173.9,264.5 174.2,264.2 174.5,264.6 174.9,265.2 175.2,265.6 175.6,265.5 175.9,265.2 176.3,264.9 176.6,265.1 176.9,265.4 177.2,265.5 177.4,265.4 177.6,265.1 177.8,264.9 178.2,265.1 178.5,265.5 178.9,265.5 179.2,265.1 179.5,264.3 179.8,264.0 180.2,264.3 180.6,265.0 180.9,265.5 181.2,265.4 181.4,265.0 181.6,264.8 181.9,265.0 182.2,265.3 182.5,265.5 182.9,265.4 183.2,265.1 183.6,264.9 184.0,265.1 184.5,265.4 184.9,265.5 185.2,265.4 185.4,265.1 185.7,264.9 186.1,265.1 186.5,265.5 186.9,265.7 187.2,265.4 187.6,265.0 187.9,264.7 188.2,264.8 188.5,265.1 188.8,265.2 189.2,264.9 189.6,264.6 190.0,264.5 190.4,264.8 190.7,265.3 191.0,265.6 191.4,265.3 191.9,264.7 192.3,264.4 192.6,264.8 193.0,265.4 193.3,265.6 193.7,264.7 194.1,263.4 194.5,262.6 195.0,263.3 195.5,264.7 195.9,265.5 196.1,265.2 196.4,264.4 196.6,264.0 196.8,264.4 197.1,265.3 197.4,265.6 197.6,264.9 197.8,263.7 198.1,263.1 198.5,263.5 199.0,264.4 199.4,265.0 199.7,264.6 199.8,263.8 200.0,263.4 200.4,264.0 200.7,265.0 201.0,265.6 201.3,265.1 201.5,264.1 201.8,263.5 202.1,263.7 202.4,264.2 202.8,264.5 203.1,264.5 203.4,264.4 203.7,264.3 204.0,264.8 204.4,265.4 204.6,265.4 204.9,264.0 205.1,261.9 205.3,260.8 205.5,262.0 205.8,264.1 206.0,265.4 206.4,264.6 206.7,262.9 207.0,261.9 207.3,262.4 207.6,263.6 207.9,264.5 208.3,264.5 208.7,264.2 209.1,264.1 209.4,264.4 209.8,264.9 210.1,264.9 210.3,264.0 210.5,262.7 210.8,261.9 211.2,262.6 211.6,263.9 212.0,264.5 212.3,263.4 212.7,261.6 213.0,260.8 213.4,262.0 213.7,264.1 214.1,265.4 214.5,265.2 214.8,264.2 215.1,263.6 215.3,264.0 215.5,264.8 215.8,265.1 216.1,264.2 216.4,262.7 216.8,261.9 217.1,262.5 217.5,263.8 217.8,264.5 218.1,263.9 218.5,262.8 218.8,262.2 219.0,263.1 219.2,264.6 219.5,265.5 219.9,264.8 220.3,263.4 220.7,262.7 220.9,263.5 221.1,265.0 221.3,265.6 221.6,264.6 222.0,262.8 222.3,261.7 222.5,262.4 222.7,263.9 223.0,264.9 223.4,264.7 223.8,264.0 224.3,263.7 224.6,264.3 224.9,265.2 225.2,265.6 225.6,264.8 226.0,263.4 226.3,262.7 226.6,263.3 226.9,264.4 227.1,265.0 227.3,264.3 227.5,263.0 227.8,262.3 228.0,263.1 228.2,264.6 228.5,265.6 228.7,265.4 229.1,264.6 229.4,264.2 229.8,264.5 230.1,265.1 230.5,265.5 230.9,265.3 231.2,264.8 231.5,264.5 232.0,264.7 232.4,264.9 232.8,265.1 233.2,265.1 233.6,264.9 233.9,264.8 234.2,264.9 234.4,265.1 234.7,265.1 235.0,265.1 235.5,265.0 235.9,264.9 236.2,265.0 236.4,265.2 236.7,265.2 237.0,264.7 237.3,264.0 237.7,263.7 238.1,264.2 238.5,265.0 238.9,265.4 239.3,264.8 239.7,263.7 240.1,263.1 240.4,263.7 240.8,264.8 241.1,265.4 241.4,265.0 241.7,264.2 242.1,263.7 242.5,264.2 243.0,265.1 243.4,265.5 243.7,264.8 244.1,263.6 244.3,263.0 244.6,263.6 244.9,264.9 245.2,265.5 245.5,264.8 245.9,263.4 246.3,262.7 246.5,263.1 246.7,264.1 246.9,264.7 247.3,264.5 247.8,263.9 248.2,263.6 248.6,264.2 249.0,265.1 249.4,265.3 249.8,264.2 250.2,262.5 250.5,261.5 250.8,262.3 250.9,263.8 251.2,264.7 251.5,263.8 251.8,262.2 252.1,261.3 252.3,262.2 252.6,263.9 252.8,265.0 253.1,264.7 253.5,263.9 253.8,263.4 254.1,264.1 254.4,265.2 254.8,265.6 255.2,264.6 255.6,262.9 256.0,262.0 256.4,262.8 256.7,264.3 257.1,265.1 257.4,264.1 257.8,262.4 258.2,261.5 258.6,262.4 259.1,264.2 259.5,265.1 259.9,264.0 260.3,262.1 260.6,261.0 260.9,262.0 261.2,264.0 261.5,264.9 262.0,263.2 262.5,260.5 263.0,259.0 263.3,260.3 263.5,262.8 263.7,264.3 264.0,263.2 264.2,261.0 264.5,259.8 264.8,260.9 265.0,263.0 265.2,264.6" fill="none" stroke="#3a3a3a" stroke-width="0.7" stroke-linejoin="round" opacity="1"/>
<polyline points="279.3,267.2 279.6,267.0 280.1,266.7 280.6,266.5 281.1,266.5 281.6,266.7 282.0,266.7 282.3,266.5 282.5,266.2 282.8,266.0 283.1,266.3 283.4,266.8 283.7,267.0 284.1,266.5 284.5,265.8 284.9,265.4 285.2,265.8 285.4,266.5 285.7,266.9 286.1,266.7 286.5,266.2 286.8,265.9 287.1,266.2 287.3,266.8 287.6,267.0 287.9,266.5 288.2,265.6 288.5,265.2 289.0,265.6 289.4,266.4 289.8,266.8 290.1,266.4 290.3,265.6 290.6,265.1 290.9,265.6 291.1,266.5 291.4,267.0 291.6,266.8 291.9,266.2 292.1,265.9 292.5,266.1 292.9,266.6 293.3,266.8 293.8,266.5 294.2,265.9 294.6,265.7 294.9,266.1 295.3,266.8 295.7,267.1 296.1,266.5 296.6,265.6 297.0,265.0 297.4,265.4 297.8,266.2 298.1,266.7 298.6,266.3 299.0,265.6 299.4,265.3 299.8,265.6 300.2,266.3 300.6,266.8 301.0,266.8 301.3,266.6 301.7,266.6 302.1,266.8 302.5,267.0 302.9,267.0 303.3,266.4 303.7,265.6 304.0,265.2 304.4,265.7 304.7,266.6 305.0,267.1 305.4,266.6 305.7,265.8 306.1,265.3 306.4,265.6 306.9,266.3 307.3,266.7 307.7,266.3 308.2,265.7 308.6,265.5 308.9,265.9 309.2,266.6 309.6,267.1 310.0,267.1 310.4,266.8 310.9,266.6 311.3,266.7 311.8,266.8 312.2,266.8 312.5,266.7 312.7,266.6 313.0,266.5 313.3,266.7 313.7,267.0 314.1,267.2 314.4,267.0 314.8,266.7 315.1,266.6 315.3,266.7 315.5,266.9 315.8,267.1 316.1,266.9 316.5,266.7 316.9,266.6 317.3,266.7 317.7,266.8 318.1,266.8 318.4,266.4 318.7,265.7 318.9,265.4 319.2,265.9 319.4,266.7 319.6,267.0 319.9,266.5 320.3,265.5 320.6,265.0 321.0,265.5 321.3,266.5 321.7,267.2 322.2,267.1 322.6,266.7 323.0,266.4 323.3,266.5 323.6,266.7 323.8,266.8 324.0,266.5 324.3,266.1 324.5,265.9 324.7,266.2 325.0,266.6 325.3,266.9 325.6,266.6 325.9,266.1 326.2,265.9 326.4,266.1 326.7,266.6 327.0,266.8 327.4,266.6 327.8,266.1 328.1,265.8 328.5,266.1 328.8,266.6 329.1,267.0 329.5,266.9 329.8,266.5 330.1,266.3 330.4,266.5 330.7,266.7 331.0,266.8 331.3,266.5 331.5,266.2 331.8,266.0 332.1,266.2 332.4,266.6 332.8,266.8 333.1,266.6 333.5,266.2 333.9,266.1 334.3,266.4 334.7,266.8 335.1,267.1 335.5,266.8 336.0,266.2 336.4,265.9 336.7,266.2 336.9,266.7 337.2,266.9 337.6,266.3 338.1,265.4 338.5,264.9 339.0,265.3 339.4,266.0 339.8,266.4 340.2,265.9 340.5,265.0 340.8,264.5 341.0,265.0 341.2,265.9 341.5,266.5 341.7,266.4 342.0,266.1 342.3,265.9 342.6,266.1 343.0,266.5 343.4,266.8 343.7,266.5 344.1,266.1 344.4,265.9 344.7,266.0 345.0,266.2 345.3,266.4 345.5,266.4 345.7,266.3 346.0,266.3 346.3,266.6 346.7,267.0 347.1,267.1 347.4,266.8 347.6,266.3 347.9,265.9 348.1,266.2 348.3,266.7 348.5,266.9 348.9,266.1 349.4,264.9 349.9,264.2 350.1,264.7 350.3,265.8 350.5,266.3 350.9,265.7 351.4,264.7 351.8,264.2 352.1,264.9 352.3,266.2 352.6,266.9 352.8,266.3 353.0,265.2 353.3,264.6 353.7,265.2 354.0,266.3 354.5,266.9 354.9,266.3 355.3,265.2 355.8,264.6 356.2,265.1 356.5,266.2 356.9,266.8 357.3,266.4 357.7,265.6 358.2,265.2 358.6,265.4 359.0,265.9 359.4,266.4 359.6,266.4 359.8,266.3 360.0,266.2 360.3,266.3 360.6,266.4 360.8,266.3 361.1,266.1 361.4,265.8 361.7,265.6 362.0,266.0 362.4,266.5 362.7,266.7 363.1,265.9 363.4,264.8 363.7,264.2 364.0,264.7 364.3,265.8 364.7,266.5 364.9,265.9 365.1,264.9 365.4,264.4 365.7,265.0 366.0,266.2 366.3,266.7 366.6,266.0 366.8,264.6 367.1,263.9 367.3,264.5 367.5,265.6 367.8,266.5 368.1,266.6 368.4,266.4 368.8,266.2 369.2,266.3 369.7,266.4 370.1,266.5 370.4,266.3 370.6,266.1 370.8,266.0 371.2,266.2 371.7,266.6 372.1,266.8 372.5,266.3 372.9,265.7 373.2,265.4 373.4,265.9 373.6,266.6 373.8,267.1 374.1,266.9 374.3,266.4 374.6,266.1 374.9,266.2 375.2,266.6 375.6,266.8 375.9,266.7 376.3,266.3 376.7,266.2 377.1,266.4 377.5,266.8 377.8,266.9 378.2,266.6 378.6,266.0 378.9,265.6 379.2,265.8 379.4,266.3 379.6,266.5 379.8,265.7 380.0,264.5 380.3,263.9 380.6,264.8 380.8,266.2 381.2,267.1 381.5,266.5 381.8,265.2 382.2,264.5 382.7,265.2 383.1,266.4 383.5,267.0 383.8,266.0 384.0,264.3 384.2,263.4 384.5,264.2 384.8,265.7 385.1,266.6 385.4,265.6 385.8,264.0 386.1,263.1 386.5,263.8 386.9,265.3 387.2,266.4" fill="none" stroke="#bdbdbd" stroke-width="0.6" stroke-linejoin="round" opacity="1"/>
<polyline points="279.3,266.1 279.5,265.9 279.9,265.8 280.3,265.7 280.6,265.8 281.0,266.0 281.4,266.2 281.7,266.1 282.0,265.9 282.3,265.8 282.6,265.9 282.8,266.0 283.1,266.1 283.3,266.1 283.6,265.9 283.9,265.9 284.3,265.9 284.7,266.0 285.2,266.0 285.5,265.9 285.9,265.8 286.2,265.7 286.7,265.8 287.1,265.9 287.6,266.0 287.9,266.1 288.3,266.0 288.6,266.0 288.9,266.1 289.2,266.1 289.5,266.2 289.8,266.1 290.2,266.0 290.5,265.9 290.8,265.9 291.0,266.0 291.3,266.1 291.6,266.0 291.9,265.9 292.2,265.9 292.6,265.9 293.1,266.0 293.5,266.1 293.7,266.0 293.9,265.9 294.2,265.8 294.5,265.9 294.9,266.1 295.3,266.2 295.6,266.0 295.9,265.8 296.2,265.7 296.6,265.8 297.1,266.0 297.5,266.1 297.8,266.0 298.1,265.8 298.4,265.7 298.9,265.9 299.3,266.1 299.7,266.2 300.0,266.1 300.1,265.9 300.4,265.8 300.8,265.8 301.3,266.0 301.7,266.0 302.0,266.0 302.2,265.9 302.5,265.9 302.9,266.0 303.3,266.1 303.7,266.1 303.9,266.1 304.2,265.9 304.4,265.9 304.7,265.9 305.1,266.1 305.5,266.1 305.9,266.1 306.3,265.9 306.6,265.8 307.0,265.9 307.3,266.0 307.6,266.2 308.0,266.1 308.5,266.1 308.9,266.0 309.2,266.0 309.5,266.1 309.8,266.1 310.1,266.1 310.4,266.0 310.7,266.0 311.1,266.0 311.6,266.1 312.0,266.2 312.4,266.1 312.8,265.9 313.2,265.8 313.6,265.9 314.0,266.0 314.4,266.0 314.7,266.0 315.0,266.0 315.3,266.0 315.7,266.0 316.0,266.1 316.3,266.2 316.5,266.1 316.7,266.0 316.9,265.9 317.1,265.9 317.3,265.9 317.6,265.9 318.0,265.9 318.4,265.8 318.8,265.8 319.0,265.9 319.2,266.1 319.5,266.2 319.8,266.0 320.1,265.7 320.4,265.5 320.8,265.6 321.3,265.9 321.7,266.0 322.1,265.8 322.4,265.4 322.7,265.1 323.0,265.4 323.3,265.8 323.5,266.1 323.8,265.9 324.0,265.6 324.3,265.4 324.6,265.6 325.0,265.9 325.4,266.0 325.8,265.6 326.2,265.1 326.6,264.8 326.9,265.1 327.1,265.6 327.4,266.0 327.8,265.9 328.3,265.7 328.7,265.6 329.0,265.7 329.3,265.9 329.6,265.9 329.8,265.3 330.1,264.5 330.4,264.2 330.8,264.6 331.2,265.4 331.7,266.0 332.0,265.9 332.3,265.5 332.6,265.2 332.9,265.5 333.3,265.9 333.7,266.2 334.0,266.0 334.3,265.7 334.7,265.4 335.0,265.5 335.4,265.8 335.8,265.8 336.2,265.3 336.5,264.6 336.8,264.3 337.1,264.6 337.3,265.1 337.6,265.5 338.0,265.5 338.4,265.3 338.8,265.2 339.2,265.4 339.5,265.7 339.9,265.8 340.3,265.4 340.7,264.7 341.2,264.4 341.5,264.8 341.8,265.6 342.1,266.1 342.4,265.7 342.7,265.0 343.0,264.7 343.2,265.0 343.4,265.6 343.6,265.9 343.9,265.5 344.2,264.7 344.5,264.3 344.8,264.8 345.2,265.7 345.6,266.1 345.9,265.5 346.2,264.4 346.4,263.7 346.7,264.2 346.9,265.2 347.1,265.9 347.3,265.8 347.5,265.4 347.8,265.1 348.2,265.3 348.7,265.7 349.1,265.9 349.6,265.8 350.0,265.5 350.4,265.4 350.8,265.5 351.2,265.8 351.5,265.8 351.8,265.2 352.0,264.3 352.3,263.9 352.5,264.3 352.8,265.1 353.0,265.7 353.4,265.7 353.8,265.5 354.1,265.4 354.5,265.6 354.8,266.0 355.2,266.0 355.6,265.1 356.1,264.0 356.5,263.3 356.8,263.8 357.0,264.8 357.3,265.5 357.6,265.4 357.9,264.9 358.2,264.7 358.6,265.0 358.9,265.5 359.3,265.6 359.6,264.9 360.0,263.7 360.3,263.1 360.6,263.7 360.9,264.8 361.2,265.5 361.4,265.4 361.7,264.9 361.9,264.6 362.1,265.0 362.3,265.7 362.6,266.0 363.0,265.9 363.4,265.4 363.9,265.2 364.3,265.3 364.8,265.6 365.2,265.6 365.5,265.3 365.8,264.7 366.1,264.5 366.4,264.9 366.8,265.6 367.1,265.9 367.4,265.4 367.7,264.4 368.0,263.9 368.4,264.5 368.7,265.5 369.1,266.1 369.4,265.7 369.7,264.8 370.0,264.4 370.4,264.9 370.8,265.7 371.2,266.1 371.6,265.4 372.0,264.3 372.4,263.7 372.8,264.4 373.1,265.5 373.5,266.1 373.7,265.4 374.0,264.2 374.3,263.6 374.6,264.2 375.0,265.3 375.4,266.1 375.7,265.8 376.1,265.1 376.4,264.8 376.8,265.1 377.2,265.8 377.6,266.1 377.9,265.9 378.2,265.4 378.4,265.1 378.8,265.2 379.2,265.4 379.6,265.5 380.0,265.2 380.5,264.8 380.9,264.5 381.2,264.8 381.6,265.2 381.9,265.4 382.3,265.0 382.8,264.3 383.2,264.0 383.5,264.5 383.7,265.3 384.0,265.7 384.3,265.0 384.7,263.9 385.1,263.3 385.3,263.8 385.6,264.8 385.8,265.5 386.2,265.5 386.6,265.1 387.0,264.9 387.3,265.0 387.6,265.1 387.7,265.3" fill="none" stroke="#6e6e6e" stroke-width="0.6" stroke-linejoin="round" opacity="1"/>
<polyline points="279.3,266.2 279.4,266.2 279.6,266.2 279.7,266.2 279.9,266.2 280.1,266.2 280.3,266.2 280.5,266.2 280.6,266.1 280.8,266.1 281.0,266.1 281.2,266.2 281.4,266.2 281.6,266.2 281.8,266.1 281.9,266.1 282.1,266.1 282.3,266.1 282.5,266.2 282.7,266.1 282.8,266.1 282.9,266.0 283.1,266.1 283.2,266.2 283.4,266.2 283.5,266.2 283.7,266.1 283.9,266.0 284.1,266.1 284.3,266.1 284.5,266.2 284.7,266.2 284.9,266.1 285.1,266.1 285.2,266.2 285.4,266.2 285.5,266.2 285.6,266.2 285.8,266.1 285.9,266.1 286.0,266.1 286.2,266.2 286.3,266.2 286.5,266.1 286.6,266.0 286.8,265.9 287.1,266.0 287.3,266.1 287.5,266.2 287.7,266.1 288.0,266.1 288.2,266.0 288.4,266.0 288.6,266.1 288.7,266.1 288.9,266.1 289.0,266.1 289.2,266.0 289.4,266.1 289.6,266.1 289.8,266.2 289.9,266.1 290.1,266.1 290.2,266.1 290.4,266.1 290.7,266.1 291.0,266.1 291.2,266.1 291.5,266.1 291.7,266.1 291.8,266.1 291.9,266.1 292.1,266.1 292.3,266.1 292.5,265.9 292.7,265.9 292.9,265.9 293.0,266.0 293.1,266.1 293.3,266.1 293.4,266.1 293.6,266.1 293.7,266.1 293.9,266.1 294.1,266.1 294.3,266.1 294.5,266.1 294.6,266.1 294.8,266.1 295.0,266.1 295.1,266.1 295.4,266.1 295.6,266.1 295.9,266.0 296.1,266.1 296.3,266.1 296.5,266.2 296.7,266.1 296.9,266.0 297.1,265.9 297.3,265.9 297.4,266.0 297.6,266.1 297.8,266.1 297.9,266.0 298.1,266.0 298.3,266.0 298.5,266.1 298.7,266.1 298.9,266.1 299.0,266.1 299.2,266.1 299.5,266.1 299.7,266.1 300.0,266.1 300.2,266.1 300.3,266.0 300.5,265.9 300.6,266.0 300.8,266.0 301.0,266.1 301.1,266.1 301.3,266.0 301.4,266.0 301.6,266.1 301.8,266.1 302.0,266.1 302.1,266.1 302.2,266.0 302.3,265.9 302.5,265.9 302.6,266.0 302.8,266.1 302.9,266.1 303.1,266.0 303.3,266.0 303.4,266.0 303.5,266.1 303.7,266.1 303.9,266.0 304.2,265.9 304.4,265.9 304.6,265.9 304.7,266.0 304.9,266.1 305.1,266.1 305.3,266.0 305.5,266.0 305.7,266.0 305.9,266.1 306.1,266.1 306.4,266.0 306.6,265.9 306.9,265.9 307.0,265.9 307.1,266.0 307.3,266.1 307.5,266.0 307.7,266.0 308.0,265.9 308.1,266.0 308.3,266.0 308.5,266.1 308.7,266.0 309.0,265.9 309.2,265.8 309.4,265.9 309.5,266.0 309.6,266.0 309.8,266.0 310.0,265.9 310.1,265.9 310.3,265.9 310.5,266.0 310.7,266.0 311.0,266.0 311.2,265.9 311.4,265.8 311.6,265.9 311.8,266.0 312.0,266.0 312.2,266.0 312.4,266.0 312.6,266.0 312.7,266.0 312.8,266.0 313.0,266.0 313.1,266.0 313.3,266.0 313.5,266.0 313.7,266.0 313.9,266.0 314.2,266.0 314.3,266.0 314.4,266.0 314.5,265.9 314.7,266.0 315.0,266.0 315.2,266.0 315.4,265.9 315.6,265.7 315.8,265.7 315.9,265.7 316.0,265.9 316.2,266.0 316.4,265.9 316.6,265.9 316.8,265.8 317.0,265.8 317.2,265.9 317.3,265.9 317.5,265.7 317.7,265.4 317.9,265.3 318.1,265.4 318.3,265.7 318.4,265.9 318.7,265.8 318.9,265.5 319.2,265.3 319.4,265.4 319.6,265.6 319.9,265.7 320.1,265.6 320.3,265.4 320.5,265.3 320.7,265.4 320.9,265.6 321.1,265.7 321.2,265.5 321.4,265.1 321.5,264.9 321.7,265.2 321.9,265.5 322.1,265.7 322.3,265.4 322.5,265.0 322.8,264.7 323.0,264.9 323.2,265.2 323.4,265.5 323.6,265.5 323.7,265.4 323.9,265.4 324.1,265.5 324.2,265.6 324.4,265.5 324.6,264.9 324.8,264.2 325.0,263.9 325.3,264.3 325.5,265.1 325.6,265.5 325.8,265.1 325.9,264.4 326.0,264.1 326.1,264.6 326.3,265.5 326.4,265.9 326.6,265.3 326.7,264.1 326.9,263.5 327.2,264.1 327.4,265.2 327.7,265.9 327.9,265.8 328.2,265.4 328.4,265.1 328.6,265.3 328.6,265.6 328.8,265.8 329.0,265.7 329.3,265.3 329.5,265.1 329.8,265.2 330.0,265.3 330.2,265.4 330.4,265.3 330.6,265.2 330.8,265.1 330.9,265.2 331.1,265.3 331.2,265.3 331.4,264.9 331.6,264.4 331.7,264.2 331.9,264.7 332.0,265.4 332.1,265.9 332.3,265.6 332.5,265.0 332.7,264.6 332.8,264.9 333.0,265.4 333.1,265.6 333.3,265.1 333.4,264.2 333.5,263.8 333.7,264.3 333.9,265.2 334.1,265.7 334.3,265.5 334.5,264.8 334.7,264.5 334.9,264.7 335.2,265.1 335.4,265.4 335.7,265.4 336.0,265.2 336.2,265.1 336.3,265.2 336.4,265.3 336.6,265.5 336.7,265.4 336.9,265.2 337.1,265.2 337.2,265.4 337.4,265.7 337.5,265.8 337.7,265.3 337.8,264.5 338.0,264.1 338.2,264.5 338.3,265.3 338.5,265.8 338.7,265.5 339.0,264.8 339.2,264.5 339.5,264.7 339.7,265.2 339.9,265.6 340.1,265.5 340.3,265.2 340.4,265.0 340.6,265.0 340.8,265.1 340.9,265.2 341.1,265.2 341.3,265.1 341.5,265.1 341.7,265.2 341.9,265.3 342.1,265.3 342.3,265.2 342.4,265.1 342.5,265.1 342.7,265.3 343.0,265.6 343.2,265.6 343.4,265.0 343.7,264.1 343.9,263.7 344.0,264.2 344.2,265.2 344.3,265.8 344.5,265.7 344.7,265.4 344.9,265.1 345.1,265.2 345.3,265.3 345.5,265.3 345.6,265.3 345.8,265.2 346.0,264.7 346.1,263.5 346.2,261.9 346.3,261.0 346.5,261.5 346.8,262.8 347.0,263.9 347.3,264.5 347.5,265.0 347.6,265.2 347.8,265.2 347.9,265.1 348.0,265.0 348.2,265.2 348.4,265.5 348.6,265.6 348.7,265.4 348.9,265.0 349.0,264.8 349.2,264.9 349.4,265.3 349.6,265.3 349.8,264.7 350.0,263.8 350.3,263.4 350.5,263.9 350.8,264.8 351.0,265.3 351.1,264.9 351.2,264.1 351.4,263.7 351.6,264.3 351.8,265.2 352.1,265.7 352.3,265.1 352.6,264.0 352.8,263.4 353.0,264.0 353.1,265.1 353.3,265.7 353.5,265.5 353.7,264.9 353.8,264.5 354.0,264.6 354.1,265.0 354.2,265.1 354.5,264.8 354.7,264.2 354.9,263.9 355.1,264.3 355.3,264.9 355.4,265.2 355.6,265.0 355.7,264.5 355.9,264.3 356.0,264.5 356.1,264.9 356.2,265.2 356.4,265.1 356.5,264.8 356.7,264.7 356.9,264.8 357.2,265.1 357.4,265.2 357.6,265.1 357.8,264.9 358.0,264.8 358.1,265.0 358.3,265.4 358.5,265.6 358.7,265.4 359.0,265.0 359.2,264.7 359.5,264.9 359.7,265.3 359.9,265.4 360.1,264.9 360.3,264.2 360.4,263.8 360.5,264.3 360.7,265.1 360.8,265.5 361.0,264.8 361.1,263.6 361.3,263.0 361.4,263.6 361.6,264.8 361.8,265.7 362.0,265.7 362.2,265.3 362.4,265.0 362.6,265.0 362.7,265.1 362.9,265.1 363.1,264.7 363.3,264.1 363.5,263.9 363.7,264.3 363.9,265.1 364.0,265.6 364.1,265.7 364.3,265.4 364.4,264.9 364.6,263.9 364.8,262.6 365.0,262.0 365.1,262.6 365.3,263.9 365.4,264.9 365.6,265.2 365.7,265.3 365.9,265.2 366.1,265.0 366.3,264.7 366.5,264.5 366.7,264.9 366.8,265.4 367.0,265.6 367.1,265.0 367.4,264.1 367.6,263.6 367.8,263.9 368.1,264.6 368.3,265.0 368.5,265.1 368.7,264.9 368.8,264.8 369.0,264.9 369.2,265.0 369.4,265.0 369.6,264.8 369.9,264.5 370.1,264.3 370.3,264.5 370.4,264.7 370.6,264.9 370.8,264.9 371.0,264.9 371.2,264.9 371.4,265.1 371.6,265.5 371.8,265.5 372.1,264.9 372.3,264.0 372.5,263.5 372.7,263.9 373.0,264.7 373.2,265.2 373.4,265.2 373.5,265.0 373.6,264.9 373.7,265.0 373.8,265.3 374.0,265.3 374.2,264.9 374.4,264.4 374.6,264.0 374.7,264.3 374.9,264.7 375.0,265.0 375.1,264.8 375.2,264.4 375.4,264.2 375.6,264.5 375.8,265.0 376.0,265.2 376.2,265.0 376.3,264.5 376.5,264.2 376.7,264.5 376.9,264.9 377.1,265.2 377.3,265.0 377.5,264.5 377.6,264.3 377.8,264.5 378.0,264.9 378.2,265.1 378.4,265.0 378.6,264.7 378.9,264.6 379.1,264.8 379.3,265.1 379.4,265.3 379.6,265.2 379.7,264.9 379.9,264.8 380.0,265.1 380.1,265.5 380.2,265.5 380.4,264.6 380.7,263.4 380.9,262.8 381.1,263.3 381.3,264.5 381.5,265.2 381.7,264.9 381.9,264.1 382.1,263.6 382.2,264.0 382.4,264.6 382.5,265.0 382.7,264.6 382.8,263.9 382.9,263.6 383.1,263.9 383.3,264.6 383.5,265.0 383.6,264.8 383.7,264.4 383.9,264.1 384.0,264.4 384.2,264.9 384.3,265.1 384.5,264.4 384.7,263.4 384.9,262.9 385.1,263.6 385.3,264.7 385.5,265.5 385.6,265.4 385.7,264.8 385.9,264.1 386.1,263.1 386.4,262.0 386.6,261.5 386.8,262.2 387.0,263.5 387.1,264.5 387.3,264.8 387.5,264.9 387.6,265.0" fill="none" stroke="#111111" stroke-width="0.7" stroke-linejoin="round" opacity="1"/>
<path d="M281.3 266.6 L283 258.6 L284.8 266.6 M289.3 266.6 L290.7 262.6 L292.3 266.6 M313 266.6 L314.7 261.7 L316.3 266.6" fill="none" stroke="#b0b0b0" stroke-width="0.6"/>
<polyline points="34.5,295.3 38.6,295.3 44.5,295.3 51.3,295.4 58.4,295.4 64.7,295.4 69.5,295.3 72.7,295.2 74.8,295.1 76.3,294.9 77.4,294.8 78.6,294.6 80.0,294.4 81.6,294.2 82.9,294.0 84.2,293.9 85.8,293.6 87.6,293.4 90.0,293.0 93.2,292.5 97.0,292.0 101.2,291.3 105.4,290.7 109.3,290.1 112.5,289.6 114.9,289.2 116.9,288.8 118.5,288.5 119.9,288.1 121.4,287.9 123.0,287.6 124.8,287.4 126.5,287.2 128.3,287.0 130.0,286.8 131.8,286.7 133.5,286.6 135.3,286.5 137.3,286.5 139.2,286.5 141.0,286.6 142.5,286.6 143.6,286.6" fill="none" stroke="#9c9c9c" stroke-width="2.6" stroke-linejoin="round" opacity="1"/>
<polyline points="69.5,294.6 70.6,294.5 72.2,294.4 74.1,294.2 76.1,294.1 78.2,293.9 80.0,293.7 81.6,293.5 82.9,293.3 84.2,293.1 85.8,292.9 87.6,292.6 90.0,292.2 93.2,291.7 97.0,291.1 101.2,290.5 105.4,289.8 109.3,289.2 112.5,288.7 114.9,288.3 116.9,287.9 118.5,287.5 119.9,287.2 121.4,287.0 123.0,286.7 124.8,286.5 126.5,286.3 128.3,286.1 130.0,286.0 131.8,285.9 133.5,285.8 135.3,285.8 137.3,285.8 139.2,285.8 141.0,285.8 142.5,285.9 143.6,285.9" fill="none" stroke="#3c3c3c" stroke-width="0.9" stroke-linejoin="round" opacity="1"/>
<polyline points="112.5,290.3 113.6,290.1 115.2,289.7 117.1,289.4 119.1,289.0 121.1,288.6 123.0,288.3 124.8,288.1 126.7,287.8 128.6,287.6 130.4,287.5 132.1,287.4 133.5,287.3 134.6,287.3 135.4,287.4 136.1,287.5 136.6,287.6 137.3,287.8 138.0,287.9 138.9,288.1 140.0,288.3 141.1,288.5 142.1,288.7 143.0,288.9 143.6,289.0" fill="none" stroke="#666" stroke-width="0.8" stroke-linejoin="round" opacity="1"/>
<polyline points="156.8,294.6 160.9,294.6 166.7,294.6 173.5,294.7 180.5,294.7 186.9,294.7 191.9,294.6 195.3,294.5 197.9,294.4 199.8,294.2 201.4,294.0 203.0,293.8 205.0,293.5 207.3,293.1 209.6,292.6 212.0,292.1 214.4,291.6 216.7,291.0 219.0,290.5 221.2,290.0 223.5,289.4 225.7,288.9 227.9,288.4 230.0,287.9 232.0,287.5 234.0,287.1 235.9,286.8 237.8,286.6 239.6,286.3 241.3,286.1 243.0,286.0 244.6,285.9 246.0,285.8 247.3,285.8 248.7,285.9 250.2,286.0 252.0,286.2 254.2,286.5 256.8,287.0 259.5,287.6 262.0,288.1 264.2,288.6 265.8,288.9" fill="none" stroke="#8a8a8a" stroke-width="1.1" stroke-linejoin="round" opacity="1"/>
<polyline points="156.8,292.4 160.9,292.4 166.7,292.4 173.5,292.5 180.5,292.5 186.9,292.5 191.9,292.4 195.3,292.3 197.9,292.2 199.8,292.0 201.4,291.8 203.0,291.6 205.0,291.3 207.3,291.0 209.6,290.6 212.0,290.2 214.4,289.8 216.7,289.4 219.0,289.0 221.2,288.6 223.5,288.1 225.7,287.7 227.9,287.2 230.0,286.8 232.0,286.5 234.0,286.2 235.9,286.0 237.8,285.7 239.6,285.5 241.3,285.4 243.0,285.3 244.6,285.2 246.0,285.2 247.3,285.1 248.7,285.2 250.2,285.3 252.0,285.5 254.2,285.8 256.8,286.3 259.5,286.9 262.0,287.5 264.2,288.0 265.8,288.3" fill="none" stroke="#333" stroke-width="1.1" stroke-linejoin="round" opacity="1"/>
<polyline points="279.3,291.6 314.2,291.6 364.0,285.0 368.0,284.6 387.8,284.7" fill="none" stroke="#4a4a4a" stroke-width="1.7" stroke-linejoin="round" opacity="1"/>
<polyline points="34.5,328.3 39.2,328.3 46.0,328.4 53.9,328.4 62.0,328.4 69.4,328.4 75.0,328.3 78.8,328.1 81.4,327.8 83.3,327.5 84.8,327.2 86.2,326.8 88.0,326.5 90.0,326.2 91.8,325.8 93.6,325.4 95.4,325.1 97.5,324.7 100.0,324.3 103.0,323.8 106.4,323.3 110.1,322.8 113.8,322.3 117.2,321.9 120.0,321.8 122.2,321.9 124.0,322.1 125.4,322.5 126.8,322.9 128.3,323.4 130.0,324.0 132.2,324.7 134.7,325.5 137.3,326.4 139.7,327.3 141.8,328.1 143.3,328.6" fill="none" stroke="#e0e0e0" stroke-width="0.8" stroke-linejoin="round" opacity="1"/>
<polyline points="34.5,326.4 39.1,326.4 45.8,326.4 53.6,326.5 61.5,326.5 68.4,326.5 73.5,326.4 76.5,326.3 78.1,326.2 78.8,326.0 79.0,325.8 79.3,325.6 80.0,325.4 81.1,325.1 82.2,324.8 83.3,324.5 84.5,324.1 85.7,323.8 87.0,323.5 88.4,323.2 89.9,322.9 91.4,322.7 92.9,322.4 94.5,322.2 96.0,322.0 97.5,321.8 98.9,321.7 100.4,321.6 101.9,321.5 103.4,321.4 105.0,321.3 106.7,321.2 108.6,321.1 110.5,321.1 112.4,321.0 114.2,321.0 116.0,321.0 117.7,321.0 119.3,321.0 120.9,321.0 122.5,321.1 123.9,321.2 125.3,321.4 126.6,321.7 127.7,322.0 128.8,322.4 129.9,322.9 130.9,323.3 132.0,323.8 133.2,324.3 134.3,324.9 135.5,325.5 136.7,326.0 137.8,326.6 138.8,327.0 139.7,327.4 140.6,327.7 141.5,328.0 142.2,328.2 142.8,328.4 143.3,328.6" fill="none" stroke="#505050" stroke-width="1.0" stroke-linejoin="round" opacity="1"/>
<polyline points="34.5,330.2 39.6,330.2 46.9,330.3 55.5,330.3 64.2,330.4 72.1,330.3 78.0,330.2 81.8,330.0 84.2,329.7 85.8,329.3 86.9,328.9 88.2,328.5 90.0,328.1 92.3,327.7 94.8,327.2 97.4,326.8 100.0,326.3 102.6,325.9 105.0,325.4 107.4,324.9 109.9,324.4 112.3,323.9 114.6,323.4 116.7,323.0 118.5,322.6 120.0,322.3 121.2,322.0 122.3,321.7 123.2,321.5 124.2,321.5 125.3,321.7 126.6,322.1 127.9,322.8 129.2,323.7 130.5,324.6 131.8,325.4 133.0,326.0 134.1,326.4 135.1,326.8 136.1,327.0 137.0,327.2 137.9,327.4 138.8,327.6 139.7,327.8 140.6,328.0 141.4,328.2 142.2,328.4 142.8,328.5 143.3,328.6" fill="none" stroke="#444" stroke-width="1.0" stroke-linejoin="round" opacity="1"/>
<polyline points="156.8,326.0 161.3,326.0 167.7,326.1 175.2,326.1 182.9,326.1 189.8,326.1 195.0,326.0 198.4,325.8 200.6,325.6 202.0,325.3 203.1,324.9 204.3,324.7 206.0,324.4 208.1,324.2 210.2,324.0 212.4,323.8 214.8,323.6 217.3,323.5 220.0,323.4 223.1,323.4 226.6,323.6 230.2,323.7 233.9,323.9 237.2,324.0 240.0,324.0 242.3,323.8 244.1,323.5 245.8,323.2 247.2,322.8 248.6,322.6 250.0,322.6 251.5,322.8 252.8,323.3 254.1,323.9 255.4,324.5 256.7,325.0 258.0,325.4 259.4,325.6 260.9,325.8 262.4,325.9 263.8,325.9 265.0,326.0 265.8,326.0" fill="none" stroke="#555" stroke-width="1.1" stroke-linejoin="round" opacity="1"/>
<polyline points="156.8,332.0 161.7,332.0 168.7,332.1 176.9,332.1 185.2,332.1 192.6,332.1 198.0,332.0 201.2,331.8 202.9,331.5 203.7,331.1 204.1,330.7 204.7,330.4 206.0,330.0 208.0,329.7 210.3,329.4 212.8,329.1 215.3,328.8 217.7,328.4 220.0,328.0 222.1,327.5 224.1,326.9 226.1,326.2 228.1,325.6 230.0,325.1 232.0,324.6 234.0,324.3 236.1,324.0 238.2,323.8 240.3,323.6 242.2,323.5 244.0,323.4 245.6,323.3 247.1,323.3 248.4,323.3 249.7,323.4 250.9,323.6 252.0,324.0 253.0,324.6 253.7,325.4 254.5,326.4 255.2,327.3 256.0,328.2 257.0,329.0 258.3,329.7 260.0,330.3 261.7,330.8 263.4,331.3 264.8,331.7 265.8,332.0" fill="none" stroke="#444" stroke-width="1.1" stroke-linejoin="round" opacity="1"/>
<polyline points="156.8,329.0 161.5,329.0 168.4,329.1 176.3,329.1 184.4,329.1 191.6,329.1 197.0,329.0 200.2,328.8 202.1,328.6 203.1,328.4 203.8,328.1 204.6,327.8 206.0,327.5 208.0,327.2 210.2,327.0 212.6,326.7 215.0,326.4 217.5,326.1 220.0,325.8 222.6,325.5 225.3,325.2 228.1,324.9 230.9,324.5 233.5,324.3 236.0,324.0 238.3,323.7 240.5,323.4 242.6,323.2 244.5,323.0 246.3,322.9 248.0,323.0 249.4,323.3 250.6,323.9 251.6,324.5 252.6,325.2 253.7,325.9 255.0,326.5 256.7,327.0 258.7,327.5 260.8,328.0 262.9,328.4 264.6,328.7 265.8,329.0" fill="none" stroke="#d8d8d8" stroke-width="0.8" stroke-linejoin="round" opacity="1"/>
<polyline points="279.3,328.4 320.0,328.0 360.0,327.3 363.0,327.2" fill="none" stroke="#606060" stroke-width="1.3" stroke-linejoin="round" opacity="1"/>
<polyline points="279.3,330.0 366.0,329.6" fill="none" stroke="#e2e2e2" stroke-width="0.8" stroke-linejoin="round" opacity="1"/>
<polyline points="363.0,327.2 363.6,327.1 364.4,327.0 365.3,326.9 366.3,326.8 367.2,326.7 368.0,326.6 368.6,326.5 369.1,326.4 369.5,326.3 369.9,326.3 370.4,326.3 371.0,326.4 371.8,326.6 372.7,327.0 373.6,327.5 374.6,327.9 375.5,328.3 376.4,328.6 377.2,328.7 377.8,328.8 378.5,328.8 379.2,328.8 379.9,328.8 380.8,328.9 381.9,329.1 383.2,329.4 384.6,329.8 385.9,330.1 387.0,330.4 387.8,330.6" fill="none" stroke="#707070" stroke-width="1.2" stroke-linejoin="round" opacity="1"/>
<polyline points="365.0,327.4 365.4,327.6 366.0,327.9 366.7,328.2 367.5,328.6 368.2,329.0 369.0,329.5 369.7,330.0 370.3,330.7 370.9,331.4 371.6,332.0 372.6,332.6 373.8,333.0 375.5,333.2 377.8,333.3 380.2,333.3 382.6,333.3 384.6,333.2 386.0,333.2" fill="none" stroke="#8a8a8a" stroke-width="0.9" stroke-linejoin="round" opacity="1"/>
</svg></body></html>
